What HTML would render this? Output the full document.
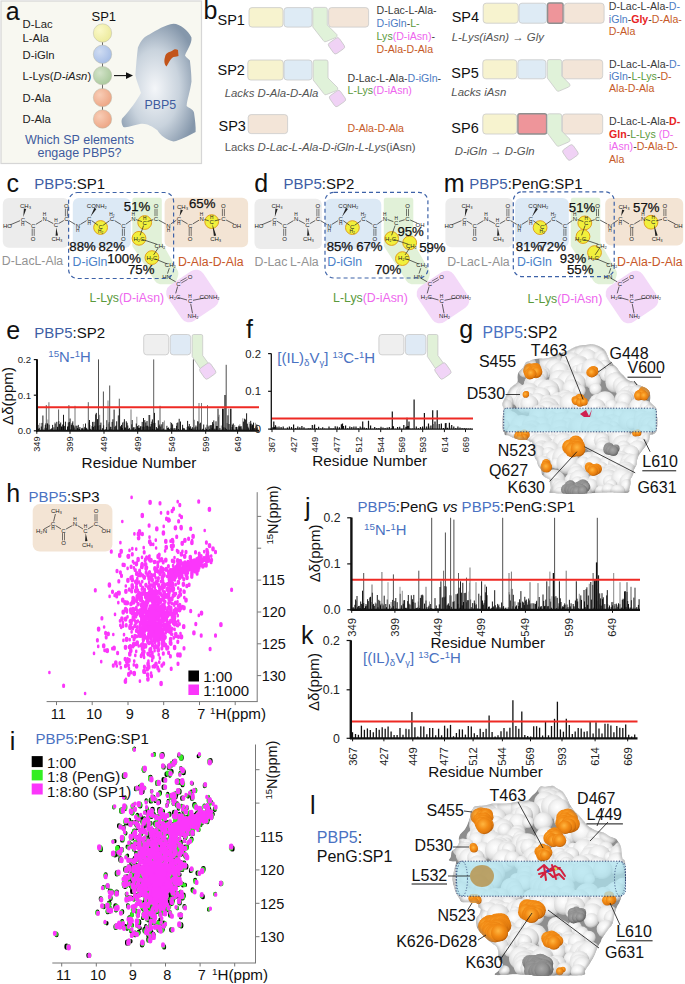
<!DOCTYPE html>
<html><head><meta charset="utf-8"><style>
html,body{margin:0;padding:0;background:#fff;}
body{width:685px;height:984px;overflow:hidden;}
svg{display:block;font-family:"Liberation Sans", sans-serif;}
</style></head><body>
<svg width="685" height="984" viewBox="0 0 685 984">
<defs><radialGradient id="gy" cx="35%" cy="35%" r="70%"><stop offset="0" stop-color="#fbf9c8"/><stop offset="1" stop-color="#ecea9c"/></radialGradient><radialGradient id="gb" cx="35%" cy="35%" r="70%"><stop offset="0" stop-color="#cfdcf2"/><stop offset="1" stop-color="#a6bde6"/></radialGradient><radialGradient id="gg" cx="35%" cy="35%" r="70%"><stop offset="0" stop-color="#d3e3c9"/><stop offset="1" stop-color="#aac99c"/></radialGradient><radialGradient id="go" cx="35%" cy="35%" r="70%"><stop offset="0" stop-color="#f8cdb6"/><stop offset="1" stop-color="#eda584"/></radialGradient><radialGradient id="gp" cx="45%" cy="55%" r="60%"><stop offset="0" stop-color="#f4f6f9"/><stop offset="0.55" stop-color="#c9d3dd"/><stop offset="1" stop-color="#8597ab"/></radialGradient></defs>
<rect x="1.0" y="1.0" width="200.5" height="162.5" fill="#f8f8f1" stroke="#d6d6d6" stroke-width="1.2"/>
<text x="5.8" y="19.6" font-size="25" fill="#111">a</text>
<text x="91.5" y="20.5" font-size="13" fill="#111">SP1</text>
<text x="22.5" y="28.2" font-size="11.3" fill="#222">D-Lac</text>
<text x="22.5" y="41.8" font-size="11.3" fill="#222">L-Ala</text>
<text x="22.5" y="58.6" font-size="11.3" fill="#222">D-iGln</text>
<text x="22.5" y="101.5" font-size="11.3" fill="#222">D-Ala</text>
<text x="22.5" y="122.5" font-size="11.3" fill="#222">D-Ala</text>
<text x="22.5" y="80" font-size="11.3" fill="#222">L-Lys(<tspan font-style="italic">D-iAsn</tspan>)</text>
<line x1="102.5" y1="33.0" x2="102.5" y2="119.0" stroke="#444" stroke-width="0.8" />
<circle cx="102.5" cy="33.0" r="9.2" fill="url(#gy)" stroke="#b8b8a8" stroke-width="0.5"/>
<circle cx="102.5" cy="54.3" r="9.2" fill="url(#gb)" stroke="#b8b8a8" stroke-width="0.5"/>
<circle cx="102.5" cy="75.6" r="9.2" fill="url(#gg)" stroke="#b8b8a8" stroke-width="0.5"/>
<circle cx="102.5" cy="97.6" r="9.2" fill="url(#go)" stroke="#b8b8a8" stroke-width="0.5"/>
<circle cx="102.5" cy="119.0" r="9.2" fill="url(#go)" stroke="#b8b8a8" stroke-width="0.5"/>
<line x1="114.0" y1="75.6" x2="127.0" y2="75.6" stroke="#111" stroke-width="1.1" />
<path d="M126,72.3 L133,75.6 L126,78.9 Z" fill="#111"/>
<path d="M173.6,23.8 C180,24 188,30 191.5,37.6 C192,44 187,50 185,55.5 C186,58 189,59 189.9,60.4 C191,70 191.5,76 191.5,81.5 C190,92 187,100 186.6,105.9 C189,108 193,109 194,112.4 C195,120 196,127 195.6,131.9 C188,136 180,140 173.6,141.6 C166,140 160,135 157.4,130.3 C152,126 146,123 141,123.8 C134,125 128,128 123.3,127 C121,123 121,119 123.3,117.3 C130,110 137,100 141,92.9 C139,86 136,80 135.4,75 C136,65 137,55 137.9,47.4 C141,40 145,36 149.3,34.4 C157,30 165,25 173.6,23.8 Z" fill="url(#gp)"/>
<path d="M165,57 C166,52 170,52 172,51 C174,49 176,49 178,50 L178.5,56 C176,57 174,56 172,58 C170,60 168,64 166.5,66.5 C164,64 164,60 165,57 Z" fill="#c2541a"/>
<text x="144.5" y="108.8" font-size="12.4" fill="#3e5b9e">PBP5</text>
<text x="79.5" y="143.8" font-size="12.5" fill="#3e5b9e" text-anchor="middle">Which SP elements</text>
<text x="79.5" y="157.0" font-size="12.5" fill="#3e5b9e" text-anchor="middle">engage PBP5?</text>
<text x="203.6" y="19.2" font-size="25" fill="#111">b</text>
<text x="217.5" y="24.7" font-size="14.5" fill="#111">SP1</text>
<rect x="249.0" y="7.6" width="34.0" height="19.5" fill="#f7f3cf" rx="3" stroke="#c9c9c9" stroke-width="0.8"/>
<rect x="284.0" y="7.6" width="28.0" height="19.5" fill="#deebf5" rx="3" stroke="#c9c9c9" stroke-width="0.8"/>
<rect x="328.6" y="7.6" width="40.0" height="19.5" fill="#f3e5d8" rx="3" stroke="#c9c9c9" stroke-width="0.8"/>
<path d="M314.8,7.4 L325.3,7.4 Q327.3,7.4 327.3,9.4 L327.3,25 L336.8,34.5 Q337.8,36.5 335.8,37.5 L326.3,41.5 Q324.3,42.5 323.3,40.5 L312.8,27 L312.8,9.4 Q312.8,7.4 314.8,7.4 Z" fill="#e0f2d9" stroke="#c9c9c9" stroke-width="0.8" stroke-linejoin="round"/>
<rect x="330.0" y="39.3" width="13" height="13" rx="2.5" fill="#f0d2f5" stroke="#c9c9c9" stroke-width="0.8" transform="rotate(-35 336.5 45.8)"/>
<text x="376.6" y="14.3" font-size="10.6" fill="#3a3a3a">D-Lac-L-Ala-</text>
<text x="376.6" y="27.3" font-size="10.6"><tspan fill="#4d7cc4">D-iGln</tspan><tspan fill="#3a3a3a">-</tspan><tspan fill="#5b9a3c">L-</tspan></text>
<text x="376.6" y="40.1" font-size="10.6"><tspan fill="#5b9a3c">Lys</tspan><tspan fill="#ee66ee">(D-iAsn)</tspan><tspan fill="#3a3a3a">-</tspan></text>
<text x="376.6" y="52.7" font-size="10.6" fill="#c65a28">D-Ala-D-Ala</text>
<text x="217.5" y="75.2" font-size="14.5" fill="#111">SP2</text>
<rect x="247.8" y="60.0" width="35.5" height="20.0" fill="#f7f3cf" rx="3" stroke="#c9c9c9" stroke-width="0.8"/>
<rect x="284.0" y="60.0" width="28.0" height="20.0" fill="#deebf5" rx="3" stroke="#c9c9c9" stroke-width="0.8"/>
<path d="M315.2,60 L326,60 Q328,60 328,62 L328,78 L337.5,87.5 Q338.5,89.5 336.5,90.5 L326.7,94.5 Q324.7,95.5 323.7,93.5 L313.2,80 L313.2,62 Q313.2,60 315.2,60 Z" fill="#e0f2d9" stroke="#c9c9c9" stroke-width="0.8" stroke-linejoin="round"/>
<rect x="331.0" y="92.0" width="13" height="13" rx="2.5" fill="#f0d2f5" stroke="#c9c9c9" stroke-width="0.8" transform="rotate(-35 337.5 98.5)"/>
<text x="224.7" y="96.6" font-size="11.4" fill="#555" font-style="italic">Lacks D-Ala-D-Ala</text>
<text x="347.5" y="82" font-size="10.6"><tspan fill="#3a3a3a">D-Lac-L-Ala-</tspan><tspan fill="#4d7cc4">D-iGln</tspan><tspan fill="#3a3a3a">-</tspan></text>
<text x="347.5" y="94.3" font-size="10.6"><tspan fill="#5b9a3c">L-Lys</tspan><tspan fill="#ee66ee">(D-iAsn)</tspan></text>
<text x="218.5" y="130.6" font-size="14.5" fill="#111">SP3</text>
<rect x="248.2" y="114.6" width="39.4" height="19.0" fill="#f3e5d8" rx="3" stroke="#c9c9c9" stroke-width="0.8"/>
<text x="347.5" y="132.0" font-size="10.6" fill="#c65a28">D-Ala-D-Ala</text>
<text x="224.7" y="150.7" font-size="11.4" fill="#555">Lacks <tspan font-style="italic">D-Lac-L-Ala-D-iGln-L-Lys</tspan>(iAsn)</text>
<text x="451.7" y="21.9" font-size="14.5" fill="#111">SP4</text>
<rect x="483.2" y="3.2" width="35.0" height="20.0" fill="#f7f3cf" rx="3" stroke="#c9c9c9" stroke-width="0.8"/>
<rect x="519.0" y="3.2" width="27.6" height="20.0" fill="#deebf5" rx="3" stroke="#c9c9c9" stroke-width="0.8"/>
<rect x="547.6" y="3.0" width="15.5" height="20.2" fill="#ee959a" rx="2" stroke="#8f8f8f" stroke-width="1.4"/>
<rect x="564.3" y="3.2" width="39.8" height="20.0" fill="#f3e5d8" rx="3" stroke="#c9c9c9" stroke-width="0.8"/>
<text x="451.7" y="40.6" font-size="11.4" fill="#555" font-style="italic">L-Lys(iAsn) → Gly</text>
<text x="608.8" y="10.2" font-size="10.6"><tspan fill="#3a3a3a">D-Lac-L-Ala-</tspan><tspan fill="#4d7cc4">D-</tspan></text>
<text x="608.8" y="22.6" font-size="10.6"><tspan fill="#4d7cc4">iGln</tspan><tspan fill="#3a3a3a">-</tspan><tspan fill="#e8231f" font-weight="bold">Gly</tspan><tspan fill="#3a3a3a">-</tspan><tspan fill="#c65a28">D-Ala-</tspan></text>
<text x="608.8" y="35.0" font-size="10.6" fill="#c65a28">D-Ala</text>
<text x="451.3" y="78.0" font-size="14.5" fill="#111">SP5</text>
<rect x="482.8" y="59.8" width="34.0" height="19.0" fill="#f7f3cf" rx="3" stroke="#c9c9c9" stroke-width="0.8"/>
<rect x="517.9" y="59.8" width="28.0" height="19.0" fill="#deebf5" rx="3" stroke="#c9c9c9" stroke-width="0.8"/>
<rect x="562.4" y="59.8" width="40.3" height="19.0" fill="#f3e5d8" rx="3" stroke="#c9c9c9" stroke-width="0.8"/>
<path d="M549.3,59.6 L559.7,59.6 Q561.7,59.6 561.7,61.6 L561.7,76 L569.7,84 Q570.7,86 568.7,87 L559.3,91 Q557.3,92 556.3,90 L547.3,78 L547.3,61.6 Q547.3,59.6 549.3,59.6 Z" fill="#e0f2d9" stroke="#c9c9c9" stroke-width="0.8" stroke-linejoin="round"/>
<text x="451.3" y="95.5" font-size="11.4" fill="#555" font-style="italic">Lacks iAsn</text>
<text x="609" y="67.5" font-size="10.6"><tspan fill="#3a3a3a">D-Lac-L-Ala-</tspan><tspan fill="#4d7cc4">D-</tspan></text>
<text x="609" y="79.5" font-size="10.6"><tspan fill="#4d7cc4">iGln</tspan><tspan fill="#3a3a3a">-</tspan><tspan fill="#5b9a3c">L-Lys</tspan><tspan fill="#3a3a3a">-</tspan><tspan fill="#c65a28">D-</tspan></text>
<text x="609.0" y="91.5" font-size="10.6" fill="#c65a28">Ala-D-Ala</text>
<text x="451.3" y="133.4" font-size="14.5" fill="#111">SP6</text>
<rect x="482.8" y="114.0" width="34.0" height="20.0" fill="#f7f3cf" rx="3" stroke="#c9c9c9" stroke-width="0.8"/>
<rect x="517.9" y="113.8" width="28.7" height="20.2" fill="#ee959a" rx="2" stroke="#8f8f8f" stroke-width="1.4"/>
<rect x="562.4" y="114.0" width="40.3" height="20.0" fill="#f3e5d8" rx="3" stroke="#c9c9c9" stroke-width="0.8"/>
<path d="M549.3,113.8 L559.7,113.8 Q561.7,113.8 561.7,115.8 L561.7,131 L569.7,139 Q570.7,141 568.7,142 L559.3,146 Q557.3,147 556.3,145 L547.3,133 L547.3,115.8 Q547.3,113.8 549.3,113.8 Z" fill="#e0f2d9" stroke="#c9c9c9" stroke-width="0.8" stroke-linejoin="round"/>
<rect x="564.2" y="146.2" width="12.5" height="12.5" rx="2.5" fill="#f0d2f5" stroke="#c9c9c9" stroke-width="0.8" transform="rotate(-35 570.5 152.5)"/>
<text x="454.8" y="155.1" font-size="11.4" fill="#555" font-style="italic">D-iGln → D-Gln</text>
<text x="609" y="125.3" font-size="10.6"><tspan fill="#3a3a3a">D-Lac-L-Ala-</tspan><tspan fill="#e8231f" font-weight="bold">D-</tspan></text>
<text x="609" y="137.6" font-size="10.6"><tspan fill="#e8231f" font-weight="bold">Gln</tspan><tspan fill="#3a3a3a">-</tspan><tspan fill="#5b9a3c">L-Lys </tspan><tspan fill="#ee66ee">(D-</tspan></text>
<text x="609" y="149.9" font-size="10.6"><tspan fill="#ee66ee">iAsn)</tspan><tspan fill="#3a3a3a">-</tspan><tspan fill="#c65a28">D-Ala-D-</tspan></text>
<text x="609.0" y="162.5" font-size="10.6" fill="#c65a28">Ala</text>
<text x="6.6" y="192.0" font-size="25" fill="#111">c</text>
<text x="34.2" y="189" font-size="15"><tspan fill="#3e5ea5">PBP5</tspan><tspan fill="#111">:SP1</tspan></text>
<rect x="2.8" y="198.0" width="66.5" height="49.8" fill="#ececec" rx="6"/>
<rect x="72.8" y="198.0" width="58.0" height="50.0" fill="#dce9f5" rx="6"/>
<path d="M134.5,197.8 L159.6,197.8 Q161.8,197.8 161.8,200 L161.8,242.4 L177.9,270.9 Q178.8,273 178,276 L176,282 Q175,284.2 172,284.2 L160,284.2 Q157,284.2 155,281 L132.3,246 L132.3,200 Q132.3,197.8 134.5,197.8 Z" fill="#e1f1d8"/>
<rect x="164.6" y="197.8" width="83.5" height="49.4" fill="#f3e4d4" rx="6"/>
<rect x="171.0" y="274.5" width="43" height="43" rx="9" fill="#f3d8f8" transform="rotate(-34 192.5 296.0)"/>
<circle cx="100.6" cy="227.5" r="6.9" fill="#f1f03c" stroke="#e0a020" stroke-width="1.0"/>
<circle cx="144.7" cy="222.5" r="6.9" fill="#f1f03c" stroke="#e0a020" stroke-width="1.0"/>
<circle cx="139.0" cy="238.3" r="6.9" fill="#f1f03c" stroke="#e0a020" stroke-width="1.0"/>
<circle cx="151.9" cy="257.6" r="6.9" fill="#f1f03c" stroke="#e0a020" stroke-width="1.0"/>
<circle cx="211.7" cy="221.6" r="6.9" fill="#f1f03c" stroke="#e0a020" stroke-width="1.0"/>
<line x1="10.3" y1="224.8" x2="20.0" y2="220.7" stroke="#222" stroke-width="0.7" />
<line x1="25.3" y1="221.1" x2="30.7" y2="224.4" stroke="#222" stroke-width="0.7" />
<line x1="35.8" y1="224.4" x2="42.0" y2="220.6" stroke="#222" stroke-width="0.7" />
<line x1="47.3" y1="220.4" x2="53.3" y2="223.6" stroke="#222" stroke-width="0.7" />
<line x1="58.6" y1="223.5" x2="63.8" y2="220.5" stroke="#222" stroke-width="0.7" />
<line x1="69.0" y1="220.6" x2="75.2" y2="224.4" stroke="#222" stroke-width="0.7" />
<line x1="80.4" y1="224.4" x2="86.6" y2="220.6" stroke="#222" stroke-width="0.7" />
<line x1="91.7" y1="220.7" x2="98.1" y2="225.3" stroke="#222" stroke-width="0.7" />
<line x1="103.1" y1="225.3" x2="109.5" y2="220.7" stroke="#222" stroke-width="0.7" />
<line x1="114.6" y1="220.6" x2="120.8" y2="224.4" stroke="#222" stroke-width="0.7" />
<line x1="125.8" y1="224.2" x2="130.9" y2="220.5" stroke="#222" stroke-width="0.7" />
<line x1="136.1" y1="219.6" x2="141.9" y2="221.6" stroke="#222" stroke-width="0.7" />
<line x1="147.5" y1="221.5" x2="153.2" y2="219.7" stroke="#222" stroke-width="0.7" />
<line x1="158.6" y1="220.1" x2="165.8" y2="224.0" stroke="#222" stroke-width="0.7" />
<line x1="170.9" y1="223.8" x2="176.3" y2="220.3" stroke="#222" stroke-width="0.7" />
<line x1="181.4" y1="220.2" x2="187.6" y2="223.9" stroke="#222" stroke-width="0.7" />
<line x1="192.8" y1="223.9" x2="199.0" y2="220.2" stroke="#222" stroke-width="0.7" />
<line x1="204.5" y1="219.5" x2="208.8" y2="220.8" stroke="#222" stroke-width="0.7" />
<line x1="214.6" y1="220.9" x2="220.5" y2="219.4" stroke="#222" stroke-width="0.7" />
<line x1="226.1" y1="220.0" x2="234.0" y2="224.1" stroke="#222" stroke-width="0.7" />
<text x="7.5" y="228.2" font-size="6.0" fill="#222" text-anchor="middle">HO</text>
<text x="22.8" y="221.7" font-size="6.0" fill="#222" text-anchor="middle">C</text>
<text x="33.2" y="228.2" font-size="6.0" fill="#222" text-anchor="middle">C</text>
<text x="44.6" y="221.2" font-size="6.0" fill="#222" text-anchor="middle">N</text>
<text x="56.0" y="227.2" font-size="6.0" fill="#222" text-anchor="middle">C</text>
<text x="66.4" y="221.2" font-size="6.0" fill="#222" text-anchor="middle">C</text>
<text x="77.8" y="228.2" font-size="6.0" fill="#222" text-anchor="middle">N</text>
<text x="89.2" y="221.2" font-size="6.0" fill="#222" text-anchor="middle">C</text>
<text x="100.6" y="229.2" font-size="6.0" fill="#222" text-anchor="middle">C</text>
<text x="112.0" y="221.2" font-size="6.0" fill="#222" text-anchor="middle">C</text>
<text x="123.4" y="228.2" font-size="6.0" fill="#222" text-anchor="middle">C</text>
<text x="133.3" y="220.9" font-size="6.0" fill="#222" text-anchor="middle">N</text>
<text x="144.7" y="224.7" font-size="6.0" fill="#222" text-anchor="middle">C</text>
<text x="156.0" y="220.9" font-size="6.0" fill="#222" text-anchor="middle">C</text>
<text x="168.4" y="227.6" font-size="6.0" fill="#222" text-anchor="middle">N</text>
<text x="178.8" y="220.9" font-size="6.0" fill="#222" text-anchor="middle">C</text>
<text x="190.2" y="227.6" font-size="6.0" fill="#222" text-anchor="middle">C</text>
<text x="201.6" y="220.9" font-size="6.0" fill="#222" text-anchor="middle">N</text>
<text x="211.7" y="223.8" font-size="6.0" fill="#222" text-anchor="middle">C</text>
<text x="223.4" y="220.9" font-size="6.0" fill="#222" text-anchor="middle">C</text>
<text x="236.7" y="227.6" font-size="6.0" fill="#222" text-anchor="middle">OH</text>
<path d="M23.3,217.1 L26.2,209.0 L23.9,208.5 Z" fill="#222"/>
<text x="25.6" y="208.2" font-size="6.0" fill="#222" text-anchor="middle">CH₃</text>
<text x="22.8" y="225.8" font-size="4.8" fill="#222" text-anchor="middle">H</text>
<line x1="34.2" y1="228.6" x2="34.2" y2="235.9" stroke="#222" stroke-width="0.6" /><line x1="32.2" y1="228.6" x2="32.2" y2="235.9" stroke="#222" stroke-width="0.6" />
<text x="33.2" y="240.7" font-size="6.0" fill="#222" text-anchor="middle">O</text>
<text x="44.6" y="216.1" font-size="4.8" fill="#222" text-anchor="middle">H</text>
<path d="M56.2,227.5 L55.6,235.8 L58.0,235.6 Z" fill="#222"/>
<text x="57.0" y="240.7" font-size="6.0" fill="#222" text-anchor="middle">CH₃</text>
<text x="56.0" y="222.1" font-size="4.8" fill="#222" text-anchor="middle">H</text>
<line x1="65.4" y1="216.4" x2="65.4" y2="208.6" stroke="#222" stroke-width="0.6" /><line x1="67.4" y1="216.4" x2="67.4" y2="208.6" stroke="#222" stroke-width="0.6" />
<text x="66.4" y="208.2" font-size="6.0" fill="#222" text-anchor="middle">O</text>
<text x="77.8" y="232.3" font-size="4.8" fill="#222" text-anchor="middle">H</text>
<path d="M90.5,216.8 L96.4,209.0 L94.4,207.8 Z" fill="#222"/>
<text x="96.8" y="208.2" font-size="6.0" fill="#222" text-anchor="middle">CONH₂</text>
<text x="89.2" y="225.3" font-size="4.8" fill="#222" text-anchor="middle">H</text>
<text x="100.6" y="233.3" font-size="4.8" fill="#222" text-anchor="middle">H₂</text>
<text x="112.0" y="216.1" font-size="4.8" fill="#222" text-anchor="middle">H₂</text>
<line x1="124.4" y1="228.6" x2="124.4" y2="235.9" stroke="#222" stroke-width="0.6" /><line x1="122.4" y1="228.6" x2="122.4" y2="235.9" stroke="#222" stroke-width="0.6" />
<text x="123.4" y="240.7" font-size="6.0" fill="#222" text-anchor="middle">O</text>
<text x="133.3" y="215.8" font-size="4.8" fill="#222" text-anchor="middle">H</text>
<text x="144.7" y="219.6" font-size="4.8" fill="#222" text-anchor="middle">H</text>
<line x1="155.0" y1="216.1" x2="155.0" y2="208.8" stroke="#222" stroke-width="0.6" /><line x1="157.0" y1="216.1" x2="157.0" y2="208.8" stroke="#222" stroke-width="0.6" />
<text x="156.0" y="208.4" font-size="6.0" fill="#222" text-anchor="middle">O</text>
<text x="168.4" y="231.7" font-size="4.8" fill="#222" text-anchor="middle">H</text>
<path d="M179.6,216.3 L182.9,210.2 L180.6,209.5 Z" fill="#222"/>
<text x="182.6" y="209.4" font-size="6.0" fill="#222" text-anchor="middle">CH₃</text>
<text x="178.8" y="225.0" font-size="4.8" fill="#222" text-anchor="middle">H</text>
<line x1="191.2" y1="228.0" x2="191.2" y2="236.1" stroke="#222" stroke-width="0.6" /><line x1="189.2" y1="228.0" x2="189.2" y2="236.1" stroke="#222" stroke-width="0.6" />
<text x="190.2" y="240.9" font-size="6.0" fill="#222" text-anchor="middle">O</text>
<text x="201.6" y="215.8" font-size="4.8" fill="#222" text-anchor="middle">H</text>
<line x1="222.4" y1="216.1" x2="222.4" y2="208.8" stroke="#222" stroke-width="0.6" /><line x1="224.4" y1="216.1" x2="224.4" y2="208.8" stroke="#222" stroke-width="0.6" />
<text x="223.4" y="208.4" font-size="6.0" fill="#222" text-anchor="middle">O</text>
<path d="M212.3,224.0 L213.9,236.1 L216.2,235.6 Z" fill="#222"/>
<text x="215.7" y="240.8" font-size="6.0" fill="#222" text-anchor="middle">CH₃</text>
<text x="211.7" y="218.7" font-size="4.8" fill="#222" text-anchor="middle">H</text>
<line x1="143.6" y1="225.5" x2="140.1" y2="235.3" stroke="#222" stroke-width="0.7" />
<line x1="142.0" y1="239.3" x2="156.9" y2="244.3" stroke="#222" stroke-width="0.7" />
<line x1="158.2" y1="248.0" x2="153.6" y2="254.9" stroke="#222" stroke-width="0.7" />
<line x1="154.9" y1="258.8" x2="167.3" y2="264.0" stroke="#222" stroke-width="0.7" />
<line x1="169.3" y1="268.2" x2="167.5" y2="273.6" stroke="#222" stroke-width="0.7" />
<line x1="169.3" y1="278.2" x2="175.7" y2="281.8" stroke="#222" stroke-width="0.7" />
<line x1="177.6" y1="286.5" x2="175.7" y2="293.4" stroke="#222" stroke-width="0.7" />
<line x1="177.9" y1="297.4" x2="187.0" y2="300.0" stroke="#222" stroke-width="0.7" />
<text x="139.0" y="240.5" font-size="6.0" fill="#222" text-anchor="middle">H₂C</text>
<text x="159.9" y="247.5" font-size="6.0" fill="#222" text-anchor="middle">CH₂</text>
<text x="151.9" y="259.8" font-size="6.0" fill="#222" text-anchor="middle">H₂C</text>
<text x="170.3" y="267.4" font-size="6.0" fill="#222" text-anchor="middle">CH₂</text>
<text x="166.5" y="278.8" font-size="6.0" fill="#222" text-anchor="middle">HN</text>
<text x="178.5" y="285.6" font-size="6.0" fill="#222" text-anchor="middle">C</text>
<text x="174.8" y="298.7" font-size="6.0" fill="#222" text-anchor="middle">H₂C</text>
<text x="190.1" y="303.1" font-size="6.0" fill="#222" text-anchor="middle">C</text>
<line x1="180.3" y1="281.2" x2="186.6" y2="277.6" stroke="#222" stroke-width="0.6" /><line x1="181.3" y1="283.0" x2="187.6" y2="279.4" stroke="#222" stroke-width="0.6" />
<text x="190.0" y="279.1" font-size="6.0" fill="#222" text-anchor="middle">O</text>
<text x="190.1" y="298.0" font-size="4.8" fill="#222" text-anchor="middle">H</text>
<line x1="193.0" y1="300.3" x2="205.5" y2="297.8" stroke="#222" stroke-width="0.7" />
<text x="209.6" y="299.4" font-size="6.0" fill="#222" text-anchor="middle">CONH₂</text>
<line x1="190.7" y1="303.8" x2="192.5" y2="313.3" stroke="#222" stroke-width="0.7" />
<text x="193.1" y="318.4" font-size="6.0" fill="#222" text-anchor="middle">NH₂</text>
<rect x="68.6" y="192.5" width="105.0" height="86.0" fill="none" rx="9" stroke="#3d62a8" stroke-width="1.2" stroke-dasharray="4,3"/>
<text x="123.8" y="210.5" font-size="13.2" fill="#111" stroke="#111" stroke-width="0.25">51%</text>
<text x="189.0" y="207.7" font-size="13.2" fill="#111" stroke="#111" stroke-width="0.25">65%</text>
<text x="69.3" y="250.7" font-size="13.2" fill="#111" stroke="#111" stroke-width="0.25">88%</text>
<text x="98.5" y="250.7" font-size="13.2" fill="#111" stroke="#111" stroke-width="0.25">82%</text>
<text x="107.2" y="263.2" font-size="13.2" fill="#111" stroke="#111" stroke-width="0.25">100%</text>
<text x="128.0" y="274.3" font-size="13.2" fill="#111" stroke="#111" stroke-width="0.25">75%</text>
<text x="1.8" y="265.4" font-size="12.3" fill="#939393">D-Lac</text>
<text x="34.5" y="265.4" font-size="12.3" fill="#939393">L-Ala</text>
<text x="72.5" y="266.0" font-size="12.3" fill="#4a7fc8">D-iGln</text>
<text x="177.9" y="266.0" font-size="12.3" fill="#c8582a">D-Ala-D-Ala</text>
<text x="89.4" y="302" font-size="12.3"><tspan fill="#5b9a3c">L-Lys</tspan><tspan fill="#ee66ee">(D-iAsn)</tspan></text>
<text x="254.2" y="191.6" font-size="25" fill="#111">d</text>
<text x="283.4" y="189.1" font-size="15"><tspan fill="#3e5ea5">PBP5</tspan><tspan fill="#111">:SP2</tspan></text>
<rect x="254.5" y="198.7" width="67.4" height="50.4" fill="#ececec" rx="6"/>
<rect x="325.1" y="198.7" width="56.2" height="50.4" fill="#dce9f5" rx="6"/>
<path d="M386.0,197.8 L411.1,197.8 Q413.3,197.8 413.3,200 L413.3,242.4 L429.4,270.9 Q430.3,273 429.5,276 L427.5,282 Q426.5,284.2 423.5,284.2 L411.5,284.2 Q408.5,284.2 406.5,281 L383.8,246 L383.8,200 Q383.8,197.8 386.0,197.8 Z" fill="#e1f1d8"/>
<rect x="421.5" y="275.5" width="43" height="43" rx="9" fill="#f3d8f8" transform="rotate(-34 443.0 297.0)"/>
<circle cx="352.4" cy="227.6" r="6.9" fill="#f1f03c" stroke="#e0a020" stroke-width="1.0"/>
<circle cx="391.6" cy="238.5" r="6.9" fill="#f1f03c" stroke="#e0a020" stroke-width="1.0"/>
<circle cx="409.7" cy="242.8" r="6.9" fill="#f1f03c" stroke="#e0a020" stroke-width="1.0"/>
<circle cx="402.4" cy="258.6" r="6.9" fill="#f1f03c" stroke="#e0a020" stroke-width="1.0"/>
<line x1="261.8" y1="224.8" x2="271.5" y2="220.7" stroke="#222" stroke-width="0.7" />
<line x1="276.8" y1="221.1" x2="282.2" y2="224.4" stroke="#222" stroke-width="0.7" />
<line x1="287.3" y1="224.4" x2="293.5" y2="220.6" stroke="#222" stroke-width="0.7" />
<line x1="298.8" y1="220.4" x2="304.8" y2="223.6" stroke="#222" stroke-width="0.7" />
<line x1="310.1" y1="223.5" x2="315.3" y2="220.5" stroke="#222" stroke-width="0.7" />
<line x1="320.5" y1="220.6" x2="326.7" y2="224.4" stroke="#222" stroke-width="0.7" />
<line x1="331.9" y1="224.4" x2="338.1" y2="220.6" stroke="#222" stroke-width="0.7" />
<line x1="343.2" y1="220.7" x2="349.6" y2="225.3" stroke="#222" stroke-width="0.7" />
<line x1="354.6" y1="225.3" x2="361.0" y2="220.7" stroke="#222" stroke-width="0.7" />
<line x1="366.1" y1="220.6" x2="372.3" y2="224.4" stroke="#222" stroke-width="0.7" />
<line x1="377.3" y1="224.2" x2="382.4" y2="220.5" stroke="#222" stroke-width="0.7" />
<line x1="387.6" y1="219.6" x2="393.4" y2="221.6" stroke="#222" stroke-width="0.7" />
<line x1="399.0" y1="221.5" x2="404.7" y2="219.7" stroke="#222" stroke-width="0.7" />
<line x1="410.2" y1="220.0" x2="417.3" y2="223.2" stroke="#222" stroke-width="0.7" />
<text x="259.0" y="228.2" font-size="6.0" fill="#222" text-anchor="middle">HO</text>
<text x="274.3" y="221.7" font-size="6.0" fill="#222" text-anchor="middle">C</text>
<text x="284.7" y="228.2" font-size="6.0" fill="#222" text-anchor="middle">C</text>
<text x="296.1" y="221.2" font-size="6.0" fill="#222" text-anchor="middle">N</text>
<text x="307.5" y="227.2" font-size="6.0" fill="#222" text-anchor="middle">C</text>
<text x="317.9" y="221.2" font-size="6.0" fill="#222" text-anchor="middle">C</text>
<text x="329.3" y="228.2" font-size="6.0" fill="#222" text-anchor="middle">N</text>
<text x="340.7" y="221.2" font-size="6.0" fill="#222" text-anchor="middle">C</text>
<text x="352.1" y="229.2" font-size="6.0" fill="#222" text-anchor="middle">C</text>
<text x="363.5" y="221.2" font-size="6.0" fill="#222" text-anchor="middle">C</text>
<text x="374.9" y="228.2" font-size="6.0" fill="#222" text-anchor="middle">C</text>
<text x="384.8" y="220.9" font-size="6.0" fill="#222" text-anchor="middle">N</text>
<text x="396.2" y="224.7" font-size="6.0" fill="#222" text-anchor="middle">C</text>
<text x="407.5" y="220.9" font-size="6.0" fill="#222" text-anchor="middle">C</text>
<text x="420.0" y="226.7" font-size="6.0" fill="#222" text-anchor="middle">OH</text>
<path d="M274.8,217.1 L277.7,209.0 L275.4,208.5 Z" fill="#222"/>
<text x="277.1" y="208.2" font-size="6.0" fill="#222" text-anchor="middle">CH₃</text>
<text x="274.3" y="225.8" font-size="4.8" fill="#222" text-anchor="middle">H</text>
<line x1="285.7" y1="228.6" x2="285.7" y2="235.9" stroke="#222" stroke-width="0.6" /><line x1="283.7" y1="228.6" x2="283.7" y2="235.9" stroke="#222" stroke-width="0.6" />
<text x="284.7" y="240.7" font-size="6.0" fill="#222" text-anchor="middle">O</text>
<text x="296.1" y="216.1" font-size="4.8" fill="#222" text-anchor="middle">H</text>
<path d="M307.7,227.5 L307.1,235.8 L309.5,235.6 Z" fill="#222"/>
<text x="308.5" y="240.7" font-size="6.0" fill="#222" text-anchor="middle">CH₃</text>
<text x="307.5" y="222.1" font-size="4.8" fill="#222" text-anchor="middle">H</text>
<line x1="316.9" y1="216.4" x2="316.9" y2="208.6" stroke="#222" stroke-width="0.6" /><line x1="318.9" y1="216.4" x2="318.9" y2="208.6" stroke="#222" stroke-width="0.6" />
<text x="317.9" y="208.2" font-size="6.0" fill="#222" text-anchor="middle">O</text>
<text x="329.3" y="232.3" font-size="4.8" fill="#222" text-anchor="middle">H</text>
<path d="M342.0,216.8 L347.9,209.0 L345.9,207.8 Z" fill="#222"/>
<text x="348.3" y="208.2" font-size="6.0" fill="#222" text-anchor="middle">CONH₂</text>
<text x="340.7" y="225.3" font-size="4.8" fill="#222" text-anchor="middle">H</text>
<text x="352.1" y="233.3" font-size="4.8" fill="#222" text-anchor="middle">H₂</text>
<text x="363.5" y="216.1" font-size="4.8" fill="#222" text-anchor="middle">H₂</text>
<line x1="375.9" y1="228.6" x2="375.9" y2="235.9" stroke="#222" stroke-width="0.6" /><line x1="373.9" y1="228.6" x2="373.9" y2="235.9" stroke="#222" stroke-width="0.6" />
<text x="374.9" y="240.7" font-size="6.0" fill="#222" text-anchor="middle">O</text>
<text x="384.8" y="215.8" font-size="4.8" fill="#222" text-anchor="middle">H</text>
<text x="396.2" y="219.6" font-size="4.8" fill="#222" text-anchor="middle">H</text>
<line x1="406.5" y1="216.1" x2="406.5" y2="208.8" stroke="#222" stroke-width="0.6" /><line x1="408.5" y1="216.1" x2="408.5" y2="208.8" stroke="#222" stroke-width="0.6" />
<text x="407.5" y="208.4" font-size="6.0" fill="#222" text-anchor="middle">O</text>
<line x1="395.1" y1="225.5" x2="391.6" y2="235.3" stroke="#222" stroke-width="0.7" />
<line x1="393.5" y1="239.3" x2="408.4" y2="244.3" stroke="#222" stroke-width="0.7" />
<line x1="409.7" y1="248.0" x2="405.1" y2="254.9" stroke="#222" stroke-width="0.7" />
<line x1="406.4" y1="258.8" x2="418.8" y2="264.0" stroke="#222" stroke-width="0.7" />
<line x1="420.8" y1="268.2" x2="419.0" y2="273.6" stroke="#222" stroke-width="0.7" />
<line x1="420.8" y1="278.2" x2="427.2" y2="281.8" stroke="#222" stroke-width="0.7" />
<line x1="429.1" y1="286.5" x2="427.2" y2="293.4" stroke="#222" stroke-width="0.7" />
<line x1="429.4" y1="297.4" x2="438.5" y2="300.0" stroke="#222" stroke-width="0.7" />
<text x="390.5" y="240.5" font-size="6.0" fill="#222" text-anchor="middle">H₂C</text>
<text x="411.4" y="247.5" font-size="6.0" fill="#222" text-anchor="middle">CH₂</text>
<text x="403.4" y="259.8" font-size="6.0" fill="#222" text-anchor="middle">H₂C</text>
<text x="421.8" y="267.4" font-size="6.0" fill="#222" text-anchor="middle">CH₂</text>
<text x="418.0" y="278.8" font-size="6.0" fill="#222" text-anchor="middle">HN</text>
<text x="430.0" y="285.6" font-size="6.0" fill="#222" text-anchor="middle">C</text>
<text x="426.3" y="298.7" font-size="6.0" fill="#222" text-anchor="middle">H₂C</text>
<text x="441.6" y="303.1" font-size="6.0" fill="#222" text-anchor="middle">C</text>
<line x1="431.8" y1="281.2" x2="438.1" y2="277.6" stroke="#222" stroke-width="0.6" /><line x1="432.8" y1="283.0" x2="439.1" y2="279.4" stroke="#222" stroke-width="0.6" />
<text x="441.5" y="279.1" font-size="6.0" fill="#222" text-anchor="middle">O</text>
<text x="441.6" y="298.0" font-size="4.8" fill="#222" text-anchor="middle">H</text>
<line x1="444.5" y1="300.3" x2="457.0" y2="297.8" stroke="#222" stroke-width="0.7" />
<text x="461.1" y="299.4" font-size="6.0" fill="#222" text-anchor="middle">CONH₂</text>
<line x1="442.2" y1="303.8" x2="444.0" y2="313.3" stroke="#222" stroke-width="0.7" />
<text x="444.6" y="318.4" font-size="6.0" fill="#222" text-anchor="middle">NH₂</text>
<rect x="325.0" y="192.3" width="102.9" height="85.7" fill="none" rx="9" stroke="#3d62a8" stroke-width="1.2" stroke-dasharray="4,3"/>
<text x="326.7" y="251.0" font-size="13.2" fill="#111" stroke="#111" stroke-width="0.25">85%</text>
<text x="356.2" y="251.0" font-size="13.2" fill="#111" stroke="#111" stroke-width="0.25">67%</text>
<text x="397.4" y="236.3" font-size="13.2" fill="#111" stroke="#111" stroke-width="0.25">95%</text>
<text x="419.2" y="252.3" font-size="13.2" fill="#111" stroke="#111" stroke-width="0.25">59%</text>
<text x="374.9" y="274.2" font-size="13.2" fill="#111" stroke="#111" stroke-width="0.25">70%</text>
<text x="254.5" y="266.2" font-size="12.3" fill="#939393">D-Lac</text>
<text x="290.0" y="266.2" font-size="12.3" fill="#939393">L-Ala</text>
<text x="327.3" y="266.0" font-size="12.3" fill="#4a7fc8">D-iGln</text>
<text x="333.1" y="301.5" font-size="12.3"><tspan fill="#5b9a3c">L-Lys</tspan><tspan fill="#ee66ee">(D-iAsn)</tspan></text>
<text x="443.8" y="191.8" font-size="25" fill="#111">m</text>
<text x="469.3" y="189.3" font-size="15"><tspan fill="#3e5ea5">PBP5</tspan><tspan fill="#111">:PenG:SP1</tspan></text>
<rect x="445.4" y="197.9" width="67.9" height="49.4" fill="#ececec" rx="6"/>
<rect x="515.1" y="197.9" width="53.7" height="49.4" fill="#dce9f5" rx="6"/>
<path d="M573.0,197.8 L598.1,197.8 Q600.3,197.8 600.3,200 L600.3,242.4 L616.4,270.9 Q617.3,273 616.5,276 L614.5,282 Q613.5,284.2 610.5,284.2 L598.5,284.2 Q595.5,284.2 593.5,281 L570.8,246 L570.8,200 Q570.8,197.8 573.0,197.8 Z" fill="#e1f1d8"/>
<rect x="605.2" y="197.9" width="78.0" height="47.6" fill="#f3e4d4" rx="6"/>
<rect x="610.5" y="275.5" width="43" height="43" rx="9" fill="#f3d8f8" transform="rotate(-34 632.0 297.0)"/>
<circle cx="540.1" cy="227.6" r="6.9" fill="#f1f03c" stroke="#e0a020" stroke-width="1.0"/>
<circle cx="584.8" cy="222.9" r="6.9" fill="#f1f03c" stroke="#e0a020" stroke-width="1.0"/>
<circle cx="583.0" cy="236.5" r="6.9" fill="#f1f03c" stroke="#e0a020" stroke-width="1.0"/>
<circle cx="594.5" cy="252.6" r="6.9" fill="#f1f03c" stroke="#e0a020" stroke-width="1.0"/>
<circle cx="651.0" cy="222.2" r="6.9" fill="#f1f03c" stroke="#e0a020" stroke-width="1.0"/>
<line x1="451.8" y1="224.8" x2="461.5" y2="220.7" stroke="#222" stroke-width="0.7" />
<line x1="466.8" y1="221.1" x2="472.2" y2="224.4" stroke="#222" stroke-width="0.7" />
<line x1="477.3" y1="224.4" x2="483.5" y2="220.6" stroke="#222" stroke-width="0.7" />
<line x1="488.8" y1="220.4" x2="494.8" y2="223.6" stroke="#222" stroke-width="0.7" />
<line x1="500.1" y1="223.5" x2="505.3" y2="220.5" stroke="#222" stroke-width="0.7" />
<line x1="510.5" y1="220.6" x2="516.7" y2="224.4" stroke="#222" stroke-width="0.7" />
<line x1="521.9" y1="224.4" x2="528.1" y2="220.6" stroke="#222" stroke-width="0.7" />
<line x1="533.2" y1="220.7" x2="539.6" y2="225.3" stroke="#222" stroke-width="0.7" />
<line x1="544.6" y1="225.3" x2="551.0" y2="220.7" stroke="#222" stroke-width="0.7" />
<line x1="556.1" y1="220.6" x2="562.3" y2="224.4" stroke="#222" stroke-width="0.7" />
<line x1="567.3" y1="224.2" x2="572.4" y2="220.5" stroke="#222" stroke-width="0.7" />
<line x1="577.6" y1="219.6" x2="583.4" y2="221.6" stroke="#222" stroke-width="0.7" />
<line x1="589.0" y1="221.5" x2="594.7" y2="219.7" stroke="#222" stroke-width="0.7" />
<line x1="600.1" y1="220.1" x2="607.3" y2="224.0" stroke="#222" stroke-width="0.7" />
<line x1="612.4" y1="223.8" x2="617.8" y2="220.3" stroke="#222" stroke-width="0.7" />
<line x1="622.9" y1="220.2" x2="629.1" y2="223.9" stroke="#222" stroke-width="0.7" />
<line x1="634.3" y1="223.9" x2="640.5" y2="220.2" stroke="#222" stroke-width="0.7" />
<line x1="646.0" y1="219.5" x2="650.3" y2="220.8" stroke="#222" stroke-width="0.7" />
<line x1="656.1" y1="220.9" x2="662.0" y2="219.4" stroke="#222" stroke-width="0.7" />
<line x1="667.6" y1="220.0" x2="675.5" y2="224.1" stroke="#222" stroke-width="0.7" />
<text x="449.0" y="228.2" font-size="6.0" fill="#222" text-anchor="middle">HO</text>
<text x="464.3" y="221.7" font-size="6.0" fill="#222" text-anchor="middle">C</text>
<text x="474.7" y="228.2" font-size="6.0" fill="#222" text-anchor="middle">C</text>
<text x="486.1" y="221.2" font-size="6.0" fill="#222" text-anchor="middle">N</text>
<text x="497.5" y="227.2" font-size="6.0" fill="#222" text-anchor="middle">C</text>
<text x="507.9" y="221.2" font-size="6.0" fill="#222" text-anchor="middle">C</text>
<text x="519.3" y="228.2" font-size="6.0" fill="#222" text-anchor="middle">N</text>
<text x="530.7" y="221.2" font-size="6.0" fill="#222" text-anchor="middle">C</text>
<text x="542.1" y="229.2" font-size="6.0" fill="#222" text-anchor="middle">C</text>
<text x="553.5" y="221.2" font-size="6.0" fill="#222" text-anchor="middle">C</text>
<text x="564.9" y="228.2" font-size="6.0" fill="#222" text-anchor="middle">C</text>
<text x="574.8" y="220.9" font-size="6.0" fill="#222" text-anchor="middle">N</text>
<text x="586.2" y="224.7" font-size="6.0" fill="#222" text-anchor="middle">C</text>
<text x="597.5" y="220.9" font-size="6.0" fill="#222" text-anchor="middle">C</text>
<text x="609.9" y="227.6" font-size="6.0" fill="#222" text-anchor="middle">N</text>
<text x="620.3" y="220.9" font-size="6.0" fill="#222" text-anchor="middle">C</text>
<text x="631.7" y="227.6" font-size="6.0" fill="#222" text-anchor="middle">C</text>
<text x="643.1" y="220.9" font-size="6.0" fill="#222" text-anchor="middle">N</text>
<text x="653.2" y="223.8" font-size="6.0" fill="#222" text-anchor="middle">C</text>
<text x="664.9" y="220.9" font-size="6.0" fill="#222" text-anchor="middle">C</text>
<text x="678.2" y="227.6" font-size="6.0" fill="#222" text-anchor="middle">OH</text>
<path d="M464.8,217.1 L467.7,209.0 L465.4,208.5 Z" fill="#222"/>
<text x="467.1" y="208.2" font-size="6.0" fill="#222" text-anchor="middle">CH₃</text>
<text x="464.3" y="225.8" font-size="4.8" fill="#222" text-anchor="middle">H</text>
<line x1="475.7" y1="228.6" x2="475.7" y2="235.9" stroke="#222" stroke-width="0.6" /><line x1="473.7" y1="228.6" x2="473.7" y2="235.9" stroke="#222" stroke-width="0.6" />
<text x="474.7" y="240.7" font-size="6.0" fill="#222" text-anchor="middle">O</text>
<text x="486.1" y="216.1" font-size="4.8" fill="#222" text-anchor="middle">H</text>
<path d="M497.7,227.5 L497.1,235.8 L499.5,235.6 Z" fill="#222"/>
<text x="498.5" y="240.7" font-size="6.0" fill="#222" text-anchor="middle">CH₃</text>
<text x="497.5" y="222.1" font-size="4.8" fill="#222" text-anchor="middle">H</text>
<line x1="506.9" y1="216.4" x2="506.9" y2="208.6" stroke="#222" stroke-width="0.6" /><line x1="508.9" y1="216.4" x2="508.9" y2="208.6" stroke="#222" stroke-width="0.6" />
<text x="507.9" y="208.2" font-size="6.0" fill="#222" text-anchor="middle">O</text>
<text x="519.3" y="232.3" font-size="4.8" fill="#222" text-anchor="middle">H</text>
<path d="M532.0,216.8 L537.9,209.0 L535.9,207.8 Z" fill="#222"/>
<text x="538.3" y="208.2" font-size="6.0" fill="#222" text-anchor="middle">CONH₂</text>
<text x="530.7" y="225.3" font-size="4.8" fill="#222" text-anchor="middle">H</text>
<text x="542.1" y="233.3" font-size="4.8" fill="#222" text-anchor="middle">H₂</text>
<text x="553.5" y="216.1" font-size="4.8" fill="#222" text-anchor="middle">H₂</text>
<line x1="565.9" y1="228.6" x2="565.9" y2="235.9" stroke="#222" stroke-width="0.6" /><line x1="563.9" y1="228.6" x2="563.9" y2="235.9" stroke="#222" stroke-width="0.6" />
<text x="564.9" y="240.7" font-size="6.0" fill="#222" text-anchor="middle">O</text>
<text x="574.8" y="215.8" font-size="4.8" fill="#222" text-anchor="middle">H</text>
<text x="586.2" y="219.6" font-size="4.8" fill="#222" text-anchor="middle">H</text>
<line x1="596.5" y1="216.1" x2="596.5" y2="208.8" stroke="#222" stroke-width="0.6" /><line x1="598.5" y1="216.1" x2="598.5" y2="208.8" stroke="#222" stroke-width="0.6" />
<text x="597.5" y="208.4" font-size="6.0" fill="#222" text-anchor="middle">O</text>
<text x="609.9" y="231.7" font-size="4.8" fill="#222" text-anchor="middle">H</text>
<path d="M621.1,216.3 L624.4,210.2 L622.1,209.5 Z" fill="#222"/>
<text x="624.1" y="209.4" font-size="6.0" fill="#222" text-anchor="middle">CH₃</text>
<text x="620.3" y="225.0" font-size="4.8" fill="#222" text-anchor="middle">H</text>
<line x1="632.7" y1="228.0" x2="632.7" y2="236.1" stroke="#222" stroke-width="0.6" /><line x1="630.7" y1="228.0" x2="630.7" y2="236.1" stroke="#222" stroke-width="0.6" />
<text x="631.7" y="240.9" font-size="6.0" fill="#222" text-anchor="middle">O</text>
<text x="643.1" y="215.8" font-size="4.8" fill="#222" text-anchor="middle">H</text>
<line x1="663.9" y1="216.1" x2="663.9" y2="208.8" stroke="#222" stroke-width="0.6" /><line x1="665.9" y1="216.1" x2="665.9" y2="208.8" stroke="#222" stroke-width="0.6" />
<text x="664.9" y="208.4" font-size="6.0" fill="#222" text-anchor="middle">O</text>
<path d="M653.8,224.0 L655.4,236.1 L657.7,235.6 Z" fill="#222"/>
<text x="657.2" y="240.8" font-size="6.0" fill="#222" text-anchor="middle">CH₃</text>
<text x="653.2" y="218.7" font-size="4.8" fill="#222" text-anchor="middle">H</text>
<line x1="585.1" y1="225.5" x2="581.6" y2="235.3" stroke="#222" stroke-width="0.7" />
<line x1="583.5" y1="239.3" x2="598.4" y2="244.3" stroke="#222" stroke-width="0.7" />
<line x1="599.7" y1="248.0" x2="595.1" y2="254.9" stroke="#222" stroke-width="0.7" />
<line x1="596.4" y1="258.8" x2="608.8" y2="264.0" stroke="#222" stroke-width="0.7" />
<line x1="610.8" y1="268.2" x2="609.0" y2="273.6" stroke="#222" stroke-width="0.7" />
<line x1="610.8" y1="278.2" x2="617.2" y2="281.8" stroke="#222" stroke-width="0.7" />
<line x1="619.1" y1="286.5" x2="617.2" y2="293.4" stroke="#222" stroke-width="0.7" />
<line x1="619.4" y1="297.4" x2="628.5" y2="300.0" stroke="#222" stroke-width="0.7" />
<text x="580.5" y="240.5" font-size="6.0" fill="#222" text-anchor="middle">H₂C</text>
<text x="601.4" y="247.5" font-size="6.0" fill="#222" text-anchor="middle">CH₂</text>
<text x="593.4" y="259.8" font-size="6.0" fill="#222" text-anchor="middle">H₂C</text>
<text x="611.8" y="267.4" font-size="6.0" fill="#222" text-anchor="middle">CH₂</text>
<text x="608.0" y="278.8" font-size="6.0" fill="#222" text-anchor="middle">HN</text>
<text x="620.0" y="285.6" font-size="6.0" fill="#222" text-anchor="middle">C</text>
<text x="616.3" y="298.7" font-size="6.0" fill="#222" text-anchor="middle">H₂C</text>
<text x="631.6" y="303.1" font-size="6.0" fill="#222" text-anchor="middle">C</text>
<line x1="621.8" y1="281.2" x2="628.1" y2="277.6" stroke="#222" stroke-width="0.6" /><line x1="622.8" y1="283.0" x2="629.1" y2="279.4" stroke="#222" stroke-width="0.6" />
<text x="631.5" y="279.1" font-size="6.0" fill="#222" text-anchor="middle">O</text>
<text x="631.6" y="298.0" font-size="4.8" fill="#222" text-anchor="middle">H</text>
<line x1="634.5" y1="300.3" x2="647.0" y2="297.8" stroke="#222" stroke-width="0.7" />
<text x="651.1" y="299.4" font-size="6.0" fill="#222" text-anchor="middle">CONH₂</text>
<line x1="632.2" y1="303.8" x2="634.0" y2="313.3" stroke="#222" stroke-width="0.7" />
<text x="634.6" y="318.4" font-size="6.0" fill="#222" text-anchor="middle">NH₂</text>
<rect x="513.3" y="191.8" width="100.9" height="84.8" fill="none" rx="9" stroke="#3d62a8" stroke-width="1.2" stroke-dasharray="4,3"/>
<text x="568.8" y="211.5" font-size="13.2" fill="#111" stroke="#111" stroke-width="0.25">51%</text>
<text x="633.1" y="211.5" font-size="13.2" fill="#111" stroke="#111" stroke-width="0.25">57%</text>
<text x="515.8" y="250.8" font-size="13.2" fill="#111" stroke="#111" stroke-width="0.25">81%</text>
<text x="539.5" y="250.8" font-size="13.2" fill="#111" stroke="#111" stroke-width="0.25">72%</text>
<text x="559.8" y="262.6" font-size="13.2" fill="#111" stroke="#111" stroke-width="0.25">93%</text>
<text x="567.0" y="274.0" font-size="13.2" fill="#111" stroke="#111" stroke-width="0.25">55%</text>
<text x="447.2" y="266.2" font-size="12.3" fill="#939393">D-Lac</text>
<text x="481.0" y="266.2" font-size="12.3" fill="#939393">L-Ala</text>
<text x="516.9" y="266.0" font-size="12.3" fill="#4a7fc8">D-iGln</text>
<text x="617.0" y="266.0" font-size="12.3" fill="#c8582a">D-Ala-D-Ala</text>
<text x="527.6" y="302.7" font-size="12.3"><tspan fill="#5b9a3c">L-Lys</tspan><tspan fill="#ee66ee">(D-iAsn)</tspan></text>
<text x="6.2" y="338.7" font-size="25" fill="#111">e</text>
<text x="34.2" y="337.5" font-size="15"><tspan fill="#3e5ea5">PBP5</tspan><tspan fill="#111">:SP2</tspan></text>
<text x="48.2" y="362" font-size="14.8" fill="#4a72c2"><tspan font-size="9.8" dy="-5">15</tspan><tspan dy="5">N-</tspan><tspan font-size="9.5" dy="-5">1</tspan><tspan dy="5">H</tspan></text>
<rect x="143.7" y="334.5" width="25.0" height="20.3" fill="#efefef" rx="3" stroke="#c8c8c8" stroke-width="0.8"/>
<rect x="170.2" y="334.5" width="20.5" height="20.3" fill="#dfeaf5" rx="3" stroke="#c8c8c8" stroke-width="0.8"/>
<path d="M193.7,334.5 L201.2,334.5 Q202.7,334.5 202.7,336.0 L202.7,355.5 L209.2,364.5 L200.2,368.5 L192.2,356.5 L192.2,336.0 Q192.2,334.5 193.7,334.5 Z" fill="#e1f1d8" stroke="#c8c8c8" stroke-width="0.8" stroke-linejoin="round"/>
<rect x="201.2" y="364.5" width="13" height="13" rx="2.5" fill="#f1d4f7" stroke="#c8c8c8" stroke-width="0.8" transform="rotate(-35 207.7 371.0)"/>
<path d="M39.8 430.8v-7.7M40.7 430.8v-0.8M44.5 430.8v-3.1M47.9 430.8v-11.4M52.1 430.8v-2.8M54.9 430.8v-8.6M58.1 430.8v-3.6M60.1 430.8v-6.8M74.9 430.8v-4.8M75.6 430.8v-1.7M83.4 430.8v-6.9M88.7 430.8v-8.4M90.0 430.8v-5.7M98.8 430.8v-14.2M99.6 430.8v-16.1M116.2 430.8v-5.6M117.7 430.8v-1.5M118.2 430.8v-15.4M123.7 430.8v-9.1M136.8 430.8v-14.0M144.4 430.8v-4.1M148.5 430.8v-15.9M161.0 430.8v-4.2M164.4 430.8v-10.4M165.2 430.8v-1.3M170.5 430.8v-8.7M174.5 430.8v-2.7M187.0 430.8v-3.7M194.4 430.8v-11.1M199.0 430.8v-2.8M214.5 430.8v-1.8M218.6 430.8v-14.0M219.2 430.8v-16.1M221.3 430.8v-5.4M227.1 430.8v-7.9M228.7 430.8v-22.1M231.4 430.8v-22.1M234.7 430.8v-5.7M237.3 430.8v-1.8M239.8 430.8v-6.6M242.8 430.8v-12.6M249.2 430.8v-8.7M255.4 430.8v-8.1" stroke="#9a9a9a" stroke-width="1.1" fill="none"/>
<path d="M38.0 430.8v-5.9M38.7 430.8v-1.8M39.2 430.8v-2.9M41.3 430.8v-4.3M42.0 430.8v-7.9M42.9 430.8v-15.3M43.3 430.8v-0.9M44.0 430.8v-0.9M45.3 430.8v-5.9M45.9 430.8v-7.4M46.6 430.8v-2.9M47.5 430.8v-7.4M48.5 430.8v-6.3M49.3 430.8v-6.1M50.2 430.8v-1.9M51.6 430.8v-2.3M52.6 430.8v-5.9M53.9 430.8v-3.5M55.2 430.8v-7.3M56.3 430.8v-0.9M56.8 430.8v-9.0M57.5 430.8v-4.0M58.8 430.8v-9.7M59.4 430.8v-6.6M60.7 430.8v-8.3M61.5 430.8v-4.3M62.0 430.8v-4.1M62.7 430.8v-6.3M63.5 430.8v-16.0M63.9 430.8v-4.4M64.8 430.8v-4.9M65.4 430.8v-9.1M67.5 430.8v-4.3M68.3 430.8v-8.4M68.6 430.8v-4.6M69.4 430.8v-8.8M70.1 430.8v-12.3M70.9 430.8v-1.4M71.4 430.8v-6.0M72.1 430.8v-7.6M72.8 430.8v-9.4M73.6 430.8v-5.5M74.3 430.8v-3.3M76.0 430.8v-5.2M77.0 430.8v-4.9M77.5 430.8v-2.7M78.3 430.8v-5.9M79.0 430.8v-2.0M79.5 430.8v-2.0M79.9 430.8v-3.8M80.9 430.8v-0.8M81.6 430.8v-2.5M82.3 430.8v-3.0M82.7 430.8v-1.9M84.1 430.8v-2.4M84.8 430.8v-3.9M85.5 430.8v-7.3M86.3 430.8v-2.2M86.7 430.8v-3.0M87.6 430.8v-1.4M89.5 430.8v-10.8M90.7 430.8v-2.0M91.3 430.8v-0.8M92.1 430.8v-4.6M92.6 430.8v-8.9M93.6 430.8v-3.9M94.0 430.8v-9.0M94.9 430.8v-5.1M95.7 430.8v-16.4M96.3 430.8v-17.9M97.5 430.8v-11.7M98.2 430.8v-5.1M100.1 430.8v-5.7M100.9 430.8v-8.2M102.4 430.8v-2.6M102.9 430.8v-1.2M103.6 430.8v-5.5M104.8 430.8v-1.0M105.7 430.8v-1.4M106.4 430.8v-3.7M106.9 430.8v-10.6M107.4 430.8v-1.1M108.3 430.8v-7.1M109.0 430.8v-8.7M109.4 430.8v-2.0M110.2 430.8v-4.1M110.9 430.8v-3.8M111.4 430.8v-1.3M112.1 430.8v-8.9M112.9 430.8v-11.5M114.1 430.8v-21.2M114.9 430.8v-3.9M115.8 430.8v-4.9M116.7 430.8v-9.5M118.9 430.8v-15.4M119.6 430.8v-22.1M120.4 430.8v-4.6M121.1 430.8v-3.8M121.5 430.8v-5.9M122.3 430.8v-2.8M122.7 430.8v-8.3M124.4 430.8v-11.6M124.8 430.8v-3.4M125.6 430.8v-3.2M126.3 430.8v-9.5M127.1 430.8v-8.0M127.8 430.8v-5.3M128.2 430.8v-1.5M128.8 430.8v-2.0M129.4 430.8v-2.9M130.2 430.8v-0.8M130.8 430.8v-1.2M131.7 430.8v-6.5M132.2 430.8v-10.8M132.9 430.8v-2.5M133.6 430.8v-3.6M134.9 430.8v-3.5M135.5 430.8v-1.6M136.3 430.8v-7.3M137.5 430.8v-4.7M138.4 430.8v-2.9M138.8 430.8v-5.6M139.6 430.8v-2.9M140.4 430.8v-4.4M141.0 430.8v-4.6M142.2 430.8v-8.9M142.9 430.8v-4.1M143.5 430.8v-12.8M144.8 430.8v-10.7M145.8 430.8v-8.4M146.2 430.8v-5.0M147.0 430.8v-9.8M147.6 430.8v-5.1M148.9 430.8v-4.2M149.7 430.8v-15.8M150.4 430.8v-4.3M151.2 430.8v-6.8M151.9 430.8v-9.2M152.4 430.8v-11.4M153.0 430.8v-1.7M153.7 430.8v-7.7M154.5 430.8v-17.9M154.9 430.8v-7.9M155.5 430.8v-0.7M156.4 430.8v-3.8M157.1 430.8v-2.5M157.7 430.8v-2.3M158.3 430.8v-10.5M159.0 430.8v-5.1M159.8 430.8v-6.3M160.3 430.8v-4.2M161.8 430.8v-6.5M162.2 430.8v-1.3M162.9 430.8v-8.7M163.7 430.8v-2.3M166.9 430.8v-5.0M167.6 430.8v-2.8M168.5 430.8v-3.3M169.3 430.8v-2.0M169.6 430.8v-1.2M171.0 430.8v-2.9M171.6 430.8v-7.9M172.6 430.8v-6.4M173.1 430.8v-2.6M175.0 430.8v-2.6M175.9 430.8v-0.5M176.6 430.8v-5.0M177.0 430.8v-7.8M177.9 430.8v-8.4M178.5 430.8v-1.7M179.2 430.8v-12.0M180.5 430.8v-9.3M182.6 430.8v-6.0M183.0 430.8v-2.9M183.8 430.8v-2.5M184.3 430.8v-2.4M185.2 430.8v-0.8M186.0 430.8v-0.6M187.6 430.8v-9.9M188.4 430.8v-4.5M189.3 430.8v-6.8M189.6 430.8v-3.2M190.6 430.8v-4.5M191.2 430.8v-2.1M191.7 430.8v-2.0M192.4 430.8v-3.6M193.8 430.8v-2.5M195.1 430.8v-3.6M195.9 430.8v-5.3M197.1 430.8v-4.1M197.7 430.8v-9.6M198.4 430.8v-9.2M199.6 430.8v-7.2M200.4 430.8v-8.1M201.2 430.8v-2.3M201.8 430.8v-0.8M202.4 430.8v-1.6M203.2 430.8v-2.3M203.7 430.8v-6.3M205.1 430.8v-0.7M205.8 430.8v-3.3M206.6 430.8v-1.8M207.1 430.8v-6.1M207.9 430.8v-3.9M209.0 430.8v-5.1M209.7 430.8v-1.9M210.3 430.8v-5.6M211.3 430.8v-5.7M212.0 430.8v-3.1M212.6 430.8v-8.7M213.1 430.8v-7.0M213.8 430.8v-10.4M215.0 430.8v-2.3M216.0 430.8v-9.5M216.4 430.8v-4.8M217.3 430.8v-4.8M218.0 430.8v-22.1M219.9 430.8v-2.8M221.8 430.8v-0.9M222.5 430.8v-22.1M223.3 430.8v-22.1M223.9 430.8v-3.5M225.3 430.8v-3.0M226.4 430.8v-1.9M227.9 430.8v-15.5M229.1 430.8v-6.8M230.6 430.8v-22.1M232.1 430.8v-3.8M232.4 430.8v-6.2M233.3 430.8v-7.3M233.9 430.8v-1.1M235.9 430.8v-3.8M236.5 430.8v-3.9M238.0 430.8v-3.6M238.8 430.8v-5.1M239.4 430.8v-4.4M240.7 430.8v-4.3M241.1 430.8v-4.6M242.0 430.8v-2.2M243.4 430.8v-9.2M244.6 430.8v-12.1M245.4 430.8v-11.3M246.6 430.8v-17.5M247.3 430.8v-7.1M248.0 430.8v-4.1M248.7 430.8v-2.6M250.2 430.8v-6.8M250.7 430.8v-10.0M251.2 430.8v-7.2M252.0 430.8v-5.1M252.5 430.8v-6.2M253.5 430.8v-8.2M254.6 430.8v-2.7M256.2 430.8v-2.4M256.8 430.8v-6.4M257.2 430.8v-3.4" stroke="#000" stroke-width="0.9" fill="none"/>
<line x1="98.5" y1="430.8" x2="98.5" y2="359.4" stroke="#222" stroke-width="0.8" />
<line x1="103.4" y1="430.8" x2="103.4" y2="391.5" stroke="#222" stroke-width="0.8" />
<line x1="109.7" y1="430.8" x2="109.7" y2="385.5" stroke="#222" stroke-width="0.8" />
<line x1="119.3" y1="430.8" x2="119.3" y2="398.7" stroke="#333" stroke-width="0.8" />
<line x1="153.7" y1="430.8" x2="153.7" y2="359.4" stroke="#333" stroke-width="0.8" />
<line x1="193.4" y1="430.8" x2="193.4" y2="359.4" stroke="#333" stroke-width="0.8" />
<line x1="226.2" y1="430.8" x2="226.2" y2="364.8" stroke="#222" stroke-width="0.8" />
<line x1="225.0" y1="430.8" x2="225.0" y2="395.1" stroke="#111" stroke-width="1.2" />
<line x1="48.9" y1="430.8" x2="48.9" y2="402.2" stroke="#888" stroke-width="1.2" />
<line x1="46.3" y1="430.8" x2="46.3" y2="405.1" stroke="#333" stroke-width="0.8" />
<line x1="68.9" y1="430.8" x2="68.9" y2="405.1" stroke="#333" stroke-width="0.8" />
<line x1="88.3" y1="430.8" x2="88.3" y2="402.2" stroke="#333" stroke-width="0.8" />
<line x1="108.0" y1="430.8" x2="108.0" y2="400.5" stroke="#999" stroke-width="1.2" />
<line x1="199.0" y1="430.8" x2="199.0" y2="403.0" stroke="#777" stroke-width="1.0" />
<line x1="201.5" y1="430.8" x2="201.5" y2="403.0" stroke="#777" stroke-width="1.0" />
<line x1="207.5" y1="430.8" x2="207.5" y2="405.1" stroke="#555" stroke-width="0.8" />
<line x1="58.6" y1="430.8" x2="58.6" y2="409.4" stroke="#333" stroke-width="0.8" />
<line x1="75.0" y1="430.8" x2="75.0" y2="405.8" stroke="#555" stroke-width="0.8" />
<line x1="131.0" y1="430.8" x2="131.0" y2="409.4" stroke="#555" stroke-width="0.8" />
<line x1="160.0" y1="430.8" x2="160.0" y2="405.8" stroke="#333" stroke-width="0.8" />
<line x1="37.0" y1="407.2" x2="259.0" y2="407.2" stroke="#ee2a24" stroke-width="2.0" />
<line x1="37.0" y1="431.6" x2="37.0" y2="359.2" stroke="#111" stroke-width="2.0" />
<line x1="33.8" y1="359.6" x2="37.0" y2="359.6" stroke="#111" stroke-width="1.2" />
<text transform="translate(31.0 363.1) scale(1.0 1)" font-size="9.6" fill="#222" text-anchor="end">0.2</text>
<line x1="33.8" y1="395.2" x2="37.0" y2="395.2" stroke="#111" stroke-width="1.2" />
<text transform="translate(31.0 398.7) scale(1.0 1)" font-size="9.6" fill="#222" text-anchor="end">0.1</text>
<line x1="33.8" y1="430.8" x2="37.0" y2="430.8" stroke="#111" stroke-width="1.2" />
<text transform="translate(31.0 434.3) scale(1.0 1)" font-size="9.6" fill="#222" text-anchor="end">0.0</text>
<line x1="36.2" y1="430.8" x2="259.0" y2="430.8" stroke="#111" stroke-width="2.0" />
<line x1="36.8" y1="430.8" x2="36.8" y2="433.8" stroke="#111" stroke-width="1.0" />
<text transform="translate(36.8 436.4) scale(1.0 1) rotate(-90)" x="0" y="3.27" font-size="9.2" fill="#222" text-anchor="end">349</text>
<line x1="70.0" y1="430.8" x2="70.0" y2="433.8" stroke="#111" stroke-width="1.0" />
<text transform="translate(70.0 436.4) scale(1.0 1) rotate(-90)" x="0" y="3.27" font-size="9.2" fill="#222" text-anchor="end">399</text>
<line x1="104.0" y1="430.8" x2="104.0" y2="433.8" stroke="#111" stroke-width="1.0" />
<text transform="translate(104.0 436.4) scale(1.0 1) rotate(-90)" x="0" y="3.27" font-size="9.2" fill="#222" text-anchor="end">449</text>
<line x1="137.7" y1="430.8" x2="137.7" y2="433.8" stroke="#111" stroke-width="1.0" />
<text transform="translate(137.7 436.4) scale(1.0 1) rotate(-90)" x="0" y="3.27" font-size="9.2" fill="#222" text-anchor="end">499</text>
<line x1="171.7" y1="430.8" x2="171.7" y2="433.8" stroke="#111" stroke-width="1.0" />
<text transform="translate(171.7 436.4) scale(1.0 1) rotate(-90)" x="0" y="3.27" font-size="9.2" fill="#222" text-anchor="end">549</text>
<line x1="205.7" y1="430.8" x2="205.7" y2="433.8" stroke="#111" stroke-width="1.0" />
<text transform="translate(205.7 436.4) scale(1.0 1) rotate(-90)" x="0" y="3.27" font-size="9.2" fill="#222" text-anchor="end">599</text>
<line x1="237.6" y1="430.8" x2="237.6" y2="433.8" stroke="#111" stroke-width="1.0" />
<text transform="translate(237.6 436.4) scale(1.0 1) rotate(-90)" x="0" y="3.27" font-size="9.2" fill="#222" text-anchor="end">649</text>
<text x="12.9" y="396.0" font-size="15.1" fill="#111" text-anchor="middle" transform="rotate(-90 12.9 396.0)">Δδ(ppm)</text>
<text x="81.6" y="468.3" font-size="15.3" fill="#111">Residue Number</text>
<text x="246.0" y="338.0" font-size="25" fill="#111">f</text>
<text x="277.3" y="362.6" font-size="15" fill="#4a72c2">[(IL)<tspan font-size="9.8" dy="3">δ</tspan><tspan dy="-3">V</tspan><tspan font-size="9.5" dy="3">γ</tspan><tspan dy="-3">] </tspan><tspan font-size="9.5" dy="-5">13</tspan><tspan dy="5">C-</tspan><tspan font-size="9.5" dy="-5">1</tspan><tspan dy="5">H</tspan></text>
<rect x="378.9" y="334.5" width="25.0" height="20.3" fill="#efefef" rx="3" stroke="#c8c8c8" stroke-width="0.8"/>
<rect x="405.4" y="334.5" width="20.5" height="20.3" fill="#dfeaf5" rx="3" stroke="#c8c8c8" stroke-width="0.8"/>
<path d="M428.9,334.5 L436.4,334.5 Q437.9,334.5 437.9,336.0 L437.9,355.5 L444.4,364.5 L435.4,368.5 L427.4,356.5 L427.4,336.0 Q427.4,334.5 428.9,334.5 Z" fill="#e1f1d8" stroke="#c8c8c8" stroke-width="0.8" stroke-linejoin="round"/>
<rect x="436.4" y="364.5" width="13" height="13" rx="2.5" fill="#f1d4f7" stroke="#c8c8c8" stroke-width="0.8" transform="rotate(-35 442.9 371.0)"/>
<path d="M272.8 429.1v-1.9M274.9 429.1v-2.2M277.0 429.1v-2.3M279.0 429.1v-2.7M281.1 429.1v-2.2M283.2 429.1v-2.6M285.3 429.1v-0.4M287.4 429.1v-1.5M289.4 429.1v-2.7M291.5 429.1v-2.0M293.6 429.1v-4.6M295.7 429.1v-1.2M297.8 429.1v-2.7M299.8 429.1v-1.8M301.9 429.1v-3.1M304.0 429.1v-1.8M306.1 429.1v-0.4M308.2 429.1v-0.9M310.2 429.1v-1.1M312.3 429.1v-4.2M314.4 429.1v-3.6M316.5 429.1v-1.2M318.6 429.1v-2.3M320.6 429.1v-0.7M322.7 429.1v-1.9M324.8 429.1v-0.7M326.9 429.1v-0.4M329.0 429.1v-2.5M331.0 429.1v-0.9M333.1 429.1v-0.9M335.2 429.1v-2.8M337.3 429.1v-2.5M339.4 429.1v-1.9M341.4 429.1v-4.9M343.5 429.1v-3.0M345.6 429.1v-3.7M347.7 429.1v-0.9M349.8 429.1v-2.7M351.8 429.1v-2.1M353.9 429.1v-2.7M356.0 429.1v-2.6M358.1 429.1v-1.1M360.2 429.1v-2.5M362.2 429.1v-1.6M364.3 429.1v-1.5M366.4 429.1v-1.1M368.5 429.1v-2.2M370.6 429.1v-3.7M372.6 429.1v-0.4M374.7 429.1v-2.0M376.8 429.1v-1.2M378.9 429.1v-1.1M381.0 429.1v-2.4M383.0 429.1v-1.6M385.1 429.1v-1.1M387.2 429.1v-1.6M389.3 429.1v-2.1M391.4 429.1v-0.5M393.4 429.1v-2.8M395.5 429.1v-0.4M397.6 429.1v-2.2M399.7 429.1v-2.4M401.8 429.1v-0.4M403.8 429.1v-4.1M405.9 429.1v-2.3M408.0 429.1v-3.2M410.1 429.1v-0.7M412.2 429.1v-0.5M414.2 429.1v-0.8M416.3 429.1v-2.7M418.4 429.1v-0.9M420.5 429.1v-2.2M422.6 429.1v-2.6M424.6 429.1v-2.7M426.7 429.1v-2.7M428.8 429.1v-2.7M430.9 429.1v-3.6M433.0 429.1v-5.0M435.0 429.1v-1.4M437.1 429.1v-4.9M439.2 429.1v-5.1M441.3 429.1v-5.4M443.4 429.1v-1.0M445.4 429.1v-5.9M447.5 429.1v-1.3M449.6 429.1v-2.7M451.7 429.1v-4.1M453.8 429.1v-2.6M455.8 429.1v-1.2M457.9 429.1v-2.6M460.0 429.1v-1.7M462.1 429.1v-1.1M464.2 429.1v-1.2M466.2 429.1v-0.8M468.3 429.1v-0.6M470.4 429.1v-0.7M273.8 429.1v-7.5M275.5 429.1v-3.8M314.6 429.1v-4.5M342.5 429.1v-5.6M362.7 429.1v-7.5M368.5 429.1v-8.3M392.3 429.1v-17.7M407.0 429.1v-11.3M409.0 429.1v-7.5M414.1 429.1v-29.7M424.4 429.1v-16.2M432.7 429.1v-18.8M437.2 429.1v-18.8M435.0 429.1v-7.5M441.4 429.1v-5.6M449.4 429.1v-6.4M446.0 429.1v-6.0M428.5 429.1v-5.6" stroke="#111" stroke-width="1.2" fill="none"/>
<line x1="271.0" y1="418.6" x2="473.0" y2="418.6" stroke="#ee2a24" stroke-width="2.0" />
<line x1="271.3" y1="429.9" x2="271.3" y2="353.4" stroke="#111" stroke-width="1.3" />
<line x1="268.1" y1="353.6" x2="271.3" y2="353.6" stroke="#111" stroke-width="1.2" />
<text transform="translate(261.0 357.7) scale(1.0 1)" font-size="11.3" fill="#222" text-anchor="end">0.2</text>
<line x1="268.1" y1="391.3" x2="271.3" y2="391.3" stroke="#111" stroke-width="1.2" />
<text transform="translate(261.0 395.4) scale(1.0 1)" font-size="11.3" fill="#222" text-anchor="end">0.1</text>
<line x1="268.1" y1="429.1" x2="271.3" y2="429.1" stroke="#111" stroke-width="1.2" />
<text transform="translate(261.0 433.2) scale(1.0 1)" font-size="11.3" fill="#222" text-anchor="end">0</text>
<line x1="270.5" y1="429.1" x2="473.0" y2="429.1" stroke="#111" stroke-width="1.3" />
<line x1="272.0" y1="429.1" x2="272.0" y2="432.1" stroke="#111" stroke-width="1.0" />
<text transform="translate(272.0 436.7) scale(1.0 1) rotate(-90)" x="0" y="3.37" font-size="9.5" fill="#222" text-anchor="end">367</text>
<line x1="293.8" y1="429.1" x2="293.8" y2="432.1" stroke="#111" stroke-width="1.0" />
<text transform="translate(293.8 436.7) scale(1.0 1) rotate(-90)" x="0" y="3.37" font-size="9.5" fill="#222" text-anchor="end">427</text>
<line x1="315.1" y1="429.1" x2="315.1" y2="432.1" stroke="#111" stroke-width="1.0" />
<text transform="translate(315.1 436.7) scale(1.0 1) rotate(-90)" x="0" y="3.37" font-size="9.5" fill="#222" text-anchor="end">449</text>
<line x1="336.9" y1="429.1" x2="336.9" y2="432.1" stroke="#111" stroke-width="1.0" />
<text transform="translate(336.9 436.7) scale(1.0 1) rotate(-90)" x="0" y="3.37" font-size="9.5" fill="#222" text-anchor="end">477</text>
<line x1="358.9" y1="429.1" x2="358.9" y2="432.1" stroke="#111" stroke-width="1.0" />
<text transform="translate(358.9 436.7) scale(1.0 1) rotate(-90)" x="0" y="3.37" font-size="9.5" fill="#222" text-anchor="end">512</text>
<line x1="380.7" y1="429.1" x2="380.7" y2="432.1" stroke="#111" stroke-width="1.0" />
<text transform="translate(380.7 436.7) scale(1.0 1) rotate(-90)" x="0" y="3.37" font-size="9.5" fill="#222" text-anchor="end">544</text>
<line x1="401.7" y1="429.1" x2="401.7" y2="432.1" stroke="#111" stroke-width="1.0" />
<text transform="translate(401.7 436.7) scale(1.0 1) rotate(-90)" x="0" y="3.37" font-size="9.5" fill="#222" text-anchor="end">569</text>
<line x1="422.7" y1="429.1" x2="422.7" y2="432.1" stroke="#111" stroke-width="1.0" />
<text transform="translate(422.7 436.7) scale(1.0 1) rotate(-90)" x="0" y="3.37" font-size="9.5" fill="#222" text-anchor="end">593</text>
<line x1="444.4" y1="429.1" x2="444.4" y2="432.1" stroke="#111" stroke-width="1.0" />
<text transform="translate(444.4 436.7) scale(1.0 1) rotate(-90)" x="0" y="3.37" font-size="9.5" fill="#222" text-anchor="end">614</text>
<line x1="465.5" y1="429.1" x2="465.5" y2="432.1" stroke="#111" stroke-width="1.0" />
<text transform="translate(465.5 436.7) scale(1.0 1) rotate(-90)" x="0" y="3.37" font-size="9.5" fill="#222" text-anchor="end">669</text>
<text x="312.3" y="466.3" font-size="15.3" fill="#111">Residue Number</text>
<text x="459.2" y="338.4" font-size="25" fill="#111">g</text>
<text x="482.6" y="338.2" font-size="15.8"><tspan fill="#4a72c2">PBP5</tspan><tspan fill="#111">:SP2</tspan></text>
<defs><clipPath id="cpg"><path d="M503.7,408.0 C503.6,406.7 502.7,406.5 502.5,405.7 C502.3,405.0 502.1,404.3 502.4,403.3 C502.7,402.3 503.4,401.0 504.0,399.8 C504.7,398.5 505.5,397.2 506.2,395.8 C506.9,394.4 507.7,392.5 508.3,391.2 C508.9,390.0 509.2,389.3 509.9,388.4 C510.6,387.5 511.4,387.0 512.6,386.0 C513.9,384.9 516.5,383.8 517.3,382.2 C518.1,380.6 517.3,378.3 517.5,376.7 C517.7,375.0 517.6,373.8 518.6,372.2 C519.6,370.6 522.1,368.8 523.3,367.2 C524.5,365.5 524.9,363.3 526.0,362.3 C527.1,361.3 528.7,361.4 529.8,361.0 C530.8,360.6 530.7,360.2 532.2,359.8 C533.7,359.4 536.6,358.7 538.7,358.5 C540.7,358.3 542.3,358.9 544.6,358.6 C546.9,358.3 549.8,357.7 552.3,356.8 C554.8,356.0 557.5,354.4 559.5,353.6 C561.5,352.8 562.9,352.8 564.5,352.2 C566.2,351.6 567.7,350.8 569.5,349.9 C571.3,349.0 573.5,347.5 575.4,346.8 C577.2,346.0 578.9,345.7 580.6,345.4 C582.3,345.1 584.0,345.2 585.5,345.1 C586.9,344.9 587.9,344.5 589.3,344.4 C590.7,344.3 592.2,344.1 593.9,344.4 C595.5,344.7 597.7,345.5 599.2,346.2 C600.7,346.9 602.0,347.8 603.0,348.6 C604.1,349.4 604.6,349.8 605.4,351.1 C606.2,352.4 607.1,354.8 607.7,356.2 C608.4,357.7 608.3,358.4 609.2,359.8 C610.1,361.2 612.1,363.1 613.3,364.4 C614.6,365.6 615.5,366.0 616.6,367.3 C617.7,368.6 618.9,370.8 620.1,372.3 C621.3,373.7 622.8,374.8 624.0,376.0 C625.2,377.2 626.0,378.5 627.0,379.3 C628.1,380.1 629.0,380.5 630.3,380.9 C631.6,381.3 633.5,381.3 634.8,381.9 C636.0,382.6 636.6,383.9 637.7,384.6 C638.8,385.3 639.9,385.3 641.3,385.9 C642.8,386.6 645.1,387.5 646.4,388.4 C647.7,389.3 648.6,390.3 649.2,391.4 C649.8,392.4 649.9,393.5 650.1,394.6 C650.3,395.7 650.4,396.7 650.4,397.9 C650.4,399.1 649.6,400.8 650.1,402.0 C650.6,403.2 652.2,403.8 653.2,404.9 C654.2,405.9 655.7,406.6 656.3,408.2 C656.9,409.8 656.4,412.3 656.6,414.3 C656.8,416.2 657.4,418.0 657.5,420.0 C657.6,422.0 657.3,424.5 657.1,426.4 C656.9,428.3 656.9,430.0 656.3,431.2 C655.7,432.4 654.6,433.3 653.6,433.9 C652.5,434.5 650.9,433.7 650.1,434.9 C649.3,436.1 649.6,439.2 649.0,440.8 C648.3,442.5 647.5,443.2 646.4,444.8 C645.3,446.4 643.8,448.3 642.4,450.3 C640.9,452.4 638.7,454.9 637.7,457.2 C636.7,459.5 637.2,462.3 636.6,464.3 C636.0,466.4 634.6,467.9 634.0,469.6 C633.4,471.3 633.6,473.1 633.0,474.7 C632.3,476.4 630.7,478.5 630.3,479.6 C629.9,480.7 630.7,480.7 630.7,481.5 C630.7,482.3 630.5,483.3 630.3,484.5 C630.1,485.7 629.9,487.4 629.3,488.8 C628.8,490.2 630.5,492.2 627.0,492.8 C623.5,493.4 614.2,492.1 608.1,492.2 C601.9,492.3 596.1,493.0 590.0,493.3 C583.9,493.6 577.7,494.1 571.2,494.0 C564.7,493.9 554.5,493.3 551.0,492.8 C547.5,492.3 550.1,491.8 550.1,491.0 C550.0,490.2 550.8,489.3 550.8,488.0 C550.8,486.7 550.2,484.5 550.0,483.1 C549.8,481.7 550.4,480.5 549.6,479.6 C548.8,478.7 546.7,478.5 545.5,477.6 C544.3,476.8 542.9,476.0 542.2,474.6 C541.5,473.2 541.7,470.8 541.0,469.4 C540.4,468.0 539.1,467.4 538.4,466.0 C537.7,464.6 537.4,462.2 536.8,460.7 C536.2,459.2 535.2,459.1 534.7,457.2 C534.2,455.3 534.3,451.9 533.9,449.4 C533.5,446.9 532.8,443.5 532.2,442.3 C531.6,441.1 531.3,442.5 530.5,442.1 C529.7,441.7 529.1,440.3 527.3,439.9 C525.5,439.5 522.3,440.1 519.9,439.6 C517.4,439.2 514.3,438.1 512.4,437.4 C510.5,436.7 509.5,435.7 508.3,435.3 C507.0,434.9 505.6,435.4 504.9,434.9 C504.2,434.4 504.5,432.7 504.2,432.1 C504.0,431.5 503.6,432.3 503.2,431.2 C502.8,430.1 502.3,427.3 502.1,425.4 C502.0,423.5 502.1,422.0 502.3,420.0 C502.5,418.0 503.0,415.3 503.2,413.3 C503.5,411.3 503.8,409.3 503.7,408.0 Z"/></clipPath><radialGradient id="bwg" cx="42%" cy="38%" r="62%"><stop offset="0" stop-color="#ffffff"/><stop offset="0.42" stop-color="#f2f2f2"/><stop offset="0.76" stop-color="#d9d9d9"/><stop offset="0.93" stop-color="#b4b4b4"/><stop offset="1" stop-color="#909090"/></radialGradient><radialGradient id="bog" cx="42%" cy="38%" r="62%"><stop offset="0" stop-color="#ffb640"/><stop offset="0.55" stop-color="#f28a14"/><stop offset="0.85" stop-color="#e07a0e"/><stop offset="1" stop-color="#b85e08"/></radialGradient><radialGradient id="bdg" cx="42%" cy="38%" r="62%"><stop offset="0" stop-color="#a8a8a8"/><stop offset="0.6" stop-color="#8e8e8e"/><stop offset="1" stop-color="#626262"/></radialGradient><filter id="edg" x="494" y="336" width="171" height="166" filterUnits="userSpaceOnUse"><feGaussianBlur stdDeviation="1.6"/></filter></defs>
<g clip-path="url(#cpg)">
<path d="M503.7,408.0 C503.6,406.7 502.7,406.5 502.5,405.7 C502.3,405.0 502.1,404.3 502.4,403.3 C502.7,402.3 503.4,401.0 504.0,399.8 C504.7,398.5 505.5,397.2 506.2,395.8 C506.9,394.4 507.7,392.5 508.3,391.2 C508.9,390.0 509.2,389.3 509.9,388.4 C510.6,387.5 511.4,387.0 512.6,386.0 C513.9,384.9 516.5,383.8 517.3,382.2 C518.1,380.6 517.3,378.3 517.5,376.7 C517.7,375.0 517.6,373.8 518.6,372.2 C519.6,370.6 522.1,368.8 523.3,367.2 C524.5,365.5 524.9,363.3 526.0,362.3 C527.1,361.3 528.7,361.4 529.8,361.0 C530.8,360.6 530.7,360.2 532.2,359.8 C533.7,359.4 536.6,358.7 538.7,358.5 C540.7,358.3 542.3,358.9 544.6,358.6 C546.9,358.3 549.8,357.7 552.3,356.8 C554.8,356.0 557.5,354.4 559.5,353.6 C561.5,352.8 562.9,352.8 564.5,352.2 C566.2,351.6 567.7,350.8 569.5,349.9 C571.3,349.0 573.5,347.5 575.4,346.8 C577.2,346.0 578.9,345.7 580.6,345.4 C582.3,345.1 584.0,345.2 585.5,345.1 C586.9,344.9 587.9,344.5 589.3,344.4 C590.7,344.3 592.2,344.1 593.9,344.4 C595.5,344.7 597.7,345.5 599.2,346.2 C600.7,346.9 602.0,347.8 603.0,348.6 C604.1,349.4 604.6,349.8 605.4,351.1 C606.2,352.4 607.1,354.8 607.7,356.2 C608.4,357.7 608.3,358.4 609.2,359.8 C610.1,361.2 612.1,363.1 613.3,364.4 C614.6,365.6 615.5,366.0 616.6,367.3 C617.7,368.6 618.9,370.8 620.1,372.3 C621.3,373.7 622.8,374.8 624.0,376.0 C625.2,377.2 626.0,378.5 627.0,379.3 C628.1,380.1 629.0,380.5 630.3,380.9 C631.6,381.3 633.5,381.3 634.8,381.9 C636.0,382.6 636.6,383.9 637.7,384.6 C638.8,385.3 639.9,385.3 641.3,385.9 C642.8,386.6 645.1,387.5 646.4,388.4 C647.7,389.3 648.6,390.3 649.2,391.4 C649.8,392.4 649.9,393.5 650.1,394.6 C650.3,395.7 650.4,396.7 650.4,397.9 C650.4,399.1 649.6,400.8 650.1,402.0 C650.6,403.2 652.2,403.8 653.2,404.9 C654.2,405.9 655.7,406.6 656.3,408.2 C656.9,409.8 656.4,412.3 656.6,414.3 C656.8,416.2 657.4,418.0 657.5,420.0 C657.6,422.0 657.3,424.5 657.1,426.4 C656.9,428.3 656.9,430.0 656.3,431.2 C655.7,432.4 654.6,433.3 653.6,433.9 C652.5,434.5 650.9,433.7 650.1,434.9 C649.3,436.1 649.6,439.2 649.0,440.8 C648.3,442.5 647.5,443.2 646.4,444.8 C645.3,446.4 643.8,448.3 642.4,450.3 C640.9,452.4 638.7,454.9 637.7,457.2 C636.7,459.5 637.2,462.3 636.6,464.3 C636.0,466.4 634.6,467.9 634.0,469.6 C633.4,471.3 633.6,473.1 633.0,474.7 C632.3,476.4 630.7,478.5 630.3,479.6 C629.9,480.7 630.7,480.7 630.7,481.5 C630.7,482.3 630.5,483.3 630.3,484.5 C630.1,485.7 629.9,487.4 629.3,488.8 C628.8,490.2 630.5,492.2 627.0,492.8 C623.5,493.4 614.2,492.1 608.1,492.2 C601.9,492.3 596.1,493.0 590.0,493.3 C583.9,493.6 577.7,494.1 571.2,494.0 C564.7,493.9 554.5,493.3 551.0,492.8 C547.5,492.3 550.1,491.8 550.1,491.0 C550.0,490.2 550.8,489.3 550.8,488.0 C550.8,486.7 550.2,484.5 550.0,483.1 C549.8,481.7 550.4,480.5 549.6,479.6 C548.8,478.7 546.7,478.5 545.5,477.6 C544.3,476.8 542.9,476.0 542.2,474.6 C541.5,473.2 541.7,470.8 541.0,469.4 C540.4,468.0 539.1,467.4 538.4,466.0 C537.7,464.6 537.4,462.2 536.8,460.7 C536.2,459.2 535.2,459.1 534.7,457.2 C534.2,455.3 534.3,451.9 533.9,449.4 C533.5,446.9 532.8,443.5 532.2,442.3 C531.6,441.1 531.3,442.5 530.5,442.1 C529.7,441.7 529.1,440.3 527.3,439.9 C525.5,439.5 522.3,440.1 519.9,439.6 C517.4,439.2 514.3,438.1 512.4,437.4 C510.5,436.7 509.5,435.7 508.3,435.3 C507.0,434.9 505.6,435.4 504.9,434.9 C504.2,434.4 504.5,432.7 504.2,432.1 C504.0,431.5 503.6,432.3 503.2,431.2 C502.8,430.1 502.3,427.3 502.1,425.4 C502.0,423.5 502.1,422.0 502.3,420.0 C502.5,418.0 503.0,415.3 503.2,413.3 C503.5,411.3 503.8,409.3 503.7,408.0 Z" fill="#8e8e8e"/>
<circle cx="574.0" cy="347.9" r="6.6" fill="url(#bwg)"/><circle cx="530.3" cy="363.3" r="5.9" fill="url(#bwg)"/><circle cx="582.6" cy="348.0" r="8.6" fill="url(#bwg)"/><circle cx="577.1" cy="349.9" r="7.9" fill="url(#bwg)"/><circle cx="574.0" cy="351.2" r="10.5" fill="url(#bwg)"/><circle cx="548.9" cy="358.8" r="9.8" fill="url(#bwg)"/><circle cx="553.5" cy="359.3" r="8.0" fill="url(#bwg)"/><circle cx="576.2" cy="354.5" r="10.2" fill="url(#bwg)"/><circle cx="525.9" cy="370.0" r="8.0" fill="url(#bwg)"/><circle cx="549.1" cy="363.4" r="9.6" fill="url(#bwg)"/><circle cx="600.6" cy="349.2" r="10.3" fill="url(#bwg)"/><circle cx="588.4" cy="353.7" r="7.5" fill="url(#bwg)"/><circle cx="573.7" cy="358.2" r="11.7" fill="url(#bwg)"/><circle cx="584.9" cy="355.4" r="11.1" fill="url(#bwg)"/><circle cx="600.8" cy="351.1" r="11.7" fill="url(#bwg)"/><circle cx="593.1" cy="353.9" r="11.3" fill="url(#bwg)"/><circle cx="587.0" cy="356.1" r="7.5" fill="url(#bwg)"/><circle cx="554.1" cy="367.3" r="7.7" fill="url(#bwg)"/><circle cx="534.4" cy="373.6" r="8.7" fill="url(#bwg)"/><circle cx="571.2" cy="363.3" r="11.1" fill="url(#bwg)"/><circle cx="585.4" cy="359.4" r="8.1" fill="url(#bwg)"/><circle cx="582.1" cy="360.5" r="7.1" fill="url(#bwg)"/><circle cx="554.7" cy="368.7" r="10.1" fill="url(#bwg)"/><circle cx="587.7" cy="360.1" r="10.7" fill="url(#bwg)"/><circle cx="543.7" cy="373.4" r="6.6" fill="url(#bwg)"/><circle cx="539.9" cy="375.1" r="8.1" fill="url(#bwg)"/><circle cx="564.6" cy="369.1" r="9.0" fill="url(#bwg)"/><circle cx="601.9" cy="358.7" r="8.8" fill="url(#bwg)"/><circle cx="557.9" cy="372.2" r="8.7" fill="url(#bwg)"/><circle cx="560.0" cy="372.0" r="9.9" fill="url(#bwg)"/><circle cx="578.8" cy="366.6" r="11.0" fill="url(#bwg)"/><circle cx="578.2" cy="367.1" r="10.7" fill="url(#bwg)"/><circle cx="529.8" cy="383.4" r="5.9" fill="url(#bwg)"/><circle cx="535.8" cy="381.8" r="10.6" fill="url(#bwg)"/><circle cx="604.9" cy="361.1" r="9.0" fill="url(#bwg)"/><circle cx="511.6" cy="389.3" r="9.6" fill="url(#bwg)"/><circle cx="577.4" cy="370.5" r="5.7" fill="url(#bwg)"/><circle cx="582.1" cy="369.3" r="6.2" fill="url(#bwg)"/><circle cx="563.9" cy="376.5" r="5.8" fill="url(#bwg)"/><circle cx="513.7" cy="391.9" r="10.7" fill="url(#bwg)"/><circle cx="595.6" cy="367.7" r="5.7" fill="url(#bwg)"/><circle cx="509.9" cy="393.4" r="10.2" fill="url(#bwg)"/><circle cx="604.5" cy="366.0" r="6.2" fill="url(#bwg)"/><circle cx="592.7" cy="369.7" r="11.5" fill="url(#bwg)"/><circle cx="559.6" cy="380.3" r="10.6" fill="url(#bwg)"/><circle cx="570.6" cy="377.4" r="7.9" fill="url(#bwg)"/><circle cx="540.8" cy="386.5" r="8.2" fill="url(#bwg)"/><circle cx="599.6" cy="369.5" r="6.6" fill="url(#bwg)"/><circle cx="569.2" cy="379.8" r="10.1" fill="url(#bwg)"/><circle cx="517.8" cy="395.7" r="10.1" fill="url(#bwg)"/><circle cx="525.6" cy="394.4" r="9.8" fill="url(#bwg)"/><circle cx="529.1" cy="393.5" r="10.7" fill="url(#bwg)"/><circle cx="580.6" cy="378.1" r="5.5" fill="url(#bwg)"/><circle cx="567.9" cy="382.7" r="11.6" fill="url(#bwg)"/><circle cx="505.9" cy="401.9" r="7.5" fill="url(#bwg)"/><circle cx="556.1" cy="387.7" r="9.6" fill="url(#bwg)"/><circle cx="548.0" cy="390.9" r="11.4" fill="url(#bwg)"/><circle cx="527.7" cy="397.0" r="8.1" fill="url(#bwg)"/><circle cx="583.7" cy="380.3" r="7.8" fill="url(#bwg)"/><circle cx="537.9" cy="394.5" r="7.4" fill="url(#bwg)"/><circle cx="575.3" cy="383.7" r="10.7" fill="url(#bwg)"/><circle cx="529.8" cy="397.7" r="10.6" fill="url(#bwg)"/><circle cx="606.5" cy="375.2" r="6.5" fill="url(#bwg)"/><circle cx="612.7" cy="373.4" r="7.7" fill="url(#bwg)"/><circle cx="548.3" cy="392.7" r="6.7" fill="url(#bwg)"/><circle cx="520.0" cy="401.5" r="6.4" fill="url(#bwg)"/><circle cx="551.9" cy="392.5" r="6.9" fill="url(#bwg)"/><circle cx="503.5" cy="407.2" r="9.3" fill="url(#bwg)"/><circle cx="541.4" cy="396.2" r="9.0" fill="url(#bwg)"/><circle cx="527.3" cy="401.2" r="7.3" fill="url(#bwg)"/><circle cx="593.4" cy="381.4" r="8.1" fill="url(#bwg)"/><circle cx="614.2" cy="375.3" r="10.0" fill="url(#bwg)"/><circle cx="572.1" cy="388.9" r="9.7" fill="url(#bwg)"/><circle cx="526.3" cy="403.1" r="10.8" fill="url(#bwg)"/><circle cx="612.2" cy="378.8" r="5.5" fill="url(#bwg)"/><circle cx="537.3" cy="401.4" r="8.7" fill="url(#bwg)"/><circle cx="524.9" cy="405.3" r="7.5" fill="url(#bwg)"/><circle cx="529.4" cy="404.1" r="9.1" fill="url(#bwg)"/><circle cx="616.8" cy="379.4" r="7.6" fill="url(#bwg)"/><circle cx="579.6" cy="391.0" r="6.2" fill="url(#bwg)"/><circle cx="547.3" cy="401.4" r="6.8" fill="url(#bwg)"/><circle cx="625.2" cy="378.3" r="8.3" fill="url(#bwg)"/><circle cx="614.8" cy="381.8" r="9.1" fill="url(#bwg)"/><circle cx="557.6" cy="399.6" r="7.7" fill="url(#bwg)"/><circle cx="549.4" cy="402.3" r="6.4" fill="url(#bwg)"/><circle cx="615.9" cy="382.7" r="10.4" fill="url(#bwg)"/><circle cx="595.5" cy="389.1" r="6.2" fill="url(#bwg)"/><circle cx="565.2" cy="398.2" r="8.4" fill="url(#bwg)"/><circle cx="505.1" cy="418.4" r="9.9" fill="url(#bwg)"/><circle cx="560.0" cy="402.6" r="5.5" fill="url(#bwg)"/><circle cx="568.5" cy="400.2" r="8.7" fill="url(#bwg)"/><circle cx="621.2" cy="385.4" r="8.4" fill="url(#bwg)"/><circle cx="565.9" cy="402.3" r="10.2" fill="url(#bwg)"/><circle cx="555.3" cy="406.6" r="11.7" fill="url(#bwg)"/><circle cx="548.2" cy="408.8" r="11.2" fill="url(#bwg)"/><circle cx="510.1" cy="421.0" r="9.9" fill="url(#bwg)"/><circle cx="577.4" cy="401.0" r="7.7" fill="url(#bwg)"/><circle cx="546.9" cy="410.8" r="10.1" fill="url(#bwg)"/><circle cx="571.4" cy="404.2" r="11.8" fill="url(#bwg)"/><circle cx="503.2" cy="425.3" r="6.3" fill="url(#bwg)"/><circle cx="539.0" cy="414.6" r="9.9" fill="url(#bwg)"/><circle cx="625.1" cy="389.7" r="9.6" fill="url(#bwg)"/><circle cx="539.6" cy="417.0" r="9.6" fill="url(#bwg)"/><circle cx="597.5" cy="400.0" r="6.0" fill="url(#bwg)"/><circle cx="517.9" cy="424.4" r="5.8" fill="url(#bwg)"/><circle cx="578.7" cy="406.1" r="7.0" fill="url(#bwg)"/><circle cx="636.2" cy="389.3" r="9.0" fill="url(#bwg)"/><circle cx="555.1" cy="415.2" r="10.6" fill="url(#bwg)"/><circle cx="628.2" cy="394.0" r="7.3" fill="url(#bwg)"/><circle cx="598.3" cy="403.2" r="9.5" fill="url(#bwg)"/><circle cx="521.7" cy="426.5" r="11.5" fill="url(#bwg)"/><circle cx="605.0" cy="402.0" r="10.7" fill="url(#bwg)"/><circle cx="559.5" cy="415.7" r="9.8" fill="url(#bwg)"/><circle cx="551.5" cy="418.2" r="6.9" fill="url(#bwg)"/><circle cx="582.9" cy="409.2" r="9.7" fill="url(#bwg)"/><circle cx="628.8" cy="395.8" r="10.1" fill="url(#bwg)"/><circle cx="552.2" cy="418.8" r="6.3" fill="url(#bwg)"/><circle cx="531.9" cy="425.1" r="10.0" fill="url(#bwg)"/><circle cx="635.9" cy="394.4" r="9.1" fill="url(#bwg)"/><circle cx="639.3" cy="393.8" r="9.8" fill="url(#bwg)"/><circle cx="514.2" cy="432.0" r="7.3" fill="url(#bwg)"/><circle cx="596.2" cy="407.7" r="9.3" fill="url(#bwg)"/><circle cx="630.6" cy="397.7" r="6.4" fill="url(#bwg)"/><circle cx="624.5" cy="399.7" r="9.9" fill="url(#bwg)"/><circle cx="542.0" cy="425.1" r="8.5" fill="url(#bwg)"/><circle cx="624.6" cy="400.5" r="7.7" fill="url(#bwg)"/><circle cx="611.5" cy="405.8" r="6.3" fill="url(#bwg)"/><circle cx="515.0" cy="434.9" r="8.8" fill="url(#bwg)"/><circle cx="641.6" cy="397.8" r="6.0" fill="url(#bwg)"/><circle cx="532.0" cy="431.1" r="10.8" fill="url(#bwg)"/><circle cx="576.5" cy="417.9" r="10.2" fill="url(#bwg)"/><circle cx="556.0" cy="424.3" r="9.6" fill="url(#bwg)"/><circle cx="561.9" cy="422.7" r="10.6" fill="url(#bwg)"/><circle cx="529.2" cy="432.6" r="9.7" fill="url(#bwg)"/><circle cx="584.7" cy="416.1" r="7.2" fill="url(#bwg)"/><circle cx="527.0" cy="434.0" r="10.2" fill="url(#bwg)"/><circle cx="602.9" cy="412.2" r="6.9" fill="url(#bwg)"/><circle cx="570.6" cy="421.9" r="8.0" fill="url(#bwg)"/><circle cx="572.9" cy="421.3" r="7.0" fill="url(#bwg)"/><circle cx="531.4" cy="434.4" r="7.3" fill="url(#bwg)"/><circle cx="572.3" cy="423.1" r="10.9" fill="url(#bwg)"/><circle cx="567.5" cy="424.6" r="7.1" fill="url(#bwg)"/><circle cx="600.4" cy="415.1" r="9.1" fill="url(#bwg)"/><circle cx="523.6" cy="438.5" r="11.0" fill="url(#bwg)"/><circle cx="529.3" cy="437.2" r="11.9" fill="url(#bwg)"/><circle cx="538.3" cy="434.7" r="6.1" fill="url(#bwg)"/><circle cx="601.6" cy="415.9" r="6.9" fill="url(#bwg)"/><circle cx="535.0" cy="436.1" r="9.1" fill="url(#bwg)"/><circle cx="544.3" cy="433.9" r="10.9" fill="url(#bwg)"/><circle cx="621.8" cy="411.1" r="9.5" fill="url(#bwg)"/><circle cx="560.2" cy="430.3" r="10.8" fill="url(#bwg)"/><circle cx="531.6" cy="439.2" r="8.9" fill="url(#bwg)"/><circle cx="572.3" cy="427.3" r="7.7" fill="url(#bwg)"/><circle cx="638.8" cy="407.5" r="10.0" fill="url(#bwg)"/><circle cx="610.7" cy="416.1" r="7.6" fill="url(#bwg)"/><circle cx="559.0" cy="432.5" r="6.0" fill="url(#bwg)"/><circle cx="578.5" cy="427.0" r="10.4" fill="url(#bwg)"/><circle cx="540.6" cy="438.7" r="7.5" fill="url(#bwg)"/><circle cx="580.3" cy="426.9" r="11.7" fill="url(#bwg)"/><circle cx="646.5" cy="407.6" r="6.8" fill="url(#bwg)"/><circle cx="619.5" cy="415.9" r="7.1" fill="url(#bwg)"/><circle cx="581.5" cy="427.6" r="11.8" fill="url(#bwg)"/><circle cx="557.8" cy="435.7" r="8.1" fill="url(#bwg)"/><circle cx="536.3" cy="442.6" r="8.4" fill="url(#bwg)"/><circle cx="555.9" cy="436.9" r="9.4" fill="url(#bwg)"/><circle cx="591.6" cy="427.6" r="11.0" fill="url(#bwg)"/><circle cx="561.4" cy="437.1" r="10.9" fill="url(#bwg)"/><circle cx="654.9" cy="410.0" r="9.2" fill="url(#bwg)"/><circle cx="612.0" cy="423.2" r="9.1" fill="url(#bwg)"/><circle cx="563.0" cy="438.8" r="7.3" fill="url(#bwg)"/><circle cx="543.4" cy="444.8" r="11.4" fill="url(#bwg)"/><circle cx="562.0" cy="439.2" r="9.4" fill="url(#bwg)"/><circle cx="604.5" cy="426.8" r="10.7" fill="url(#bwg)"/><circle cx="569.6" cy="437.4" r="7.3" fill="url(#bwg)"/><circle cx="553.2" cy="442.4" r="7.9" fill="url(#bwg)"/><circle cx="541.8" cy="445.9" r="11.8" fill="url(#bwg)"/><circle cx="612.0" cy="425.2" r="6.1" fill="url(#bwg)"/><circle cx="632.5" cy="419.2" r="8.5" fill="url(#bwg)"/><circle cx="618.0" cy="423.6" r="7.9" fill="url(#bwg)"/><circle cx="596.9" cy="430.7" r="10.7" fill="url(#bwg)"/><circle cx="651.9" cy="414.4" r="10.6" fill="url(#bwg)"/><circle cx="541.9" cy="447.6" r="7.4" fill="url(#bwg)"/><circle cx="630.2" cy="421.1" r="11.8" fill="url(#bwg)"/><circle cx="578.3" cy="436.7" r="6.4" fill="url(#bwg)"/><circle cx="593.8" cy="432.1" r="6.1" fill="url(#bwg)"/><circle cx="641.6" cy="417.8" r="7.9" fill="url(#bwg)"/><circle cx="613.7" cy="427.0" r="5.8" fill="url(#bwg)"/><circle cx="565.5" cy="441.7" r="5.9" fill="url(#bwg)"/><circle cx="564.9" cy="441.9" r="7.5" fill="url(#bwg)"/><circle cx="567.6" cy="441.1" r="10.5" fill="url(#bwg)"/><circle cx="541.3" cy="449.1" r="8.3" fill="url(#bwg)"/><circle cx="540.0" cy="449.8" r="7.5" fill="url(#bwg)"/><circle cx="554.5" cy="446.0" r="6.8" fill="url(#bwg)"/><circle cx="563.4" cy="443.5" r="10.8" fill="url(#bwg)"/><circle cx="595.8" cy="434.4" r="10.3" fill="url(#bwg)"/><circle cx="631.8" cy="423.8" r="5.8" fill="url(#bwg)"/><circle cx="606.3" cy="431.9" r="9.2" fill="url(#bwg)"/><circle cx="576.1" cy="442.2" r="9.7" fill="url(#bwg)"/><circle cx="568.6" cy="444.7" r="7.4" fill="url(#bwg)"/><circle cx="584.4" cy="440.4" r="9.3" fill="url(#bwg)"/><circle cx="657.0" cy="419.1" r="10.1" fill="url(#bwg)"/><circle cx="550.0" cy="451.2" r="10.1" fill="url(#bwg)"/><circle cx="535.8" cy="455.6" r="10.8" fill="url(#bwg)"/><circle cx="597.0" cy="437.9" r="8.6" fill="url(#bwg)"/><circle cx="648.8" cy="422.8" r="11.3" fill="url(#bwg)"/><circle cx="655.1" cy="421.3" r="8.7" fill="url(#bwg)"/><circle cx="644.8" cy="424.4" r="11.4" fill="url(#bwg)"/><circle cx="566.9" cy="447.8" r="9.9" fill="url(#bwg)"/><circle cx="548.6" cy="453.3" r="6.4" fill="url(#bwg)"/><circle cx="616.1" cy="433.9" r="8.4" fill="url(#bwg)"/><circle cx="590.4" cy="441.8" r="7.7" fill="url(#bwg)"/><circle cx="653.9" cy="423.2" r="10.2" fill="url(#bwg)"/><circle cx="583.1" cy="444.6" r="5.6" fill="url(#bwg)"/><circle cx="649.3" cy="424.8" r="11.2" fill="url(#bwg)"/><circle cx="649.3" cy="425.2" r="8.2" fill="url(#bwg)"/><circle cx="594.9" cy="441.6" r="11.0" fill="url(#bwg)"/><circle cx="602.9" cy="439.2" r="6.3" fill="url(#bwg)"/><circle cx="569.6" cy="449.6" r="8.6" fill="url(#bwg)"/><circle cx="601.8" cy="440.3" r="7.9" fill="url(#bwg)"/><circle cx="573.5" cy="449.2" r="10.6" fill="url(#bwg)"/><circle cx="655.5" cy="427.3" r="9.3" fill="url(#bwg)"/><circle cx="543.7" cy="461.0" r="5.6" fill="url(#bwg)"/><circle cx="547.3" cy="460.2" r="7.0" fill="url(#bwg)"/><circle cx="603.0" cy="443.7" r="7.0" fill="url(#bwg)"/><circle cx="555.0" cy="458.9" r="9.6" fill="url(#bwg)"/><circle cx="646.0" cy="431.8" r="7.3" fill="url(#bwg)"/><circle cx="620.6" cy="439.9" r="11.5" fill="url(#bwg)"/><circle cx="564.0" cy="458.3" r="11.8" fill="url(#bwg)"/><circle cx="542.2" cy="465.0" r="9.5" fill="url(#bwg)"/><circle cx="602.7" cy="447.5" r="7.2" fill="url(#bwg)"/><circle cx="621.1" cy="442.1" r="6.5" fill="url(#bwg)"/><circle cx="620.4" cy="442.7" r="7.1" fill="url(#bwg)"/><circle cx="635.8" cy="438.1" r="6.6" fill="url(#bwg)"/><circle cx="570.3" cy="458.1" r="6.7" fill="url(#bwg)"/><circle cx="640.3" cy="437.2" r="5.7" fill="url(#bwg)"/><circle cx="556.8" cy="463.5" r="5.7" fill="url(#bwg)"/><circle cx="572.5" cy="460.2" r="5.8" fill="url(#bwg)"/><circle cx="568.0" cy="462.9" r="11.5" fill="url(#bwg)"/><circle cx="623.7" cy="446.6" r="11.8" fill="url(#bwg)"/><circle cx="644.2" cy="440.5" r="8.5" fill="url(#bwg)"/><circle cx="634.2" cy="443.8" r="8.6" fill="url(#bwg)"/><circle cx="647.9" cy="440.2" r="6.8" fill="url(#bwg)"/><circle cx="623.6" cy="448.1" r="7.5" fill="url(#bwg)"/><circle cx="641.2" cy="443.3" r="5.6" fill="url(#bwg)"/><circle cx="598.5" cy="457.4" r="9.0" fill="url(#bwg)"/><circle cx="610.6" cy="454.7" r="8.9" fill="url(#bwg)"/><circle cx="588.7" cy="462.1" r="10.3" fill="url(#bwg)"/><circle cx="583.2" cy="464.4" r="7.9" fill="url(#bwg)"/><circle cx="600.3" cy="459.4" r="9.8" fill="url(#bwg)"/><circle cx="627.3" cy="451.6" r="7.2" fill="url(#bwg)"/><circle cx="624.4" cy="453.4" r="8.9" fill="url(#bwg)"/><circle cx="549.8" cy="476.0" r="6.3" fill="url(#bwg)"/><circle cx="637.7" cy="450.2" r="9.9" fill="url(#bwg)"/><circle cx="630.3" cy="453.7" r="8.7" fill="url(#bwg)"/><circle cx="576.0" cy="470.1" r="6.8" fill="url(#bwg)"/><circle cx="631.0" cy="454.0" r="8.5" fill="url(#bwg)"/><circle cx="593.8" cy="466.3" r="10.3" fill="url(#bwg)"/><circle cx="619.7" cy="459.6" r="6.7" fill="url(#bwg)"/><circle cx="620.9" cy="460.1" r="9.3" fill="url(#bwg)"/><circle cx="611.1" cy="463.1" r="10.7" fill="url(#bwg)"/><circle cx="553.7" cy="481.3" r="11.9" fill="url(#bwg)"/><circle cx="608.4" cy="465.4" r="9.4" fill="url(#bwg)"/><circle cx="576.8" cy="475.1" r="9.4" fill="url(#bwg)"/><circle cx="601.1" cy="468.8" r="7.3" fill="url(#bwg)"/><circle cx="619.2" cy="464.3" r="11.2" fill="url(#bwg)"/><circle cx="629.1" cy="461.8" r="8.6" fill="url(#bwg)"/><circle cx="555.3" cy="485.7" r="7.8" fill="url(#bwg)"/><circle cx="572.4" cy="480.6" r="7.9" fill="url(#bwg)"/><circle cx="554.8" cy="487.1" r="7.8" fill="url(#bwg)"/><circle cx="579.6" cy="480.1" r="10.5" fill="url(#bwg)"/><circle cx="610.1" cy="471.1" r="7.1" fill="url(#bwg)"/><circle cx="600.7" cy="474.8" r="8.7" fill="url(#bwg)"/><circle cx="627.0" cy="467.1" r="8.8" fill="url(#bwg)"/><circle cx="634.4" cy="465.2" r="11.2" fill="url(#bwg)"/><circle cx="560.3" cy="487.8" r="8.5" fill="url(#bwg)"/><circle cx="577.6" cy="482.9" r="6.6" fill="url(#bwg)"/><circle cx="612.4" cy="473.1" r="6.4" fill="url(#bwg)"/><circle cx="584.4" cy="482.3" r="6.1" fill="url(#bwg)"/><circle cx="593.8" cy="480.5" r="5.9" fill="url(#bwg)"/><circle cx="611.0" cy="476.1" r="10.4" fill="url(#bwg)"/><circle cx="625.1" cy="473.4" r="11.9" fill="url(#bwg)"/><circle cx="563.6" cy="492.2" r="11.8" fill="url(#bwg)"/><circle cx="560.4" cy="493.4" r="6.6" fill="url(#bwg)"/><circle cx="613.8" cy="477.4" r="10.5" fill="url(#bwg)"/><circle cx="622.9" cy="475.1" r="9.1" fill="url(#bwg)"/><circle cx="626.9" cy="474.4" r="10.3" fill="url(#bwg)"/><circle cx="590.7" cy="485.7" r="7.3" fill="url(#bwg)"/><circle cx="608.2" cy="481.3" r="11.7" fill="url(#bwg)"/><circle cx="609.8" cy="481.6" r="6.8" fill="url(#bwg)"/><circle cx="569.2" cy="493.9" r="6.3" fill="url(#bwg)"/><circle cx="579.9" cy="491.1" r="7.9" fill="url(#bwg)"/><circle cx="622.0" cy="479.0" r="10.7" fill="url(#bwg)"/><circle cx="582.1" cy="492.2" r="9.8" fill="url(#bwg)"/><circle cx="611.3" cy="485.3" r="6.0" fill="url(#bwg)"/><circle cx="629.3" cy="482.5" r="9.9" fill="url(#bwg)"/><circle cx="601.1" cy="491.3" r="6.1" fill="url(#bwg)"/><circle cx="609.7" cy="489.9" r="5.7" fill="url(#bwg)"/><circle cx="608.7" cy="490.3" r="7.0" fill="url(#bwg)"/><circle cx="627.1" cy="485.8" r="6.8" fill="url(#bwg)"/><circle cx="617.7" cy="491.9" r="7.5" fill="url(#bwg)"/><circle cx="608.9" cy="447.8" r="5.3" fill="url(#bdg)"/><circle cx="609.7" cy="448.6" r="4.2" fill="url(#bdg)"/><circle cx="608.6" cy="449.5" r="5.3" fill="url(#bdg)"/><circle cx="611.7" cy="449.2" r="3.6" fill="url(#bdg)"/><circle cx="615.8" cy="448.4" r="3.8" fill="url(#bdg)"/><circle cx="610.7" cy="450.2" r="5.1" fill="url(#bdg)"/><circle cx="614.6" cy="449.9" r="3.7" fill="url(#bdg)"/><circle cx="613.4" cy="451.1" r="5.0" fill="url(#bdg)"/><circle cx="570.6" cy="485.1" r="4.9" fill="url(#bdg)"/><circle cx="570.0" cy="486.1" r="5.6" fill="url(#bdg)"/><circle cx="566.7" cy="489.5" r="5.7" fill="url(#bdg)"/><circle cx="569.6" cy="489.1" r="5.6" fill="url(#bdg)"/><circle cx="570.6" cy="488.8" r="5.0" fill="url(#bdg)"/><circle cx="572.7" cy="488.4" r="4.9" fill="url(#bdg)"/><circle cx="578.5" cy="486.8" r="5.4" fill="url(#bdg)"/><circle cx="582.9" cy="485.6" r="6.3" fill="url(#bdg)"/><circle cx="583.2" cy="485.5" r="5.0" fill="url(#bdg)"/><circle cx="571.0" cy="489.9" r="6.1" fill="url(#bdg)"/><circle cx="570.4" cy="490.2" r="5.2" fill="url(#bdg)"/><circle cx="583.3" cy="486.5" r="5.1" fill="url(#bdg)"/><circle cx="572.6" cy="490.4" r="4.3" fill="url(#bdg)"/><circle cx="573.1" cy="490.5" r="5.8" fill="url(#bdg)"/><circle cx="573.4" cy="490.4" r="5.8" fill="url(#bdg)"/><circle cx="585.5" cy="487.0" r="4.8" fill="url(#bdg)"/><circle cx="579.6" cy="489.2" r="5.6" fill="url(#bdg)"/><circle cx="574.6" cy="490.8" r="4.6" fill="url(#bdg)"/><circle cx="574.3" cy="491.5" r="4.4" fill="url(#bdg)"/><circle cx="581.4" cy="489.8" r="5.4" fill="url(#bdg)"/><circle cx="578.9" cy="491.1" r="4.5" fill="url(#bdg)"/><circle cx="577.1" cy="491.7" r="5.1" fill="url(#bdg)"/><circle cx="582.7" cy="491.0" r="5.0" fill="url(#bdg)"/><circle cx="529.5" cy="368.8" r="5.6" fill="url(#bog)"/><circle cx="533.2" cy="368.5" r="5.3" fill="url(#bog)"/><circle cx="530.8" cy="369.2" r="4.5" fill="url(#bog)"/><circle cx="536.1" cy="367.9" r="4.8" fill="url(#bog)"/><circle cx="530.2" cy="370.4" r="6.7" fill="url(#bog)"/><circle cx="534.0" cy="369.4" r="6.0" fill="url(#bog)"/><circle cx="529.0" cy="371.0" r="5.8" fill="url(#bog)"/><circle cx="535.4" cy="370.2" r="6.1" fill="url(#bog)"/><circle cx="531.6" cy="371.8" r="5.0" fill="url(#bog)"/><circle cx="536.0" cy="371.8" r="6.4" fill="url(#bog)"/><circle cx="529.8" cy="373.9" r="5.5" fill="url(#bog)"/><circle cx="536.7" cy="372.0" r="5.1" fill="url(#bog)"/><circle cx="531.4" cy="373.8" r="5.0" fill="url(#bog)"/><circle cx="593.1" cy="370.5" r="4.6" fill="url(#bog)"/><circle cx="594.4" cy="370.3" r="3.7" fill="url(#bog)"/><circle cx="593.6" cy="371.7" r="4.8" fill="url(#bog)"/><circle cx="591.2" cy="372.4" r="4.9" fill="url(#bog)"/><circle cx="592.0" cy="372.9" r="4.5" fill="url(#bog)"/><circle cx="526.4" cy="393.7" r="2.6" fill="url(#bog)"/><circle cx="526.2" cy="394.0" r="2.9" fill="url(#bog)"/><circle cx="525.7" cy="394.7" r="3.1" fill="url(#bog)"/><circle cx="575.0" cy="399.7" r="3.5" fill="url(#bog)"/><circle cx="579.8" cy="398.6" r="4.9" fill="url(#bog)"/><circle cx="576.1" cy="400.0" r="3.4" fill="url(#bog)"/><circle cx="580.5" cy="399.4" r="4.2" fill="url(#bog)"/><circle cx="576.0" cy="401.2" r="3.7" fill="url(#bog)"/><circle cx="580.0" cy="402.3" r="3.7" fill="url(#bog)"/><circle cx="580.1" cy="402.7" r="4.0" fill="url(#bog)"/><circle cx="583.8" cy="401.8" r="4.0" fill="url(#bog)"/><circle cx="644.1" cy="391.2" r="5.4" fill="url(#bog)"/><circle cx="644.8" cy="392.0" r="5.2" fill="url(#bog)"/><circle cx="640.0" cy="394.5" r="4.7" fill="url(#bog)"/><circle cx="642.7" cy="393.9" r="5.7" fill="url(#bog)"/><circle cx="639.2" cy="395.0" r="4.8" fill="url(#bog)"/><circle cx="645.4" cy="393.5" r="5.0" fill="url(#bog)"/><circle cx="642.6" cy="394.3" r="4.5" fill="url(#bog)"/><circle cx="641.7" cy="394.8" r="5.3" fill="url(#bog)"/><circle cx="638.6" cy="396.0" r="4.5" fill="url(#bog)"/><circle cx="644.3" cy="396.1" r="4.4" fill="url(#bog)"/><circle cx="518.9" cy="434.2" r="3.7" fill="url(#bog)"/><circle cx="524.2" cy="433.7" r="4.3" fill="url(#bog)"/><circle cx="518.7" cy="436.4" r="4.7" fill="url(#bog)"/><circle cx="521.4" cy="435.9" r="4.6" fill="url(#bog)"/><circle cx="525.4" cy="434.7" r="4.4" fill="url(#bog)"/><circle cx="524.1" cy="437.3" r="3.8" fill="url(#bog)"/><circle cx="524.0" cy="437.6" r="3.5" fill="url(#bog)"/><circle cx="520.0" cy="438.8" r="4.3" fill="url(#bog)"/><circle cx="576.4" cy="442.2" r="6.2" fill="url(#bog)"/><circle cx="575.7" cy="442.8" r="7.3" fill="url(#bog)"/><circle cx="574.4" cy="443.7" r="5.8" fill="url(#bog)"/><circle cx="577.9" cy="443.4" r="5.6" fill="url(#bog)"/><circle cx="569.0" cy="447.0" r="5.8" fill="url(#bog)"/><circle cx="569.6" cy="447.0" r="7.5" fill="url(#bog)"/><circle cx="575.7" cy="446.2" r="7.2" fill="url(#bog)"/><circle cx="577.9" cy="445.5" r="6.6" fill="url(#bog)"/><circle cx="573.1" cy="447.2" r="6.0" fill="url(#bog)"/><circle cx="579.4" cy="446.6" r="5.6" fill="url(#bog)"/><circle cx="571.6" cy="449.1" r="6.0" fill="url(#bog)"/><circle cx="575.7" cy="448.1" r="7.1" fill="url(#bog)"/><circle cx="572.2" cy="450.1" r="7.3" fill="url(#bog)"/><circle cx="578.0" cy="449.1" r="7.5" fill="url(#bog)"/><circle cx="637.7" cy="432.3" r="3.0" fill="url(#bog)"/><circle cx="635.5" cy="433.3" r="3.3" fill="url(#bog)"/><circle cx="638.1" cy="433.0" r="3.3" fill="url(#bog)"/><circle cx="546.2" cy="463.3" r="4.2" fill="url(#bog)"/><circle cx="546.0" cy="464.7" r="3.8" fill="url(#bog)"/><circle cx="546.2" cy="465.0" r="4.1" fill="url(#bog)"/><circle cx="545.3" cy="465.5" r="4.4" fill="url(#bog)"/><circle cx="545.6" cy="465.7" r="4.3" fill="url(#bog)"/><circle cx="544.6" cy="467.7" r="4.2" fill="url(#bog)"/><circle cx="548.2" cy="466.8" r="3.7" fill="url(#bog)"/><circle cx="546.7" cy="467.4" r="5.2" fill="url(#bog)"/><circle cx="589.2" cy="466.7" r="4.4" fill="url(#bog)"/><circle cx="589.9" cy="468.4" r="4.6" fill="url(#bog)"/><circle cx="593.2" cy="469.1" r="4.5" fill="url(#bog)"/><circle cx="593.1" cy="469.4" r="5.3" fill="url(#bog)"/><circle cx="596.7" cy="468.9" r="5.3" fill="url(#bog)"/><circle cx="597.1" cy="469.3" r="4.1" fill="url(#bog)"/><circle cx="595.7" cy="469.7" r="3.8" fill="url(#bog)"/><circle cx="594.9" cy="470.4" r="5.1" fill="url(#bog)"/><circle cx="593.0" cy="471.0" r="5.0" fill="url(#bog)"/>
<path d="M503.7,408.0 C503.6,406.7 502.7,406.5 502.5,405.7 C502.3,405.0 502.1,404.3 502.4,403.3 C502.7,402.3 503.4,401.0 504.0,399.8 C504.7,398.5 505.5,397.2 506.2,395.8 C506.9,394.4 507.7,392.5 508.3,391.2 C508.9,390.0 509.2,389.3 509.9,388.4 C510.6,387.5 511.4,387.0 512.6,386.0 C513.9,384.9 516.5,383.8 517.3,382.2 C518.1,380.6 517.3,378.3 517.5,376.7 C517.7,375.0 517.6,373.8 518.6,372.2 C519.6,370.6 522.1,368.8 523.3,367.2 C524.5,365.5 524.9,363.3 526.0,362.3 C527.1,361.3 528.7,361.4 529.8,361.0 C530.8,360.6 530.7,360.2 532.2,359.8 C533.7,359.4 536.6,358.7 538.7,358.5 C540.7,358.3 542.3,358.9 544.6,358.6 C546.9,358.3 549.8,357.7 552.3,356.8 C554.8,356.0 557.5,354.4 559.5,353.6 C561.5,352.8 562.9,352.8 564.5,352.2 C566.2,351.6 567.7,350.8 569.5,349.9 C571.3,349.0 573.5,347.5 575.4,346.8 C577.2,346.0 578.9,345.7 580.6,345.4 C582.3,345.1 584.0,345.2 585.5,345.1 C586.9,344.9 587.9,344.5 589.3,344.4 C590.7,344.3 592.2,344.1 593.9,344.4 C595.5,344.7 597.7,345.5 599.2,346.2 C600.7,346.9 602.0,347.8 603.0,348.6 C604.1,349.4 604.6,349.8 605.4,351.1 C606.2,352.4 607.1,354.8 607.7,356.2 C608.4,357.7 608.3,358.4 609.2,359.8 C610.1,361.2 612.1,363.1 613.3,364.4 C614.6,365.6 615.5,366.0 616.6,367.3 C617.7,368.6 618.9,370.8 620.1,372.3 C621.3,373.7 622.8,374.8 624.0,376.0 C625.2,377.2 626.0,378.5 627.0,379.3 C628.1,380.1 629.0,380.5 630.3,380.9 C631.6,381.3 633.5,381.3 634.8,381.9 C636.0,382.6 636.6,383.9 637.7,384.6 C638.8,385.3 639.9,385.3 641.3,385.9 C642.8,386.6 645.1,387.5 646.4,388.4 C647.7,389.3 648.6,390.3 649.2,391.4 C649.8,392.4 649.9,393.5 650.1,394.6 C650.3,395.7 650.4,396.7 650.4,397.9 C650.4,399.1 649.6,400.8 650.1,402.0 C650.6,403.2 652.2,403.8 653.2,404.9 C654.2,405.9 655.7,406.6 656.3,408.2 C656.9,409.8 656.4,412.3 656.6,414.3 C656.8,416.2 657.4,418.0 657.5,420.0 C657.6,422.0 657.3,424.5 657.1,426.4 C656.9,428.3 656.9,430.0 656.3,431.2 C655.7,432.4 654.6,433.3 653.6,433.9 C652.5,434.5 650.9,433.7 650.1,434.9 C649.3,436.1 649.6,439.2 649.0,440.8 C648.3,442.5 647.5,443.2 646.4,444.8 C645.3,446.4 643.8,448.3 642.4,450.3 C640.9,452.4 638.7,454.9 637.7,457.2 C636.7,459.5 637.2,462.3 636.6,464.3 C636.0,466.4 634.6,467.9 634.0,469.6 C633.4,471.3 633.6,473.1 633.0,474.7 C632.3,476.4 630.7,478.5 630.3,479.6 C629.9,480.7 630.7,480.7 630.7,481.5 C630.7,482.3 630.5,483.3 630.3,484.5 C630.1,485.7 629.9,487.4 629.3,488.8 C628.8,490.2 630.5,492.2 627.0,492.8 C623.5,493.4 614.2,492.1 608.1,492.2 C601.9,492.3 596.1,493.0 590.0,493.3 C583.9,493.6 577.7,494.1 571.2,494.0 C564.7,493.9 554.5,493.3 551.0,492.8 C547.5,492.3 550.1,491.8 550.1,491.0 C550.0,490.2 550.8,489.3 550.8,488.0 C550.8,486.7 550.2,484.5 550.0,483.1 C549.8,481.7 550.4,480.5 549.6,479.6 C548.8,478.7 546.7,478.5 545.5,477.6 C544.3,476.8 542.9,476.0 542.2,474.6 C541.5,473.2 541.7,470.8 541.0,469.4 C540.4,468.0 539.1,467.4 538.4,466.0 C537.7,464.6 537.4,462.2 536.8,460.7 C536.2,459.2 535.2,459.1 534.7,457.2 C534.2,455.3 534.3,451.9 533.9,449.4 C533.5,446.9 532.8,443.5 532.2,442.3 C531.6,441.1 531.3,442.5 530.5,442.1 C529.7,441.7 529.1,440.3 527.3,439.9 C525.5,439.5 522.3,440.1 519.9,439.6 C517.4,439.2 514.3,438.1 512.4,437.4 C510.5,436.7 509.5,435.7 508.3,435.3 C507.0,434.9 505.6,435.4 504.9,434.9 C504.2,434.4 504.5,432.7 504.2,432.1 C504.0,431.5 503.6,432.3 503.2,431.2 C502.8,430.1 502.3,427.3 502.1,425.4 C502.0,423.5 502.1,422.0 502.3,420.0 C502.5,418.0 503.0,415.3 503.2,413.3 C503.5,411.3 503.8,409.3 503.7,408.0 Z" fill="none" stroke="#8a8a8a" stroke-width="2.5" filter="url(#edg)" stroke-opacity="0.7"/>
</g>
<rect x="503.7" y="408.2" width="152.6" height="23.6" fill="#ade3ef" rx="3" fill-opacity="0.75"/>
<rect x="503.7" y="408.2" width="152.6" height="23.6" fill="none" rx="3" stroke="#1d2f66" stroke-width="0.9" stroke-dasharray="1.2,1.6"/>
<path d="M580,414 L586,410 L589,416 L592,409 L590,417 L584,417 Z" fill="#d02050"/>
<text x="478.9" y="367.3" font-size="16" fill="#111">S455</text>
<text x="530.8" y="356.3" font-size="16" fill="#111">T463</text>
<text x="609.5" y="359.3" font-size="16" fill="#111">G448</text>
<text x="627.5" y="373.4" font-size="16" fill="#111">V600</text>
<line x1="627.5" y1="377.2" x2="661.0" y2="377.2" stroke="#111" stroke-width="1.0" />
<text x="466.8" y="398.5" font-size="16" fill="#111">D530</text>
<text x="497.8" y="456.2" font-size="16" fill="#111">N523</text>
<text x="488.9" y="475.9" font-size="16" fill="#111">Q627</text>
<text x="642.3" y="467.0" font-size="16" fill="#111">L610</text>
<line x1="642.3" y1="470.8" x2="676.2" y2="470.8" stroke="#111" stroke-width="1.0" />
<text x="507.6" y="492.6" font-size="16" fill="#111">K630</text>
<text x="637.4" y="492.6" font-size="16" fill="#111">G631</text>
<line x1="565.7" y1="356.1" x2="583.1" y2="399.5" stroke="#111" stroke-width="0.8" />
<line x1="611.7" y1="362.3" x2="598.0" y2="372.2" stroke="#111" stroke-width="0.8" />
<line x1="584.4" y1="446.7" x2="635.2" y2="472.8" stroke="#111" stroke-width="0.8" />
<line x1="576.9" y1="451.7" x2="549.6" y2="481.4" stroke="#111" stroke-width="0.8" />
<line x1="643.9" y1="439.2" x2="650.1" y2="451.7" stroke="#111" stroke-width="0.8" />
<line x1="634.0" y1="381.0" x2="637.0" y2="385.0" stroke="#111" stroke-width="0.8" />
<line x1="505.5" y1="394.5" x2="520.0" y2="394.5" stroke="#111" stroke-width="0.8" />
<text x="6.2" y="502.0" font-size="25" fill="#111">h</text>
<text x="28.6" y="501.5" font-size="15"><tspan fill="#4a72c2">PBP5</tspan><tspan fill="#111">:SP3</tspan></text>
<path d="M154.3 631.5v1.2M141.1 616.5v1.2M159.8 608.4v1.2M155.4 621.8v1.2M180.5 632.9v1.2M142.4 612.5v1.2M169.2 575.8v1.2M134.9 569.5v1.2M158.9 606.7v1.2M137.3 577.9v1.2M142.7 602.6v1.2M157.6 603.8v1.2M135.6 569.6v1.2M152.5 612.8v1.2M158.1 599.7v1.2M198.8 614.7v1.2M149.5 636.2v1.2M130.5 627.5v1.2M166.3 596.2v1.2M171.2 607.1v1.2M171.5 630.3v1.2M140.4 613.8v1.2M137.9 620.5v1.2M158.0 612.0v1.2M165.3 601.2v1.2M150.5 618.1v1.2M153.4 638.9v1.2M164.3 607.5v1.2M164.6 636.6v1.2M157.2 635.3v1.2M173.7 603.5v1.2M157.1 630.1v1.2M152.7 603.3v1.2M157.2 608.4v1.2M149.5 598.7v1.2M153.2 627.0v1.2M149.1 581.8v1.2M150.4 590.6v1.2M147.1 629.0v1.2M165.0 626.9v1.2M148.9 611.6v1.2M180.7 636.5v1.2M147.5 610.9v1.2M163.8 608.5v1.2M134.6 619.8v1.2M149.0 631.8v1.2M164.0 605.4v1.2M152.5 656.4v1.2M177.2 609.2v1.2M154.7 615.9v1.2M151.2 622.3v1.2M163.7 640.0v1.2M149.8 633.5v1.2M147.7 623.0v1.2M164.9 625.0v1.2M170.2 631.6v1.2M163.4 620.7v1.2M173.5 610.3v1.2M139.0 596.2v1.2M151.9 588.8v1.2M140.8 633.0v1.2M148.0 617.4v1.2M140.0 609.4v1.2M156.7 607.9v1.2M176.7 602.6v1.2M153.6 629.5v1.2M142.7 613.6v1.2M163.0 595.9v1.2M136.9 635.7v1.2M142.9 605.2v1.2M172.2 628.1v1.2M148.0 642.0v1.2M157.4 630.3v1.2M158.2 646.7v1.2M173.8 637.2v1.2M163.6 609.2v1.2M154.0 621.3v1.2M148.3 633.6v1.2M176.9 624.6v1.2M148.2 601.4v1.2M171.6 572.6v1.2M150.1 605.4v1.2M158.4 636.2v1.2M156.0 608.8v1.2M171.7 602.8v1.2M160.9 614.3v1.2M154.6 650.0v1.2M137.6 610.0v1.2M160.4 587.9v1.2M162.2 612.0v1.2M141.3 654.5v1.2M158.8 608.7v1.2M149.0 612.6v1.2M162.4 644.6v1.2M168.4 602.6v1.2M164.0 599.6v1.2M164.0 616.6v1.2M154.7 598.7v1.2M153.3 585.8v1.2M171.0 633.4v1.2M179.8 576.7v1.2M163.5 597.5v1.2M148.1 639.8v1.2M163.9 600.1v1.2M184.3 597.0v1.2M150.1 610.4v1.2M182.7 606.1v1.2M138.4 603.2v1.2M147.5 600.9v1.2M151.8 620.8v1.2M145.9 636.7v1.2M158.2 598.5v1.2M163.9 634.7v1.2M154.1 606.3v1.2M152.1 628.8v1.2M166.1 623.6v1.2M156.3 611.0v1.2M164.1 628.4v1.2M123.1 625.6v1.2M161.9 619.0v1.2M163.7 604.4v1.2M151.7 621.6v1.2M157.2 601.4v1.2M155.7 616.2v1.2M152.9 621.8v1.2M148.7 609.3v1.2M148.6 575.5v1.2M158.7 654.1v1.2M148.4 611.8v1.2M158.2 585.0v1.2M161.8 624.4v1.2M154.9 629.0v1.2M159.6 590.6v1.2M159.0 598.1v1.2M161.7 618.0v1.2M155.7 613.0v1.2M174.4 624.0v1.2M157.7 609.1v1.2M150.3 655.0v1.2M146.6 601.6v1.2M159.5 633.5v1.2M149.5 614.5v1.2M143.2 640.3v1.2M150.2 642.0v1.2M172.2 633.7v1.2M173.2 595.9v1.2M123.0 624.8v1.2M144.1 656.8v1.2M155.7 577.2v1.2M162.7 639.2v1.2M152.3 604.8v1.2M157.3 596.5v1.2M151.1 635.0v1.2M152.5 628.7v1.2M132.4 576.0v1.2M178.2 587.5v1.2M142.0 610.0v1.2M127.5 616.3v1.2M159.2 661.6v1.2M172.2 613.6v1.2M130.5 611.9v1.2M159.2 625.5v1.2M146.7 621.2v1.2M151.6 616.4v1.2M164.3 624.5v1.2M139.8 624.9v1.2M162.5 624.6v1.2M142.0 622.8v1.2M168.9 595.8v1.2M177.8 615.0v1.2M153.5 620.3v1.2M167.1 611.2v1.2M159.2 639.1v1.2M173.6 637.3v1.2M164.4 575.0v1.2M148.4 611.1v1.2M128.0 602.4v1.2M151.1 672.4v1.2M146.6 623.9v1.2M152.7 624.7v1.2M174.9 611.7v1.2M154.4 615.2v1.2M157.7 666.4v1.2M145.6 623.7v1.2M158.5 615.3v1.2M136.2 650.8v1.2M158.6 623.4v1.2M118.1 592.1v1.2M155.5 620.9v1.2M153.3 592.0v1.2M168.3 625.7v1.2M151.5 605.6v1.2M132.7 608.5v1.2M148.5 558.4v1.2M167.8 611.7v1.2M126.9 611.4v1.2M141.8 588.5v1.2M154.9 627.1v1.2M140.1 615.0v1.2M131.6 631.2v1.2M159.7 627.3v1.2M158.8 598.9v1.2M163.5 628.4v1.2M161.1 611.5v1.2M144.9 625.6v1.2M182.1 606.3v1.2M146.1 583.9v1.2M179.6 623.5v1.2M149.1 593.2v1.2M167.8 615.5v1.2M167.2 619.7v1.2M159.8 635.0v1.2M178.0 596.7v1.2M139.0 632.0v1.2M146.7 624.4v1.2M137.2 613.8v1.2M159.9 657.5v1.2M153.1 623.7v1.2M163.9 624.1v1.2M143.8 654.6v1.2M147.6 653.0v1.2M140.5 622.5v1.2M154.3 647.4v1.2M158.3 604.0v1.2M164.3 593.3v1.2M165.7 632.2v1.2M194.8 562.6v1.2M199.8 558.1v1.2M211.2 555.6v1.2M208.6 558.5v1.2M198.9 557.3v1.2M202.4 559.1v1.2M198.4 563.4v1.2M208.4 557.2v1.2M206.1 560.5v1.2M197.2 561.2v1.2M175.3 576.5v1.2M204.2 551.1v1.2M196.5 558.6v1.2M178.3 573.8v1.2M205.0 557.6v1.2M178.2 567.4v1.2M186.2 565.4v1.2M199.4 563.4v1.2M190.1 561.4v1.2M185.2 569.4v1.2M207.4 558.5v1.2M185.8 565.7v1.2M178.2 565.0v1.2M189.2 567.8v1.2M182.9 571.2v1.2M178.1 570.7v1.2M207.4 557.4v1.2M206.7 558.4v1.2M187.9 572.4v1.2M196.8 558.5v1.2M208.3 555.9v1.2M184.8 566.6v1.2M204.7 564.2v1.2M186.7 565.7v1.2M200.3 558.0v1.2M208.6 557.3v1.2M205.3 559.9v1.2M180.1 567.5v1.2M192.1 566.1v1.2M181.8 574.9v1.2M190.8 568.8v1.2M178.5 568.8v1.2M202.5 560.4v1.2M203.9 557.2v1.2M176.0 574.9v1.2M180.4 560.3v1.2M176.3 576.3v1.2M179.8 560.3v1.2M180.0 574.0v1.2M181.2 567.5v1.2M185.0 572.1v1.2M178.6 571.9v1.2M181.3 569.5v1.2M179.8 566.7v1.2M174.9 579.2v1.2M175.7 584.0v1.2M172.5 578.8v1.2M145.2 595.9v1.2M134.2 660.5v1.2M158.8 584.3v1.2M113.3 633.9v1.2M136.2 548.6v1.2M127.6 567.7v1.2M167.2 575.8v1.2M174.5 557.0v1.2M134.4 533.3v1.2M132.9 560.9v1.2M169.5 591.9v1.2M173.0 589.6v1.2M177.0 550.0v1.2M155.8 539.6v1.2M163.7 525.7v1.2M108.3 633.7v1.2M154.4 575.1v1.2M183.9 567.6v1.2M129.0 668.0v1.2M129.5 549.8v1.2M115.0 613.8v1.2M135.3 654.7v1.2M139.9 680.6v1.2M104.1 626.4v1.2M153.4 607.9v1.2M140.3 598.7v1.2M161.0 512.2v1.2M139.9 533.4v1.2M154.5 599.6v1.2M125.8 585.4v1.2M136.8 586.9v1.2M112.3 648.1v1.2M132.3 548.1v1.2M134.9 615.3v1.2M174.6 628.8v1.2M98.2 645.7v1.2M104.5 649.7v1.2M159.4 587.3v1.2M149.5 536.5v1.2M152.3 644.7v1.2M204.7 529.9v1.2M180.7 589.3v1.2M151.4 574.1v1.2M164.1 641.9v1.2M174.4 572.7v1.2M170.5 540.6v1.2M159.7 599.6v1.2M179.7 514.8v1.2M120.0 620.2v1.2M146.3 606.7v1.2M172.9 569.3v1.2M137.0 611.3v1.2M160.8 570.9v1.2M163.7 640.0v1.2M159.1 643.7v1.2M127.5 658.2v1.2M147.0 566.9v1.2M172.9 612.8v1.2M155.5 635.1v1.2M116.8 665.4v1.2M152.4 612.0v1.2M153.7 617.0v1.2M125.9 678.7v1.2M124.0 634.0v1.2M172.9 594.8v1.2M120.9 667.1v1.2M192.1 539.9v1.2M139.5 592.2v1.2M153.0 599.0v1.2M177.5 601.2v1.2M138.4 574.7v1.2M153.2 615.3v1.2M132.1 635.9v1.2M139.0 612.4v1.2M146.4 585.3v1.2M169.2 581.5v1.2M118.3 602.1v1.2M122.9 622.1v1.2M123.4 639.8v1.2M140.9 635.6v1.2M136.1 616.0v1.2M141.2 566.5v1.2M168.0 594.4v1.2M133.8 664.2v1.2M175.9 568.2v1.2M178.0 605.5v1.2M154.9 587.3v1.2M159.0 557.0v1.2M121.2 626.7v1.2M149.5 555.4v1.2M120.4 542.1v1.2M173.2 622.9v1.2M176.7 612.0v1.2M133.6 672.6v1.2M154.5 617.4v1.2M145.8 644.5v1.2M162.1 618.3v1.2M152.0 621.4v1.2M120.3 624.8v1.2M105.5 649.8v1.2M172.8 574.8v1.2M133.9 562.4v1.2M147.6 621.9v1.2M176.7 568.3v1.2M178.2 620.5v1.2M175.7 567.6v1.2M150.4 576.8v1.2M188.0 561.0v1.2M152.1 659.9v1.2M109.6 595.7v1.2M148.4 660.4v1.2M152.8 666.1v1.2M139.1 581.6v1.2M155.4 561.3v1.2M156.1 547.4v1.2M161.3 599.1v1.2M147.0 613.9v1.2M158.7 634.2v1.2M182.4 550.8v1.2M173.1 565.0v1.2M159.6 560.3v1.2M165.1 550.3v1.2M173.8 578.9v1.2M130.8 576.9v1.2M162.7 590.3v1.2M143.7 547.0v1.2M155.0 620.0v1.2M177.7 501.1v1.2M169.5 519.8v1.2M153.9 583.2v1.2M145.0 560.3v1.2M159.2 610.4v1.2M114.6 594.7v1.2M146.9 623.8v1.2M122.3 520.9v1.2M153.2 543.8v1.2M191.6 576.0v1.2M137.0 597.0v1.2M136.4 606.7v1.2M151.5 584.4v1.2M142.0 556.7v1.2M132.8 616.7v1.2M181.3 528.1v1.2M174.2 604.6v1.2M160.0 592.8v1.2M161.0 581.1v1.2M162.2 599.0v1.2M149.0 556.1v1.2M156.1 582.5v1.2M134.1 619.1v1.2M138.7 645.4v1.2M168.3 571.8v1.2M129.7 639.1v1.2M142.2 581.0v1.2M175.9 593.0v1.2M133.9 567.3v1.2M49.4 671.9v1.2M85.1 692.9v1.2M94.0 652.8v1.2M101.2 661.0v1.2M131.6 496.7v1.2" stroke="#fb36fb" stroke-width="2.5" stroke-linecap="round" fill="none"/>
<path d="M152.0 641.6v1.5M158.3 611.8v1.5M131.5 620.0v1.5M173.0 587.1v1.5M157.3 610.6v1.5M146.8 600.2v1.5M148.5 627.3v1.5M166.8 616.0v1.5M179.0 595.3v1.5M160.3 623.0v1.5M157.8 613.0v1.5M157.5 614.0v1.5M160.7 609.6v1.5M163.7 662.8v1.5M146.1 605.3v1.5M168.7 622.8v1.5M152.9 633.6v1.5M156.6 616.0v1.5M167.7 630.1v1.5M160.8 600.3v1.5M154.7 612.4v1.5M162.3 641.4v1.5M162.7 614.6v1.5M149.8 631.5v1.5M158.0 579.4v1.5M140.6 599.6v1.5M177.8 641.0v1.5M136.5 600.1v1.5M148.6 620.4v1.5M141.7 628.9v1.5M158.0 632.6v1.5M165.3 607.3v1.5M165.1 636.2v1.5M151.2 590.8v1.5M173.7 617.7v1.5M142.7 626.0v1.5M175.9 635.2v1.5M144.4 609.5v1.5M154.3 638.9v1.5M170.4 581.8v1.5M154.6 611.1v1.5M149.8 608.5v1.5M131.3 622.5v1.5M136.1 643.2v1.5M158.1 570.8v1.5M152.9 644.3v1.5M162.0 631.6v1.5M141.6 628.6v1.5M164.3 586.0v1.5M149.7 610.2v1.5M150.1 631.3v1.5M166.5 619.4v1.5M161.9 647.6v1.5M128.4 664.6v1.5M149.6 594.2v1.5M173.8 620.6v1.5M161.3 567.0v1.5M150.8 648.2v1.5M140.6 584.1v1.5M134.2 637.5v1.5M156.5 634.8v1.5M149.1 642.3v1.5M150.5 612.1v1.5M158.0 645.4v1.5M169.2 587.5v1.5M160.7 614.8v1.5M156.9 628.3v1.5M136.4 630.0v1.5M152.6 612.8v1.5M175.6 608.2v1.5M146.7 627.1v1.5M160.7 624.7v1.5M151.1 631.2v1.5M133.9 617.4v1.5M143.5 622.8v1.5M153.7 624.8v1.5M163.3 652.7v1.5M155.7 594.2v1.5M147.2 623.1v1.5M161.1 593.6v1.5M141.2 655.3v1.5M148.9 618.6v1.5M146.5 636.9v1.5M153.0 595.5v1.5M153.7 632.5v1.5M171.2 569.4v1.5M137.4 626.5v1.5M141.4 613.3v1.5M151.9 615.0v1.5M158.7 642.3v1.5M144.8 629.9v1.5M162.3 642.7v1.5M148.3 595.4v1.5M153.7 594.7v1.5M140.3 597.6v1.5M160.4 612.9v1.5M156.5 615.4v1.5M162.6 614.1v1.5M142.4 628.3v1.5M148.4 653.5v1.5M148.0 594.1v1.5M168.3 611.6v1.5M156.0 609.1v1.5M161.5 635.6v1.5M159.2 620.4v1.5M137.9 603.6v1.5M167.4 612.4v1.5M130.8 603.3v1.5M154.3 597.0v1.5M152.1 625.1v1.5M157.6 600.7v1.5M134.8 625.2v1.5M164.2 643.8v1.5M156.1 600.7v1.5M158.6 621.1v1.5M141.2 644.4v1.5M168.4 565.5v1.5M158.6 637.3v1.5M170.0 612.9v1.5M167.9 646.8v1.5M156.3 638.4v1.5M154.4 614.3v1.5M143.4 634.8v1.5M162.1 614.3v1.5M154.6 595.0v1.5M133.9 612.4v1.5M153.8 619.9v1.5M145.4 626.4v1.5M154.0 627.6v1.5M173.1 584.0v1.5M144.3 604.6v1.5M173.9 560.7v1.5M148.2 614.0v1.5M169.2 605.7v1.5M164.5 618.2v1.5M163.7 634.1v1.5M170.1 641.7v1.5M158.6 634.9v1.5M147.3 593.2v1.5M164.2 618.6v1.5M164.5 591.6v1.5M155.2 604.7v1.5M144.1 651.0v1.5M150.4 625.1v1.5M168.6 652.0v1.5M147.4 622.9v1.5M145.9 615.1v1.5M170.4 655.4v1.5M179.9 591.3v1.5M149.2 630.4v1.5M153.2 623.2v1.5M130.1 620.4v1.5M162.1 594.8v1.5M154.8 608.3v1.5M159.8 638.0v1.5M161.4 629.3v1.5M158.9 669.6v1.5M157.8 667.4v1.5M142.6 625.7v1.5M144.6 588.9v1.5M157.8 639.2v1.5M171.3 584.1v1.5M155.1 621.7v1.5M147.0 603.8v1.5M155.5 618.9v1.5M151.7 606.0v1.5M155.3 636.3v1.5M168.5 596.0v1.5M159.6 620.4v1.5M136.6 613.0v1.5M142.7 627.6v1.5M126.2 624.6v1.5M170.7 613.1v1.5M177.8 624.5v1.5M154.6 573.9v1.5M153.1 611.1v1.5M163.8 628.3v1.5M157.4 625.0v1.5M150.9 637.9v1.5M163.6 611.1v1.5M143.7 646.3v1.5M169.8 600.9v1.5M158.5 619.3v1.5M206.8 554.4v1.5M187.3 562.5v1.5M194.4 562.9v1.5M182.8 569.3v1.5M186.6 571.7v1.5M175.9 572.0v1.5M185.0 568.8v1.5M207.2 549.4v1.5M200.3 563.6v1.5M211.1 561.3v1.5M183.1 566.9v1.5M206.2 559.4v1.5M175.6 568.9v1.5M192.3 561.8v1.5M186.3 564.3v1.5M180.5 571.4v1.5M203.0 559.7v1.5M187.7 561.8v1.5M178.4 574.0v1.5M195.5 569.0v1.5M199.1 556.7v1.5M177.1 566.9v1.5M175.3 568.4v1.5M194.0 562.4v1.5M171.6 574.6v1.5M211.6 559.3v1.5M197.8 565.4v1.5M188.3 565.6v1.5M184.8 569.2v1.5M189.4 568.5v1.5M199.2 552.9v1.5M201.2 555.4v1.5M208.9 559.5v1.5M188.0 569.1v1.5M197.4 561.6v1.5M194.9 570.6v1.5M206.8 549.2v1.5M178.6 573.7v1.5M173.7 568.0v1.5M183.0 567.9v1.5M192.3 570.1v1.5M191.1 568.1v1.5M191.5 559.9v1.5M203.3 559.3v1.5M179.5 565.8v1.5M195.7 565.0v1.5M180.5 570.9v1.5M186.0 551.3v1.5M173.3 571.8v1.5M169.0 583.3v1.5M175.1 576.3v1.5M176.3 568.7v1.5M181.0 562.5v1.5M182.1 575.7v1.5M176.8 569.4v1.5M180.5 560.4v1.5M175.2 573.9v1.5M178.8 568.2v1.5M179.7 569.9v1.5M179.1 572.6v1.5M144.2 551.4v1.5M157.8 565.4v1.5M139.4 594.9v1.5M148.0 625.8v1.5M175.0 623.2v1.5M172.9 540.8v1.5M119.9 662.4v1.5M174.1 621.8v1.5M158.4 633.9v1.5M158.6 623.6v1.5M151.1 594.9v1.5M159.2 554.0v1.5M127.2 662.8v1.5M156.3 622.9v1.5M157.8 561.9v1.5M125.1 658.3v1.5M141.4 593.1v1.5M149.8 586.9v1.5M171.2 577.2v1.5M123.0 564.1v1.5M163.3 628.7v1.5M113.3 664.7v1.5M158.4 596.4v1.5M151.3 559.6v1.5M139.6 570.0v1.5M133.4 608.9v1.5M197.1 572.8v1.5M166.5 518.0v1.5M95.3 589.6v1.5M137.0 595.6v1.5M155.5 570.2v1.5M129.3 588.8v1.5M125.5 665.3v1.5M160.9 610.2v1.5M171.1 582.1v1.5M149.5 571.5v1.5M158.5 601.3v1.5M161.9 664.8v1.5M171.3 545.3v1.5M133.7 612.0v1.5M160.6 600.4v1.5M173.5 507.9v1.5M168.8 625.9v1.5M130.8 671.6v1.5M181.2 607.2v1.5M144.8 670.9v1.5M158.7 616.2v1.5M183.8 578.5v1.5M198.7 500.8v1.5M178.0 663.1v1.5M189.1 583.9v1.5M178.8 609.0v1.5M128.0 555.4v1.5M154.3 561.2v1.5M172.1 510.2v1.5M168.6 574.8v1.5M162.0 628.6v1.5M163.2 561.5v1.5M144.4 666.0v1.5M175.4 602.1v1.5M124.3 564.2v1.5M120.4 571.8v1.5M150.1 650.4v1.5M178.1 550.9v1.5M108.3 633.1v1.5M129.8 627.1v1.5M117.6 652.3v1.5M142.7 631.8v1.5M184.0 647.4v1.5M146.1 571.7v1.5M151.5 675.2v1.5M142.1 563.3v1.5M105.6 632.3v1.5M160.0 502.6v1.5M210.1 648.2v1.5M173.4 545.0v1.5M150.3 621.1v1.5M184.3 591.1v1.5M172.7 589.7v1.5M150.6 629.2v1.5M178.5 636.1v1.5M147.3 628.5v1.5M145.4 558.7v1.5M139.6 573.6v1.5M146.0 611.7v1.5M118.8 580.6v1.5M146.6 556.8v1.5M167.2 610.1v1.5M162.8 575.7v1.5M163.0 637.6v1.5M149.5 558.4v1.5M180.6 593.7v1.5M142.6 586.9v1.5M190.7 528.1v1.5M132.9 645.5v1.5M172.1 548.0v1.5M151.8 575.1v1.5M158.4 577.5v1.5M147.5 640.0v1.5M106.2 636.6v1.5M163.1 634.7v1.5M111.3 550.7v1.5M132.3 553.4v1.5M117.0 570.3v1.5M112.5 591.1v1.5M131.4 602.7v1.5M169.7 577.5v1.5M206.4 541.7v1.5M133.3 608.9v1.5M97.4 639.6v1.5M151.2 592.6v1.5M147.1 626.2v1.5M132.7 627.4v1.5M195.5 551.5v1.5M188.6 537.9v1.5M141.6 597.8v1.5M167.9 512.1v1.5M142.1 566.2v1.5M165.7 644.3v1.5M116.7 595.4v1.5M127.6 660.2v1.5M129.3 646.3v1.5M172.8 583.2v1.5M183.9 590.7v1.5M121.5 575.1v1.5M169.7 572.0v1.5M145.8 584.2v1.5M131.7 590.5v1.5M149.1 524.8v1.5M172.3 559.9v1.5M131.1 566.0v1.5M186.8 585.2v1.5M178.6 520.4v1.5M181.5 516.2v1.5M150.7 543.3v1.5M137.0 579.9v1.5M190.7 610.3v1.5M135.7 608.1v1.5M127.0 638.4v1.5M153.5 601.6v1.5M135.5 580.9v1.5M144.2 644.5v1.5M195.8 623.2v1.5M142.7 574.8v1.5M176.7 536.1v1.5M136.3 586.3v1.5M177.7 567.9v1.5M134.0 638.5v1.5M168.4 607.1v1.5M137.7 589.7v1.5M171.2 668.1v1.5M141.2 604.2v1.5M101.9 617.6v1.5M142.4 533.2v1.5M191.9 575.8v1.5M63.6 685.1v1.5M231.6 588.9v1.5M215.5 634.8v1.5M215.5 551.3v1.5M179.8 504.2v1.5M201.2 634.8v1.5" stroke="#fb36fb" stroke-width="3.0" stroke-linecap="round" fill="none"/>
<path d="M164.8 636.4v1.8M148.9 597.6v1.8M174.9 612.1v1.8M155.7 590.4v1.8M162.3 577.0v1.8M163.8 573.4v1.8M170.6 638.5v1.8M151.2 610.6v1.8M162.8 604.8v1.8M162.9 637.9v1.8M148.5 594.3v1.8M155.3 623.8v1.8M135.0 635.5v1.8M158.3 649.3v1.8M132.3 579.0v1.8M156.1 624.1v1.8M141.9 608.2v1.8M162.2 585.6v1.8M171.8 571.4v1.8M160.8 629.7v1.8M148.5 636.3v1.8M158.5 632.8v1.8M150.9 607.3v1.8M145.8 602.5v1.8M152.1 599.7v1.8M153.2 601.7v1.8M160.8 633.6v1.8M125.6 618.2v1.8M131.4 577.0v1.8M163.8 596.4v1.8M156.3 634.3v1.8M153.6 624.1v1.8M153.8 611.2v1.8M133.1 597.4v1.8M142.9 601.5v1.8M163.9 596.2v1.8M175.5 621.7v1.8M158.9 627.3v1.8M142.5 647.6v1.8M154.3 614.6v1.8M173.4 588.3v1.8M145.3 621.6v1.8M154.9 640.8v1.8M166.3 627.2v1.8M131.6 610.6v1.8M142.6 634.4v1.8M158.6 597.9v1.8M153.6 597.9v1.8M137.2 642.1v1.8M158.1 591.5v1.8M149.8 621.7v1.8M167.7 583.5v1.8M154.1 611.7v1.8M154.8 593.3v1.8M144.4 623.3v1.8M155.8 597.0v1.8M161.1 633.4v1.8M155.7 605.1v1.8M171.9 619.7v1.8M168.7 571.2v1.8M170.8 620.2v1.8M163.2 619.7v1.8M150.3 631.0v1.8M145.6 645.3v1.8M152.9 656.3v1.8M143.8 617.6v1.8M167.1 625.7v1.8M143.5 611.3v1.8M155.6 645.7v1.8M133.7 643.6v1.8M144.3 609.9v1.8M154.1 583.9v1.8M166.1 617.5v1.8M166.7 594.7v1.8M156.0 592.1v1.8M156.8 598.2v1.8M154.7 636.1v1.8M159.8 634.2v1.8M166.9 647.3v1.8M149.6 622.4v1.8M150.9 628.5v1.8M148.7 586.7v1.8M160.9 610.7v1.8M170.6 612.4v1.8M154.5 612.0v1.8M149.0 577.5v1.8M143.8 610.7v1.8M170.6 608.3v1.8M159.8 601.4v1.8M147.1 599.3v1.8M171.8 597.9v1.8M168.4 613.5v1.8M140.5 622.2v1.8M152.1 590.2v1.8M157.7 606.8v1.8M145.8 596.0v1.8M156.7 598.7v1.8M147.9 573.9v1.8M169.4 630.2v1.8M158.0 637.6v1.8M155.6 596.8v1.8M162.4 608.8v1.8M146.4 617.0v1.8M162.3 620.0v1.8M160.4 623.6v1.8M152.3 618.3v1.8M153.2 625.4v1.8M145.9 610.0v1.8M149.7 591.2v1.8M157.3 624.0v1.8M149.5 618.4v1.8M150.1 614.0v1.8M145.1 608.1v1.8M172.5 585.2v1.8M143.2 625.5v1.8M138.5 630.7v1.8M154.1 623.0v1.8M147.3 668.0v1.8M152.1 624.0v1.8M152.7 608.2v1.8M169.1 598.0v1.8M160.1 620.0v1.8M140.2 627.7v1.8M166.1 595.1v1.8M143.8 616.3v1.8M155.5 637.5v1.8M145.9 626.9v1.8M139.7 593.4v1.8M156.5 630.9v1.8M152.0 652.3v1.8M137.2 598.0v1.8M156.0 582.0v1.8M164.5 611.7v1.8M171.6 577.7v1.8M150.0 592.1v1.8M166.6 629.0v1.8M150.4 627.8v1.8M161.6 634.2v1.8M151.8 596.3v1.8M144.3 576.4v1.8M157.3 613.6v1.8M139.2 634.4v1.8M132.4 586.2v1.8M160.4 606.6v1.8M157.7 631.1v1.8M155.4 627.1v1.8M148.8 666.2v1.8M134.3 672.6v1.8M151.9 621.9v1.8M152.4 612.4v1.8M140.6 610.8v1.8M180.0 654.1v1.8M155.3 627.1v1.8M173.5 619.7v1.8M164.3 643.9v1.8M169.1 622.3v1.8M151.0 606.7v1.8M142.6 614.0v1.8M151.1 609.8v1.8M143.4 638.1v1.8M163.8 637.6v1.8M174.5 616.6v1.8M162.6 640.7v1.8M167.6 623.3v1.8M179.6 608.9v1.8M169.9 626.6v1.8M177.9 653.9v1.8M179.7 604.4v1.8M175.8 633.4v1.8M151.3 635.5v1.8M160.3 609.6v1.8M174.7 609.9v1.8M144.3 605.7v1.8M157.9 607.7v1.8M155.8 629.3v1.8M152.1 619.2v1.8M158.1 555.6v1.8M153.2 617.9v1.8M138.4 594.0v1.8M149.9 635.6v1.8M164.7 612.9v1.8M163.0 614.4v1.8M143.5 634.8v1.8M163.9 604.1v1.8M144.0 591.6v1.8M149.4 613.0v1.8M145.0 606.5v1.8M152.1 629.1v1.8M170.8 642.4v1.8M149.8 630.3v1.8M151.8 578.7v1.8M202.9 565.1v1.8M192.0 565.1v1.8M208.5 558.8v1.8M194.3 559.9v1.8M179.0 565.7v1.8M180.4 562.0v1.8M201.0 559.9v1.8M187.4 568.4v1.8M178.9 574.3v1.8M200.7 562.2v1.8M194.5 565.2v1.8M192.2 566.0v1.8M201.4 560.1v1.8M198.0 569.0v1.8M189.4 562.1v1.8M183.0 564.0v1.8M184.1 567.1v1.8M198.6 558.1v1.8M185.0 567.4v1.8M190.6 564.6v1.8M196.1 562.7v1.8M196.1 564.7v1.8M198.5 562.2v1.8M206.1 558.1v1.8M191.9 572.6v1.8M200.9 558.3v1.8M207.5 559.8v1.8M193.0 562.4v1.8M200.7 563.8v1.8M183.5 569.8v1.8M183.5 569.6v1.8M184.7 570.2v1.8M195.3 563.6v1.8M195.0 567.1v1.8M177.7 564.5v1.8M197.7 559.7v1.8M193.0 560.9v1.8M179.6 576.7v1.8M191.7 568.7v1.8M206.8 557.0v1.8M206.1 564.2v1.8M208.0 555.8v1.8M187.0 576.6v1.8M195.8 564.0v1.8M188.0 563.5v1.8M186.0 569.3v1.8M196.4 565.0v1.8M195.8 569.8v1.8M190.3 556.6v1.8M173.0 576.1v1.8M177.7 565.2v1.8M185.0 562.1v1.8M172.0 582.3v1.8M169.3 578.3v1.8M177.0 572.8v1.8M184.7 555.4v1.8M182.9 562.9v1.8M182.1 571.8v1.8M172.3 585.5v1.8M178.1 561.2v1.8M178.5 571.9v1.8M175.8 566.8v1.8M173.0 575.2v1.8M142.5 610.5v1.8M138.6 536.9v1.8M164.4 583.9v1.8M98.6 628.3v1.8M142.3 514.6v1.8M135.7 590.0v1.8M150.5 615.1v1.8M174.6 646.6v1.8M163.4 532.1v1.8M149.9 585.0v1.8M144.3 634.6v1.8M168.6 519.1v1.8M130.4 645.8v1.8M201.5 612.3v1.8M138.1 558.6v1.8M115.8 662.0v1.8M129.8 653.1v1.8M194.8 560.3v1.8M162.8 631.9v1.8M174.2 618.5v1.8M109.4 584.1v1.8M149.7 541.0v1.8M129.0 659.5v1.8M176.4 571.2v1.8M184.9 539.5v1.8M207.5 552.0v1.8M162.6 580.5v1.8M168.7 590.0v1.8M184.0 606.9v1.8M122.7 599.2v1.8M181.5 636.0v1.8M170.1 569.8v1.8M172.6 574.6v1.8M152.3 633.2v1.8M141.8 619.1v1.8M163.6 595.1v1.8M191.9 541.8v1.8M125.5 646.4v1.8M198.8 566.5v1.8M125.4 680.5v1.8M150.1 501.5v1.8M136.7 582.1v1.8M133.1 608.4v1.8M132.7 600.9v1.8M193.1 535.4v1.8M126.5 638.4v1.8M126.6 660.3v1.8M136.0 621.5v1.8M162.8 568.6v1.8M162.6 570.2v1.8M172.4 539.4v1.8M150.0 594.0v1.8M172.3 615.1v1.8M125.9 590.4v1.8M128.8 673.5v1.8M142.1 612.0v1.8M165.8 540.4v1.8M149.3 598.5v1.8M132.2 584.7v1.8M181.4 553.3v1.8M186.0 599.2v1.8M145.8 593.6v1.8M160.0 587.5v1.8M153.9 591.4v1.8M119.7 554.5v1.8M142.2 604.3v1.8M107.3 649.7v1.8M150.2 559.2v1.8M177.6 559.7v1.8M136.4 562.9v1.8M141.9 619.3v1.8M162.5 586.4v1.8M156.8 528.0v1.8M125.6 608.5v1.8M140.4 573.5v1.8M148.1 663.1v1.8M139.5 530.7v1.8M160.9 568.9v1.8M156.0 663.2v1.8M147.9 678.3v1.8M167.3 588.4v1.8M141.0 594.8v1.8M147.3 600.9v1.8M183.7 625.7v1.8M152.2 579.2v1.8M142.7 652.4v1.8M156.5 581.6v1.8M168.6 593.9v1.8M166.2 568.5v1.8M193.9 631.9v1.8M141.8 631.9v1.8M154.4 618.6v1.8M161.1 682.6v1.8M127.0 601.9v1.8M136.6 665.2v1.8M170.2 589.0v1.8M132.4 612.1v1.8M126.5 609.4v1.8M144.0 623.0v1.8M125.1 601.8v1.8M169.3 575.3v1.8M123.2 611.2v1.8M164.9 594.8v1.8M165.8 559.2v1.8M128.5 555.5v1.8M209.4 508.5v1.8M186.2 573.8v1.8M146.1 567.4v1.8M138.4 533.3v1.8M161.7 569.4v1.8M142.1 564.2v1.8M133.6 601.3v1.8M161.6 631.4v1.8M150.1 649.1v1.8M154.9 567.8v1.8M144.1 622.0v1.8M114.1 647.2v1.8M182.2 542.5v1.8M150.1 607.3v1.8M133.3 612.4v1.8M116.2 593.7v1.8M130.2 625.6v1.8M175.4 526.9v1.8M136.7 572.8v1.8M133.5 597.9v1.8M140.1 573.9v1.8M147.7 674.0v1.8M166.2 546.5v1.8M130.8 649.8v1.8M157.9 613.3v1.8M130.7 608.9v1.8M178.4 581.5v1.8M121.9 618.1v1.8M143.9 670.5v1.8M127.9 579.5v1.8M160.1 572.6v1.8M121.2 550.5v1.8M142.5 643.8v1.8M142.5 592.7v1.8M161.6 558.7v1.8M181.1 526.5v1.8M154.6 665.3v1.8M145.7 563.7v1.8M156.5 569.0v1.8M183.4 583.5v1.8M174.4 593.6v1.8M103.7 645.0v1.8M119.1 592.3v1.8M150.8 619.3v1.8M150.3 617.4v1.8M153.6 604.6v1.8M157.1 631.5v1.8M220.9 623.8v1.8M209.5 544.8v1.8M213.0 548.0v1.8" stroke="#fb36fb" stroke-width="3.5" stroke-linecap="round" fill="none"/>
<rect x="32.7" y="504.1" width="79.7" height="47.4" fill="#f3e4d4" rx="7"/>
<line x1="44.1" y1="529.0" x2="50.4" y2="525.5" stroke="#222" stroke-width="0.7" />
<line x1="55.6" y1="525.6" x2="60.9" y2="528.9" stroke="#222" stroke-width="0.7" />
<line x1="66.1" y1="529.0" x2="72.4" y2="525.5" stroke="#222" stroke-width="0.7" />
<line x1="77.6" y1="525.6" x2="82.9" y2="528.9" stroke="#222" stroke-width="0.7" />
<line x1="88.1" y1="528.9" x2="93.4" y2="525.6" stroke="#222" stroke-width="0.7" />
<line x1="98.5" y1="525.6" x2="103.5" y2="528.9" stroke="#222" stroke-width="0.7" />
<text x="41.5" y="532.7" font-size="6.0" fill="#222" text-anchor="middle">H₂N</text>
<text x="53.0" y="526.2" font-size="6.0" fill="#222" text-anchor="middle">C</text>
<text x="63.5" y="532.7" font-size="6.0" fill="#222" text-anchor="middle">C</text>
<text x="75.0" y="526.2" font-size="6.0" fill="#222" text-anchor="middle">N</text>
<text x="85.5" y="532.7" font-size="6.0" fill="#222" text-anchor="middle">C</text>
<text x="96.0" y="526.2" font-size="6.0" fill="#222" text-anchor="middle">C</text>
<text x="106.0" y="532.7" font-size="6.0" fill="#222" text-anchor="middle">OH</text>
<text x="53.0" y="530.2" font-size="4.8" fill="#222" text-anchor="middle">H</text>
<line x1="53.6" y1="521.5" x2="55.4" y2="514.0" stroke="#222" stroke-width="0.7" />
<text x="56.5" y="513.2" font-size="6.0" fill="#222" text-anchor="middle">CH₃</text>
<line x1="64.5" y1="533.1" x2="64.5" y2="540.4" stroke="#222" stroke-width="0.6" /><line x1="62.5" y1="533.1" x2="62.5" y2="540.4" stroke="#222" stroke-width="0.6" />
<text x="63.5" y="545.2" font-size="6.0" fill="#222" text-anchor="middle">O</text>
<text x="75.0" y="521.2" font-size="4.8" fill="#222" text-anchor="middle">H</text>
<text x="85.5" y="527.7" font-size="4.8" fill="#222" text-anchor="middle">H</text>
<path d="M85.7,533.0 L85.1,541.3 L87.5,541.1 Z" fill="#222"/>
<text x="87.5" y="547.2" font-size="6.0" fill="#222" text-anchor="middle">CH₃</text>
<line x1="95.0" y1="521.4" x2="95.0" y2="514.1" stroke="#222" stroke-width="0.6" /><line x1="97.0" y1="521.4" x2="97.0" y2="514.1" stroke="#222" stroke-width="0.6" />
<text x="96.0" y="513.2" font-size="6.0" fill="#222" text-anchor="middle">O</text>
<line x1="257.2" y1="492.2" x2="257.2" y2="701.6" stroke="#777" stroke-width="1.0" />
<line x1="46.6" y1="701.6" x2="257.7" y2="701.6" stroke="#777" stroke-width="1.0" />
<line x1="257.2" y1="516.4" x2="261.2" y2="516.4" stroke="#777" stroke-width="1.0" />
<line x1="257.2" y1="548.2" x2="261.2" y2="548.2" stroke="#777" stroke-width="1.0" />
<line x1="257.2" y1="580.1" x2="261.2" y2="580.1" stroke="#777" stroke-width="1.0" />
<text x="261.7" y="585.3" font-size="14.5" fill="#111">115</text>
<line x1="257.2" y1="612.0" x2="261.2" y2="612.0" stroke="#777" stroke-width="1.0" />
<text x="261.7" y="617.2" font-size="14.5" fill="#111">120</text>
<line x1="257.2" y1="643.8" x2="261.2" y2="643.8" stroke="#777" stroke-width="1.0" />
<text x="261.7" y="649.0" font-size="14.5" fill="#111">125</text>
<line x1="257.2" y1="675.6" x2="261.2" y2="675.6" stroke="#777" stroke-width="1.0" />
<text x="261.7" y="680.9" font-size="14.5" fill="#111">130</text>
<line x1="56.5" y1="701.6" x2="56.5" y2="705.1" stroke="#777" stroke-width="1.0" />
<text x="58.3" y="718.5" font-size="14.5" fill="#111" text-anchor="middle">11</text>
<line x1="92.2" y1="701.6" x2="92.2" y2="705.1" stroke="#777" stroke-width="1.0" />
<text x="94.0" y="718.5" font-size="14.5" fill="#111" text-anchor="middle">10</text>
<line x1="128.0" y1="701.6" x2="128.0" y2="705.1" stroke="#777" stroke-width="1.0" />
<text x="129.8" y="718.5" font-size="14.5" fill="#111" text-anchor="middle">9</text>
<line x1="163.7" y1="701.6" x2="163.7" y2="705.1" stroke="#777" stroke-width="1.0" />
<text x="165.5" y="718.5" font-size="14.5" fill="#111" text-anchor="middle">8</text>
<line x1="199.5" y1="701.6" x2="199.5" y2="705.1" stroke="#777" stroke-width="1.0" />
<text x="201.3" y="718.5" font-size="14.5" fill="#111" text-anchor="middle">7</text>
<line x1="235.2" y1="701.6" x2="235.2" y2="705.1" stroke="#777" stroke-width="1.0" />
<text x="210" y="718.5" font-size="15.2" fill="#111"><tspan font-size="9.8" dy="-5">1</tspan><tspan dy="5">H(ppm)</tspan></text>
<text x="277.5" y="515" font-size="14.5" fill="#111" text-anchor="middle" transform="rotate(-90 277.5 515)"><tspan font-size="9.5" dy="-5">15</tspan><tspan dy="5">N(ppm)</tspan></text>
<rect x="188.4" y="670.5" width="10.6" height="11.0" fill="#000"/>
<rect x="188.4" y="684.5" width="10.6" height="10.5" fill="#fb36fb"/>
<text x="203.2" y="682.3" font-size="15" fill="#111">1:00</text>
<text x="203.2" y="696.3" font-size="15" fill="#111">1:1000</text>
<text x="9.8" y="749.6" font-size="25" fill="#111">i</text>
<text x="35.5" y="744" font-size="15"><tspan fill="#4a72c2">PBP5</tspan><tspan fill="#111">:PenG:SP1</tspan></text>
<path d="M156.6 889.9v1.2M174.0 842.5v1.2M159.5 846.5v1.2M158.3 880.9v1.2M170.7 898.8v1.2M162.5 861.8v1.2M137.4 827.3v1.2M139.7 835.7v1.2M158.7 860.8v1.2M155.9 883.4v1.2M138.2 893.8v1.2M158.3 909.2v1.2M163.6 869.1v1.2M163.9 922.0v1.2M170.5 880.6v1.2M168.2 851.5v1.2M146.4 864.4v1.2M156.5 875.3v1.2M168.0 889.8v1.2M139.4 877.4v1.2M164.4 859.3v1.2M165.2 897.0v1.2M160.4 890.4v1.2M151.0 894.4v1.2M159.9 864.2v1.2M163.7 870.8v1.2M150.7 838.5v1.2M156.2 858.5v1.2M164.4 891.6v1.2M158.9 837.2v1.2M157.0 893.0v1.2M149.9 889.3v1.2M139.5 859.7v1.2M155.7 871.2v1.2M146.7 879.7v1.2M145.2 889.8v1.2M161.8 890.9v1.2M144.6 894.2v1.2M162.3 854.0v1.2M151.7 880.2v1.2M156.5 856.4v1.2M175.8 875.2v1.2M165.3 880.0v1.2M170.2 836.6v1.2M158.6 848.4v1.2M156.4 867.6v1.2M136.3 880.2v1.2M158.9 849.1v1.2M158.2 828.8v1.2M163.5 893.4v1.2M158.6 861.1v1.2M174.0 888.3v1.2M158.8 889.3v1.2M176.1 896.3v1.2M167.3 866.4v1.2M132.4 924.6v1.2M171.9 879.6v1.2M178.5 884.1v1.2M174.1 877.5v1.2M150.0 907.3v1.2M142.5 842.9v1.2M158.0 865.3v1.2M160.0 895.4v1.2M173.3 859.3v1.2M147.7 867.8v1.2M163.2 873.4v1.2M156.0 905.9v1.2M138.4 903.3v1.2M157.1 840.9v1.2M161.1 906.9v1.2M157.1 911.1v1.2M139.5 867.9v1.2M161.4 871.2v1.2M158.6 867.3v1.2M158.4 888.7v1.2M156.0 848.4v1.2M158.4 856.8v1.2M155.8 895.5v1.2M163.8 873.2v1.2M161.5 892.0v1.2M175.6 864.1v1.2M151.1 886.3v1.2M152.2 880.2v1.2M154.6 841.9v1.2M161.5 885.1v1.2M173.0 867.6v1.2M182.8 834.3v1.2M151.3 854.9v1.2M169.2 872.5v1.2M144.7 879.0v1.2M153.8 869.7v1.2M183.8 862.1v1.2M148.4 852.8v1.2M151.8 830.3v1.2M149.8 879.8v1.2M163.0 850.5v1.2M169.8 887.3v1.2M161.6 899.0v1.2M142.7 917.3v1.2M160.4 854.7v1.2M164.0 894.6v1.2M149.3 877.7v1.2M157.8 862.6v1.2M153.8 888.1v1.2M164.4 883.7v1.2M150.3 896.1v1.2M153.3 878.6v1.2M155.7 885.4v1.2M161.1 860.6v1.2M152.3 848.8v1.2M141.5 884.6v1.2M148.7 886.9v1.2M146.7 867.4v1.2M157.0 887.2v1.2M160.1 854.1v1.2M141.3 889.8v1.2M144.6 901.1v1.2M151.6 930.8v1.2M175.6 891.8v1.2M152.5 881.5v1.2M149.5 913.9v1.2M157.5 868.4v1.2M168.3 853.2v1.2M153.2 886.5v1.2M132.9 861.0v1.2M160.3 923.6v1.2M172.1 870.0v1.2M159.2 899.2v1.2M150.3 884.3v1.2M142.1 904.5v1.2M159.4 895.3v1.2M168.5 905.9v1.2M154.9 872.9v1.2M156.9 850.5v1.2M164.6 881.7v1.2M142.3 881.8v1.2M147.9 885.7v1.2M155.2 912.1v1.2M165.3 882.1v1.2M142.8 881.5v1.2M170.6 852.7v1.2M179.9 874.0v1.2M153.5 877.2v1.2M148.7 861.3v1.2M173.0 835.7v1.2M163.1 893.4v1.2M174.0 897.6v1.2M147.9 834.7v1.2M159.7 869.9v1.2M166.5 831.6v1.2M139.6 892.7v1.2M132.7 860.2v1.2M158.8 894.5v1.2M152.5 934.8v1.2M161.1 873.5v1.2M159.4 884.7v1.2M151.6 883.0v1.2M170.1 911.8v1.2M147.8 882.5v1.2M167.9 905.2v1.2M155.2 864.4v1.2M153.7 865.1v1.2M152.5 888.8v1.2M144.9 873.3v1.2M152.0 814.7v1.2M164.7 852.9v1.2M158.5 865.0v1.2M145.1 898.9v1.2M165.2 897.7v1.2M131.1 870.3v1.2M177.4 875.9v1.2M143.7 872.5v1.2M161.6 858.3v1.2M161.6 867.8v1.2M153.9 895.8v1.2M162.7 868.6v1.2M156.9 879.2v1.2M184.5 862.0v1.2M150.7 849.8v1.2M157.7 875.5v1.2M171.8 851.9v1.2M140.4 872.5v1.2M154.4 877.9v1.2M167.2 879.2v1.2M139.3 853.4v1.2M127.9 883.4v1.2M171.3 871.6v1.2M147.2 882.3v1.2M178.0 884.2v1.2M163.6 873.1v1.2M160.0 919.2v1.2M163.6 860.5v1.2M146.9 847.5v1.2M155.7 883.5v1.2M167.3 881.1v1.2M147.7 913.2v1.2M147.0 863.9v1.2M171.5 903.3v1.2M152.1 899.1v1.2M160.1 860.3v1.2M166.1 851.2v1.2M145.5 907.2v1.2M166.7 892.7v1.2M169.7 856.5v1.2M155.7 837.0v1.2M209.4 809.7v1.2M202.5 822.0v1.2M207.2 814.0v1.2M195.4 814.9v1.2M182.0 823.9v1.2M188.0 817.4v1.2M201.4 815.1v1.2M204.0 815.7v1.2M199.1 820.3v1.2M175.9 829.2v1.2M188.8 822.5v1.2M207.3 811.7v1.2M178.7 832.3v1.2M196.9 819.2v1.2M205.9 816.3v1.2M208.6 805.4v1.2M200.8 824.3v1.2M207.7 814.8v1.2M191.2 819.1v1.2M196.6 816.8v1.2M186.3 818.2v1.2M204.3 805.0v1.2M186.2 822.0v1.2M198.0 813.8v1.2M195.4 814.2v1.2M183.3 829.4v1.2M190.2 818.5v1.2M188.3 827.3v1.2M193.5 822.8v1.2M180.6 831.9v1.2M197.6 827.2v1.2M177.2 824.0v1.2M176.5 825.1v1.2M177.5 819.6v1.2M190.2 821.7v1.2M177.6 828.7v1.2M207.4 812.4v1.2M205.9 814.7v1.2M171.7 829.5v1.2M213.1 813.6v1.2M202.5 820.2v1.2M196.4 812.9v1.2M184.3 826.3v1.2M186.3 827.0v1.2M186.8 823.4v1.2M197.8 819.6v1.2M178.5 819.0v1.2M199.4 814.3v1.2M192.8 817.4v1.2M203.2 812.9v1.2M205.4 813.4v1.2M210.7 814.1v1.2M190.9 824.6v1.2M197.9 815.6v1.2M207.6 804.8v1.2M177.9 831.2v1.2M189.3 833.0v1.2M194.1 824.7v1.2M179.0 822.0v1.2M195.5 822.4v1.2M180.9 826.0v1.2M173.8 833.6v1.2M180.1 821.1v1.2M187.2 807.4v1.2M172.9 829.9v1.2M181.3 817.0v1.2M184.3 830.2v1.2M176.6 833.3v1.2M182.9 815.3v1.2M180.1 830.1v1.2M177.8 829.5v1.2M182.0 824.9v1.2M175.4 840.8v1.2M178.7 822.7v1.2M173.2 830.0v1.2M147.3 808.6v1.2M143.3 851.3v1.2M165.7 839.0v1.2M103.4 886.6v1.2M153.3 874.4v1.2M177.3 907.5v1.2M160.4 881.5v1.2M168.0 832.4v1.2M133.2 907.3v1.2M141.1 816.2v1.2M196.3 815.6v1.2M137.4 814.3v1.2M114.9 840.5v1.2M128.6 917.9v1.2M153.8 796.4v1.2M188.2 795.8v1.2M154.1 845.8v1.2M112.3 891.4v1.2M127.5 855.0v1.2M173.8 825.9v1.2M155.6 815.6v1.2M144.2 826.1v1.2M156.0 830.7v1.2M198.8 829.1v1.2M175.4 832.1v1.2M130.7 930.3v1.2M145.4 879.4v1.2M159.1 825.5v1.2M132.6 806.5v1.2M127.1 928.0v1.2M172.7 838.0v1.2M152.9 829.3v1.2M164.1 853.6v1.2M198.8 823.8v1.2M173.4 798.3v1.2M154.6 858.0v1.2M129.6 842.3v1.2M133.3 804.9v1.2M154.4 753.7v1.2M162.4 842.2v1.2M151.6 790.5v1.2M131.5 897.0v1.2M198.3 755.5v1.2M181.5 868.0v1.2M174.2 873.9v1.2M127.2 846.1v1.2M169.2 829.5v1.2M160.8 856.8v1.2M180.9 767.5v1.2M167.7 793.3v1.2M145.8 925.7v1.2M123.8 878.7v1.2M183.0 810.2v1.2M178.4 808.0v1.2M150.9 822.7v1.2M146.5 889.6v1.2M156.1 894.7v1.2M154.1 813.5v1.2M154.5 872.0v1.2M144.2 817.8v1.2M157.9 876.1v1.2M130.9 940.6v1.2M126.4 893.6v1.2M179.3 813.4v1.2M138.0 819.2v1.2M192.0 796.1v1.2M111.3 890.4v1.2M150.1 924.0v1.2M208.6 908.8v1.2M176.7 860.3v1.2M152.4 881.0v1.2M141.3 830.1v1.2M185.1 846.1v1.2M152.3 889.1v1.2M185.3 884.3v1.2M147.6 813.2v1.2M158.6 840.5v1.2M143.9 893.3v1.2M147.7 871.1v1.2M140.3 875.9v1.2M142.8 891.1v1.2M137.9 925.1v1.2M177.1 823.1v1.2M157.5 842.6v1.2M130.2 860.7v1.2M123.5 884.9v1.2M140.1 927.5v1.2M125.0 796.8v1.2M164.8 875.5v1.2M110.0 910.8v1.2M192.1 782.8v1.2M173.0 829.8v1.2M173.3 803.0v1.2M163.6 824.0v1.2M137.5 817.9v1.2M144.1 822.2v1.2M134.6 857.4v1.2M154.3 833.1v1.2M161.7 891.9v1.2M190.3 817.3v1.2M163.9 892.8v1.2M147.4 879.0v1.2M113.8 806.6v1.2M139.5 836.3v1.2M165.1 857.9v1.2M119.9 851.1v1.2M139.8 829.5v1.2M159.6 891.4v1.2M208.4 796.5v1.2M134.1 867.5v1.2M181.8 805.4v1.2M153.0 848.9v1.2M147.4 882.8v1.2M167.1 804.4v1.2M136.4 887.9v1.2M191.3 791.2v1.2M147.9 934.7v1.2M134.9 833.9v1.2M168.3 800.3v1.2M146.2 799.9v1.2M155.3 876.3v1.2M178.7 754.9v1.2M145.7 819.9v1.2M169.9 774.9v1.2M168.5 905.0v1.2M134.1 907.3v1.2M148.7 815.5v1.2M125.8 832.6v1.2M179.5 838.4v1.2M119.7 853.3v1.2M155.3 800.3v1.2M138.6 852.6v1.2M132.4 821.7v1.2M188.8 841.8v1.2M139.5 866.2v1.2M180.2 772.4v1.2M145.8 811.6v1.2M136.3 874.1v1.2M157.1 859.2v1.2M165.1 855.9v1.2M158.0 837.3v1.2M138.5 875.7v1.2M184.5 840.1v1.2M134.1 898.8v1.2M179.8 825.3v1.2M142.0 846.8v1.2M153.6 878.1v1.2M142.9 786.9v1.2M193.1 833.2v1.2M106.9 922.6v1.2M215.2 893.3v1.2M211.5 801.7v1.2M134.4 748.1v1.2" stroke="#000" stroke-width="3.2" stroke-linecap="round" fill="none"/>
<path d="M168.7 894.8v1.5M159.8 871.8v1.5M132.2 878.9v1.5M141.5 874.9v1.5M151.9 854.1v1.5M148.7 858.7v1.5M163.8 827.8v1.5M180.8 891.6v1.5M151.3 885.2v1.5M168.6 875.3v1.5M180.9 853.3v1.5M172.2 833.7v1.5M161.8 865.1v1.5M149.7 849.8v1.5M160.8 880.4v1.5M155.7 869.0v1.5M161.7 869.8v1.5M133.4 835.7v1.5M197.4 872.3v1.5M152.8 894.9v1.5M131.9 886.2v1.5M150.4 865.1v1.5M144.1 871.2v1.5M158.7 867.9v1.5M165.5 842.2v1.5M154.7 872.5v1.5M173.6 860.9v1.5M157.0 862.6v1.5M151.5 857.2v1.5M166.1 899.8v1.5M147.5 860.5v1.5M155.9 887.5v1.5M154.0 891.9v1.5M151.1 888.8v1.5M155.0 858.5v1.5M150.1 867.8v1.5M129.9 877.9v1.5M132.8 833.2v1.5M164.9 865.0v1.5M156.5 870.5v1.5M136.0 852.9v1.5M164.7 864.6v1.5M154.0 914.2v1.5M178.4 880.1v1.5M159.2 888.0v1.5M166.4 885.0v1.5M151.7 882.0v1.5M134.1 870.0v1.5M169.0 864.7v1.5M152.5 891.1v1.5M166.7 897.1v1.5M154.3 848.4v1.5M170.3 889.2v1.5M178.8 892.8v1.5M145.7 868.3v1.5M150.8 874.3v1.5M152.2 879.0v1.5M140.2 902.1v1.5M169.6 841.7v1.5M158.5 864.1v1.5M153.7 887.1v1.5M163.0 890.2v1.5M142.8 887.0v1.5M165.2 843.8v1.5M174.4 878.9v1.5M139.8 893.4v1.5M146.7 861.9v1.5M151.8 890.0v1.5M148.5 902.3v1.5M170.2 826.8v1.5M154.1 881.5v1.5M169.3 876.3v1.5M149.7 892.9v1.5M152.7 852.3v1.5M151.1 857.6v1.5M162.2 823.8v1.5M165.2 876.7v1.5M153.9 906.4v1.5M152.1 890.4v1.5M154.1 871.0v1.5M169.8 877.9v1.5M163.8 845.6v1.5M171.0 858.5v1.5M166.6 858.5v1.5M153.6 872.2v1.5M166.5 909.1v1.5M154.1 885.7v1.5M171.2 893.6v1.5M150.2 845.0v1.5M162.6 866.7v1.5M153.1 833.7v1.5M163.2 861.2v1.5M175.0 854.4v1.5M136.1 876.8v1.5M183.6 852.3v1.5M151.6 857.1v1.5M157.3 852.2v1.5M164.6 865.7v1.5M150.7 878.4v1.5M157.3 866.9v1.5M164.4 887.3v1.5M125.1 885.7v1.5M163.7 863.3v1.5M151.9 879.1v1.5M156.0 850.8v1.5M148.8 868.3v1.5M156.3 874.7v1.5M150.4 877.3v1.5M149.1 865.5v1.5M145.0 872.0v1.5M153.0 830.4v1.5M152.8 872.0v1.5M159.1 902.3v1.5M150.1 874.0v1.5M160.4 913.4v1.5M152.7 870.2v1.5M163.9 881.5v1.5M162.1 846.3v1.5M162.5 877.3v1.5M175.5 882.4v1.5M159.1 867.9v1.5M153.3 914.3v1.5M172.4 840.4v1.5M150.4 858.8v1.5M144.4 854.2v1.5M161.9 892.8v1.5M151.6 900.4v1.5M128.0 883.1v1.5M143.9 886.5v1.5M149.0 851.9v1.5M152.3 864.2v1.5M140.9 885.5v1.5M168.5 868.2v1.5M145.3 866.9v1.5M132.1 873.8v1.5M136.5 884.5v1.5M157.2 858.4v1.5M168.1 822.1v1.5M132.8 869.6v1.5M162.9 885.2v1.5M172.4 871.0v1.5M159.5 895.8v1.5M141.7 851.5v1.5M147.3 895.9v1.5M162.8 871.4v1.5M137.8 870.9v1.5M155.2 872.8v1.5M157.0 880.3v1.5M159.3 837.9v1.5M168.0 867.8v1.5M169.2 886.0v1.5M150.7 886.0v1.5M177.2 814.3v1.5M168.1 869.8v1.5M159.1 896.2v1.5M168.3 876.5v1.5M135.7 843.0v1.5M163.2 866.2v1.5M157.7 892.4v1.5M157.2 884.9v1.5M147.5 881.4v1.5M174.5 870.0v1.5M156.5 872.7v1.5M137.2 911.0v1.5M138.7 931.6v1.5M165.5 847.0v1.5M154.2 881.8v1.5M155.2 869.9v1.5M144.7 869.0v1.5M180.6 914.3v1.5M119.6 851.0v1.5M146.3 875.2v1.5M170.0 914.2v1.5M175.6 878.1v1.5M157.2 848.6v1.5M169.8 878.9v1.5M181.9 846.2v1.5M135.1 865.5v1.5M153.1 866.5v1.5M132.2 876.9v1.5M143.4 844.1v1.5M162.8 928.5v1.5M158.1 886.2v1.5M165.2 901.4v1.5M169.0 884.0v1.5M171.1 883.9v1.5M180.8 916.0v1.5M160.8 885.9v1.5M177.9 894.8v1.5M158.0 899.0v1.5M166.1 884.9v1.5M175.1 842.5v1.5M147.5 841.8v1.5M145.5 861.7v1.5M161.4 864.6v1.5M182.8 884.0v1.5M156.2 887.3v1.5M156.0 862.9v1.5M171.0 875.6v1.5M162.6 878.2v1.5M152.4 894.4v1.5M167.2 871.3v1.5M145.3 894.9v1.5M157.8 828.4v1.5M148.5 910.8v1.5M144.2 880.8v1.5M163.5 888.4v1.5M150.0 887.4v1.5M158.0 908.5v1.5M158.0 884.8v1.5M166.5 868.6v1.5M162.4 876.6v1.5M209.3 808.6v1.5M202.6 812.9v1.5M181.2 817.7v1.5M181.9 827.2v1.5M184.7 824.7v1.5M200.2 817.0v1.5M201.6 821.2v1.5M211.5 816.6v1.5M204.2 813.4v1.5M180.6 824.1v1.5M203.5 814.9v1.5M198.6 816.3v1.5M197.6 819.8v1.5M199.4 819.2v1.5M208.8 812.6v1.5M205.7 815.7v1.5M192.2 830.7v1.5M186.4 819.4v1.5M200.6 815.2v1.5M193.6 820.1v1.5M200.2 821.0v1.5M190.3 828.5v1.5M185.7 824.2v1.5M184.6 826.2v1.5M206.5 810.9v1.5M191.6 826.5v1.5M207.0 813.8v1.5M206.8 818.9v1.5M197.6 826.6v1.5M176.0 825.8v1.5M184.5 822.7v1.5M182.2 822.0v1.5M191.7 823.6v1.5M197.3 817.9v1.5M188.5 823.3v1.5M192.2 824.7v1.5M192.8 815.3v1.5M182.2 828.3v1.5M205.0 813.3v1.5M169.0 840.1v1.5M186.6 816.9v1.5M182.8 815.0v1.5M169.8 834.4v1.5M187.5 828.0v1.5M182.1 827.4v1.5M174.9 837.7v1.5M179.6 826.9v1.5M179.1 842.7v1.5M178.4 826.1v1.5M159.1 839.0v1.5M158.1 822.9v1.5M140.4 847.8v1.5M122.2 920.9v1.5M163.5 786.5v1.5M154.2 842.3v1.5M147.0 894.0v1.5M161.6 894.7v1.5M171.7 771.0v1.5M151.8 854.2v1.5M135.8 787.9v1.5M119.3 923.4v1.5M163.1 810.9v1.5M131.8 914.1v1.5M130.0 922.2v1.5M165.4 889.1v1.5M172.9 849.8v1.5M160.1 816.3v1.5M130.0 918.8v1.5M176.3 845.1v1.5M160.0 792.2v1.5M166.3 888.9v1.5M163.4 779.0v1.5M160.3 854.8v1.5M182.8 897.1v1.5M166.4 773.5v1.5M153.1 893.5v1.5M131.6 844.5v1.5M162.2 867.4v1.5M164.5 924.1v1.5M137.9 914.0v1.5M107.4 885.5v1.5M192.0 797.4v1.5M127.9 905.1v1.5M141.6 854.2v1.5M163.7 766.2v1.5M142.5 788.0v1.5M164.0 858.2v1.5M116.0 909.0v1.5M135.7 871.4v1.5M174.3 888.5v1.5M103.8 905.8v1.5M135.1 933.9v1.5M107.6 910.9v1.5M136.0 864.6v1.5M137.6 857.5v1.5M195.3 789.6v1.5M129.3 922.9v1.5M153.4 905.9v1.5M164.1 826.2v1.5M204.7 784.8v1.5M191.6 838.5v1.5M182.0 846.8v1.5M152.3 831.4v1.5M154.4 853.5v1.5M165.8 901.6v1.5M176.2 829.5v1.5M132.6 933.4v1.5M163.6 885.7v1.5M149.0 863.6v1.5M129.3 819.7v1.5M153.0 853.9v1.5M135.5 841.8v1.5M140.5 869.7v1.5M161.1 825.5v1.5M164.3 900.4v1.5M160.9 903.9v1.5M123.7 826.9v1.5M151.0 910.2v1.5M129.4 917.2v1.5M109.7 890.3v1.5M161.9 842.3v1.5M130.9 885.1v1.5M122.3 911.1v1.5M146.1 863.5v1.5M184.4 906.0v1.5M125.3 925.9v1.5M144.2 876.4v1.5M173.1 797.6v1.5M153.4 874.2v1.5M135.8 895.6v1.5M148.0 842.8v1.5M181.9 897.0v1.5M168.8 839.5v1.5M141.7 852.4v1.5M151.1 887.4v1.5M143.7 913.4v1.5M168.4 849.6v1.5M143.4 829.6v1.5M192.5 889.2v1.5M157.3 875.3v1.5M164.2 946.2v1.5M159.1 810.3v1.5M173.2 848.1v1.5M136.8 872.1v1.5M166.4 832.1v1.5M144.3 881.4v1.5M162.7 895.9v1.5M130.1 860.0v1.5M177.5 871.6v1.5M164.7 853.4v1.5M135.1 932.3v1.5M124.7 881.9v1.5M169.6 813.4v1.5M131.5 810.7v1.5M186.3 831.0v1.5M148.1 825.3v1.5M133.7 906.6v1.5M139.9 787.3v1.5M152.2 829.9v1.5M179.9 826.1v1.5M176.2 823.8v1.5M110.7 897.5v1.5M154.3 911.2v1.5M151.1 920.8v1.5M156.1 925.2v1.5M159.2 801.0v1.5M182.1 797.4v1.5M132.9 808.1v1.5M118.9 825.1v1.5M136.0 856.2v1.5M100.7 898.1v1.5M160.7 814.9v1.5M133.0 908.1v1.5M160.2 871.7v1.5M118.0 853.2v1.5M132.1 866.3v1.5M130.4 921.2v1.5M174.9 838.7v1.5M187.0 846.3v1.5M127.1 876.2v1.5M148.3 839.1v1.5M133.8 848.2v1.5M174.3 815.3v1.5M162.7 828.5v1.5M145.3 904.2v1.5M146.1 851.4v1.5M154.6 838.7v1.5M137.6 838.0v1.5M190.8 869.7v1.5M182.6 783.9v1.5M176.0 861.0v1.5M162.5 838.7v1.5M155.9 925.2v1.5M148.4 905.3v1.5M195.2 879.6v1.5M157.7 827.1v1.5M144.0 830.7v1.5M143.1 906.8v1.5M144.9 837.6v1.5M137.0 898.1v1.5M171.1 929.1v1.5M144.5 859.8v1.5M174.7 852.6v1.5M121.8 848.9v1.5M135.8 821.6v1.5M156.8 860.8v1.5M105.7 874.1v1.5M158.5 891.1v1.5M56.6 933.8v1.5M88.3 954.6v1.5M97.5 911.5v1.5M220.8 882.9v1.5M214.8 808.5v1.5M202.9 895.9v1.5" stroke="#000" stroke-width="3.8" stroke-linecap="round" fill="none"/>
<path d="M152.1 902.6v1.8M163.7 864.8v1.8M176.1 872.1v1.8M159.2 868.4v1.8M165.3 831.4v1.8M154.8 868.2v1.8M145.2 872.3v1.8M166.1 897.4v1.8M145.9 859.6v1.8M136.5 823.2v1.8M161.6 856.5v1.8M157.0 884.0v1.8M158.3 871.8v1.8M172.7 864.0v1.8M172.3 888.2v1.8M157.1 893.7v1.8M165.7 858.5v1.8M150.8 876.6v1.8M173.9 828.2v1.8M155.8 899.7v1.8M165.3 864.9v1.8M164.6 887.0v1.8M157.7 893.7v1.8M161.4 893.7v1.8M152.4 864.5v1.8M154.0 846.1v1.8M164.7 884.6v1.8M183.5 894.8v1.8M148.6 868.4v1.8M167.7 854.0v1.8M154.2 884.3v1.8M144.6 857.5v1.8M143.5 857.7v1.8M139.4 879.2v1.8M165.6 851.6v1.8M179.6 901.4v1.8M178.8 866.1v1.8M143.3 907.2v1.8M176.3 845.6v1.8M156.7 899.6v1.8M155.1 872.1v1.8M149.0 878.6v1.8M164.5 898.0v1.8M166.1 882.9v1.8M175.9 865.8v1.8M146.9 885.9v1.8M142.2 854.1v1.8M154.8 899.6v1.8M141.4 902.8v1.8M153.4 846.0v1.8M141.4 892.7v1.8M150.8 865.3v1.8M143.4 867.1v1.8M158.2 868.2v1.8M145.6 882.7v1.8M175.9 858.0v1.8M154.7 905.6v1.8M156.2 854.2v1.8M144.9 870.9v1.8M165.9 851.5v1.8M153.4 869.2v1.8M160.7 906.8v1.8M161.5 907.1v1.8M172.4 827.9v1.8M152.5 864.6v1.8M153.1 915.7v1.8M160.4 894.9v1.8M136.3 895.5v1.8M146.0 876.1v1.8M167.9 884.8v1.8M153.3 901.8v1.8M147.0 869.8v1.8M171.2 843.7v1.8M164.0 871.2v1.8M170.0 850.6v1.8M144.3 914.4v1.8M153.3 869.2v1.8M163.1 904.8v1.8M141.0 889.0v1.8M156.0 857.0v1.8M171.4 868.9v1.8M151.2 890.8v1.8M156.6 872.0v1.8M147.2 869.5v1.8M164.9 853.2v1.8M149.3 900.9v1.8M165.4 856.7v1.8M155.8 845.3v1.8M145.9 880.6v1.8M154.8 881.8v1.8M163.6 911.0v1.8M157.9 866.6v1.8M139.4 858.6v1.8M160.9 857.0v1.8M154.3 879.5v1.8M149.5 893.8v1.8M159.4 855.4v1.8M165.6 879.5v1.8M167.5 880.8v1.8M164.9 877.6v1.8M157.6 893.3v1.8M160.0 880.7v1.8M171.5 825.9v1.8M153.4 880.0v1.8M164.5 899.9v1.8M162.3 840.6v1.8M149.8 850.9v1.8M156.3 850.3v1.8M155.8 872.2v1.8M145.0 885.5v1.8M150.1 873.9v1.8M164.4 870.3v1.8M156.1 883.2v1.8M156.7 874.8v1.8M176.3 852.4v1.8M162.7 874.0v1.8M153.4 867.1v1.8M148.5 918.5v1.8M171.1 855.3v1.8M157.5 833.8v1.8M163.4 898.3v1.8M160.4 878.3v1.8M171.2 870.6v1.8M161.8 893.5v1.8M159.2 854.6v1.8M153.1 894.6v1.8M145.9 876.6v1.8M160.5 876.9v1.8M140.4 859.4v1.8M134.3 830.7v1.8M180.5 841.8v1.8M155.4 852.4v1.8M152.0 882.7v1.8M158.5 859.9v1.8M167.8 901.7v1.8M159.4 877.8v1.8M157.5 888.1v1.8M147.3 878.5v1.8M138.4 854.9v1.8M156.1 885.0v1.8M173.1 841.2v1.8M154.2 847.4v1.8M152.1 852.2v1.8M148.9 870.1v1.8M169.9 863.8v1.8M163.7 892.1v1.8M149.0 866.6v1.8M172.8 899.0v1.8M156.2 880.9v1.8M147.5 849.0v1.8M158.1 924.6v1.8M149.4 883.0v1.8M167.4 875.1v1.8M150.6 928.6v1.8M157.8 860.6v1.8M148.3 912.4v1.8M161.1 882.7v1.8M159.1 876.8v1.8M169.5 884.6v1.8M153.8 881.5v1.8M171.7 871.6v1.8M163.6 895.9v1.8M163.7 887.9v1.8M158.7 928.4v1.8M182.1 868.1v1.8M144.8 885.2v1.8M148.8 844.5v1.8M132.3 890.1v1.8M179.8 864.0v1.8M148.7 882.1v1.8M177.9 869.6v1.8M148.4 860.0v1.8M153.6 879.6v1.8M159.4 893.1v1.8M146.6 886.8v1.8M159.2 809.3v1.8M160.8 893.2v1.8M180.6 852.6v1.8M140.8 890.4v1.8M142.0 871.4v1.8M153.4 869.3v1.8M155.4 889.8v1.8M154.9 868.4v1.8M193.8 819.0v1.8M192.3 822.2v1.8M210.2 813.5v1.8M198.7 811.3v1.8M195.0 817.6v1.8M186.7 829.1v1.8M191.5 821.0v1.8M200.0 816.2v1.8M185.3 822.1v1.8M176.7 831.7v1.8M177.0 824.3v1.8M193.6 816.6v1.8M178.3 830.3v1.8M186.9 818.3v1.8M187.5 825.2v1.8M186.7 822.4v1.8M199.7 820.3v1.8M192.9 817.4v1.8M200.3 810.9v1.8M183.0 828.6v1.8M208.2 817.5v1.8M194.9 817.2v1.8M188.1 823.1v1.8M183.8 821.9v1.8M207.2 820.3v1.8M197.3 821.8v1.8M200.2 809.0v1.8M201.5 812.0v1.8M182.2 831.8v1.8M193.4 826.8v1.8M209.9 812.2v1.8M206.2 812.6v1.8M188.8 821.1v1.8M183.6 831.7v1.8M202.1 814.6v1.8M189.9 824.2v1.8M196.5 820.4v1.8M196.3 823.6v1.8M203.8 815.9v1.8M189.6 813.0v1.8M176.1 831.8v1.8M175.4 833.5v1.8M179.3 823.3v1.8M179.9 817.6v1.8M177.3 824.1v1.8M174.5 837.7v1.8M182.5 823.9v1.8M180.2 828.9v1.8M184.4 808.5v1.8M183.0 817.6v1.8M181.2 822.5v1.8M174.5 830.6v1.8M180.2 823.0v1.8M177.6 815.6v1.8M172.4 836.6v1.8M179.8 830.1v1.8M145.8 853.8v1.8M144.1 869.3v1.8M139.1 921.5v1.8M148.2 883.9v1.8M142.4 790.3v1.8M174.7 883.7v1.8M143.9 768.8v1.8M175.6 795.3v1.8M116.7 891.6v1.8M177.0 881.0v1.8M140.2 804.4v1.8M129.2 821.9v1.8M174.2 812.0v1.8M203.4 868.1v1.8M160.4 879.1v1.8M176.9 874.8v1.8M175.8 829.0v1.8M145.6 848.1v1.8M207.7 807.8v1.8M176.9 803.5v1.8M173.6 831.9v1.8M163.5 835.2v1.8M172.2 847.4v1.8M125.9 821.4v1.8M186.2 865.6v1.8M115.7 926.0v1.8M138.1 865.6v1.8M183.4 821.5v1.8M100.7 848.3v1.8M141.1 850.4v1.8M116.9 872.5v1.8M161.2 856.8v1.8M142.1 943.4v1.8M157.4 863.7v1.8M138.1 869.1v1.8M174.2 761.3v1.8M127.2 941.7v1.8M141.5 841.4v1.8M169.3 882.5v1.8M182.6 863.1v1.8M148.8 933.2v1.8M138.4 836.9v1.8M161.8 874.6v1.8M185.1 836.1v1.8M137.0 878.0v1.8M181.2 924.5v1.8M165.5 826.2v1.8M132.2 811.5v1.8M176.1 793.5v1.8M158.5 818.2v1.8M171.6 795.8v1.8M171.8 763.4v1.8M143.0 869.0v1.8M164.1 818.0v1.8M175.9 861.4v1.8M173.5 824.1v1.8M185.5 854.6v1.8M150.0 851.0v1.8M157.5 847.4v1.8M121.3 809.7v1.8M109.8 908.0v1.8M174.1 869.7v1.8M150.2 829.8v1.8M121.6 924.9v1.8M153.3 934.0v1.8M176.5 852.9v1.8M163.1 843.7v1.8M141.9 847.4v1.8M157.4 782.1v1.8M154.8 858.2v1.8M162.4 754.3v1.8M129.9 865.9v1.8M141.5 830.6v1.8M139.9 786.6v1.8M164.1 824.9v1.8M159.0 921.9v1.8M148.5 938.6v1.8M142.4 870.5v1.8M175.2 845.0v1.8M168.9 844.5v1.8M148.4 859.5v1.8M156.2 834.3v1.8M120.4 858.5v1.8M124.7 881.2v1.8M127.6 897.5v1.8M167.6 822.5v1.8M142.5 820.1v1.8M122.3 838.6v1.8M168.7 849.6v1.8M180.5 862.0v1.8M148.6 812.6v1.8M169.0 868.8v1.8M151.2 812.3v1.8M127.7 868.8v1.8M176.1 879.0v1.8M151.4 814.9v1.8M172.2 833.0v1.8M125.4 868.5v1.8M154.5 875.7v1.8M146.9 904.4v1.8M153.0 878.0v1.8M181.3 850.1v1.8M144.5 843.9v1.8M210.4 760.1v1.8M149.8 879.9v1.8M162.1 831.5v1.8M178.4 879.8v1.8M149.2 900.9v1.8M152.6 920.7v1.8M115.0 853.4v1.8M155.4 822.7v1.8M115.5 905.4v1.8M157.9 816.2v1.8M151.8 864.0v1.8M135.3 870.7v1.8M132.1 884.0v1.8M118.0 847.2v1.8M178.0 780.8v1.8M134.6 858.6v1.8M170.1 831.7v1.8M149.9 871.0v1.8M141.2 832.0v1.8M176.1 820.0v1.8M173.2 834.9v1.8M194.5 804.3v1.8M142.3 853.6v1.8M169.0 766.3v1.8M163.4 848.6v1.8M155.4 839.8v1.8M159.0 869.5v1.8M169.9 828.3v1.8M148.2 881.8v1.8M124.0 774.9v1.8M191.2 830.8v1.8M150.4 776.9v1.8M144.6 929.3v1.8M132.2 836.6v1.8M124.7 807.3v1.8M163.1 815.7v1.8M181.4 781.5v1.8M183.6 771.2v1.8M150.9 799.6v1.8M138.9 865.3v1.8M129.2 897.2v1.8M160.5 849.7v1.8M140.2 838.2v1.8M152.5 809.0v1.8M146.0 821.4v1.8M179.4 790.6v1.8M168.7 829.5v1.8M138.7 841.9v1.8M179.5 851.2v1.8M171.9 866.0v1.8M109.2 902.6v1.8M150.7 875.4v1.8M66.6 945.7v1.8M232.4 847.6v1.8M209.1 799.5v1.8M181.5 756.7v1.8" stroke="#000" stroke-width="4.4" stroke-linecap="round" fill="none"/>
<path d="M156.9 890.2v1.2M174.4 843.3v1.2M157.9 847.1v1.2M158.6 880.6v1.2M170.7 898.4v1.2M164.1 862.3v1.2M137.5 826.4v1.2M140.6 834.9v1.2M159.3 861.1v1.2M156.7 883.0v1.2M138.3 894.4v1.2M159.3 909.3v1.2M163.8 868.3v1.2M165.2 922.7v1.2M169.8 881.1v1.2M167.3 852.5v1.2M145.2 865.4v1.2M157.5 874.9v1.2M168.1 889.5v1.2M139.9 878.2v1.2M162.8 858.6v1.2M166.2 896.3v1.2M159.4 889.7v1.2M150.3 895.1v1.2M159.2 865.2v1.2M163.5 871.8v1.2M151.5 838.4v1.2M155.1 858.0v1.2M163.6 892.3v1.2M160.1 836.5v1.2M157.7 893.3v1.2M150.6 890.0v1.2M139.8 858.6v1.2M156.7 872.1v1.2M147.7 880.0v1.2M143.9 888.9v1.2M160.8 891.4v1.2M144.3 894.0v1.2M161.0 854.7v1.2M151.5 880.9v1.2M156.8 855.9v1.2M175.1 875.6v1.2M165.1 879.6v1.2M170.4 837.5v1.2M159.5 848.6v1.2M156.7 868.4v1.2M135.5 880.7v1.2M158.2 849.9v1.2M159.0 827.9v1.2M163.3 893.1v1.2M158.1 862.1v1.2M174.4 887.6v1.2M158.8 889.2v1.2M175.4 896.3v1.2M167.1 866.7v1.2M132.1 925.0v1.2M172.3 879.2v1.2M178.9 883.6v1.2M174.6 878.3v1.2M149.0 906.3v1.2M143.6 841.8v1.2M158.3 866.0v1.2M159.5 894.7v1.2M172.9 859.8v1.2M146.2 868.7v1.2M163.1 872.9v1.2M157.7 905.7v1.2M137.0 903.3v1.2M156.1 840.9v1.2M160.4 906.0v1.2M157.0 910.5v1.2M140.1 867.9v1.2M162.2 872.1v1.2M160.1 866.9v1.2M158.8 887.9v1.2M157.2 848.9v1.2M158.9 856.3v1.2M156.6 895.6v1.2M164.9 874.0v1.2M161.5 892.8v1.2M175.7 865.1v1.2M150.8 886.1v1.2M151.3 880.7v1.2M154.7 842.2v1.2M162.7 884.3v1.2M172.8 867.0v1.2M181.5 833.6v1.2M149.9 855.9v1.2M169.9 872.2v1.2M143.2 880.0v1.2M152.4 869.0v1.2M184.4 862.9v1.2M148.7 853.2v1.2M151.3 830.3v1.2M150.3 880.8v1.2M162.5 850.7v1.2M170.9 888.4v1.2M160.9 898.0v1.2M143.1 916.4v1.2M160.4 855.3v1.2M164.8 894.2v1.2M148.3 876.6v1.2M157.3 863.3v1.2M154.4 887.8v1.2M163.5 883.1v1.2M150.2 896.2v1.2M153.4 877.8v1.2M154.8 884.9v1.2M159.8 859.7v1.2M152.1 848.7v1.2M141.6 885.0v1.2M147.2 887.9v1.2M146.4 866.8v1.2M156.3 887.5v1.2M161.3 854.8v1.2M141.9 889.9v1.2M145.6 900.4v1.2M150.2 929.9v1.2M174.8 892.3v1.2M153.9 882.2v1.2M149.7 913.8v1.2M157.2 867.7v1.2M168.2 852.9v1.2M154.5 887.0v1.2M133.7 861.0v1.2M161.4 922.8v1.2M172.7 870.8v1.2M158.6 898.1v1.2M149.2 885.1v1.2M142.7 904.3v1.2M159.4 896.0v1.2M169.6 906.2v1.2M155.9 872.7v1.2M156.9 851.4v1.2M165.7 882.4v1.2M142.0 882.7v1.2M148.2 885.5v1.2M155.1 912.4v1.2M165.1 882.7v1.2M144.1 881.4v1.2M170.0 852.8v1.2M178.9 873.6v1.2M153.9 877.9v1.2M147.6 861.9v1.2M173.0 835.0v1.2M163.7 893.5v1.2M173.8 897.1v1.2M146.9 833.8v1.2M158.7 870.9v1.2M165.7 831.4v1.2M140.6 893.2v1.2M132.5 860.1v1.2M159.2 894.3v1.2M152.7 934.1v1.2M161.3 873.5v1.2M157.6 885.4v1.2M152.3 883.4v1.2M170.5 911.9v1.2M148.9 882.1v1.2M167.3 904.5v1.2M154.8 863.9v1.2M152.7 864.9v1.2M152.1 889.2v1.2M145.1 872.9v1.2M150.6 814.2v1.2M163.6 852.5v1.2M158.3 865.6v1.2M145.1 898.3v1.2M165.1 897.4v1.2M131.0 869.8v1.2M177.2 875.5v1.2M142.6 872.8v1.2M161.1 857.3v1.2M162.8 868.6v1.2M154.0 895.3v1.2M161.8 868.2v1.2M156.3 879.7v1.2M184.4 863.0v1.2M150.3 850.0v1.2M157.5 876.4v1.2M171.3 852.6v1.2M140.5 871.8v1.2M155.6 877.2v1.2M168.3 878.6v1.2M140.1 852.4v1.2M129.0 883.4v1.2M171.9 871.5v1.2M148.7 882.7v1.2M178.2 883.7v1.2M164.4 872.9v1.2M161.4 918.4v1.2M164.0 861.3v1.2M145.9 848.2v1.2M156.1 882.9v1.2M166.2 881.9v1.2M146.9 913.9v1.2M147.7 864.2v1.2M172.7 902.7v1.2M152.9 898.2v1.2M159.8 861.0v1.2M165.3 850.8v1.2M146.1 906.7v1.2M166.7 892.0v1.2M170.0 857.5v1.2M154.1 836.2v1.2M210.9 810.3v1.2M202.6 821.6v1.2M207.5 814.0v1.2M195.7 815.3v1.2M181.4 822.8v1.2M188.8 817.8v1.2M201.4 815.4v1.2M204.0 815.1v1.2M198.7 819.7v1.2M176.0 828.7v1.2M188.4 823.6v1.2M208.6 812.1v1.2M180.1 831.6v1.2M196.2 820.2v1.2M206.5 816.1v1.2M208.9 804.9v1.2M200.0 824.8v1.2M207.2 814.9v1.2M190.1 818.5v1.2M197.8 816.7v1.2M184.7 819.1v1.2M204.0 805.6v1.2M185.1 822.6v1.2M198.0 813.8v1.2M197.0 814.1v1.2M181.8 828.5v1.2M189.9 818.0v1.2M188.0 826.3v1.2M192.1 821.7v1.2M180.5 831.1v1.2M197.7 826.1v1.2M177.8 823.4v1.2M176.2 824.7v1.2M178.2 820.1v1.2M190.6 822.7v1.2M179.2 827.7v1.2M207.5 812.6v1.2M207.2 814.2v1.2M172.9 830.2v1.2M212.4 814.2v1.2M202.0 820.0v1.2M197.3 813.4v1.2M184.3 826.2v1.2M186.0 826.7v1.2M187.2 822.4v1.2M196.3 819.6v1.2M178.1 819.8v1.2M198.2 814.8v1.2M193.1 817.1v1.2M202.5 811.8v1.2M205.9 813.0v1.2M210.4 814.6v1.2M190.4 824.9v1.2M198.1 816.5v1.2M207.1 804.5v1.2M178.6 830.6v1.2M188.5 833.1v1.2M193.3 825.4v1.2M179.8 821.9v1.2M196.1 821.6v1.2M179.8 825.3v1.2M174.0 833.1v1.2M179.3 821.2v1.2M187.1 806.9v1.2M174.4 828.9v1.2M181.7 817.6v1.2M184.4 831.1v1.2M176.8 832.9v1.2M181.9 815.5v1.2M181.4 830.1v1.2M177.3 829.4v1.2M181.8 825.2v1.2M174.6 841.6v1.2M178.2 822.8v1.2M173.7 830.8v1.2M147.1 807.6v1.2M143.0 851.8v1.2M165.6 839.9v1.2M103.7 887.0v1.2M153.0 874.0v1.2M177.2 907.1v1.2M160.7 881.9v1.2M168.8 832.2v1.2M133.9 906.5v1.2M140.2 815.3v1.2M196.5 815.8v1.2M136.5 815.4v1.2M113.2 840.8v1.2M128.9 918.3v1.2M153.1 796.1v1.2M187.1 795.0v1.2M152.3 844.8v1.2M111.6 892.1v1.2M126.3 855.9v1.2M172.7 826.0v1.2M154.6 815.4v1.2M142.7 826.1v1.2M155.8 831.0v1.2M199.0 829.1v1.2M174.2 831.6v1.2M130.6 929.5v1.2M145.0 878.6v1.2M158.3 825.9v1.2M131.9 805.6v1.2M127.3 927.0v1.2M172.7 838.4v1.2M151.7 828.5v1.2M164.4 853.1v1.2M199.7 823.2v1.2M172.5 799.2v1.2M156.1 857.5v1.2M129.4 842.2v1.2M133.4 804.0v1.2M154.2 754.1v1.2M161.8 843.2v1.2M151.5 790.7v1.2M130.0 897.5v1.2M199.5 754.5v1.2M181.4 867.5v1.2M173.8 873.7v1.2M128.0 846.9v1.2M170.2 830.3v1.2M161.1 856.9v1.2M180.7 767.8v1.2M167.2 794.3v1.2M146.6 926.3v1.2M123.7 878.6v1.2M182.9 809.4v1.2M178.9 807.0v1.2M150.2 822.7v1.2M146.1 890.3v1.2M157.1 894.4v1.2M153.0 814.2v1.2M154.9 871.0v1.2M144.6 818.5v1.2M156.9 875.7v1.2M129.6 940.3v1.2M126.6 893.3v1.2M179.3 814.4v1.2M138.2 819.0v1.2M192.4 795.2v1.2M109.9 890.9v1.2M150.3 923.9v1.2M209.1 908.4v1.2M178.4 859.5v1.2M152.2 880.3v1.2M140.6 830.5v1.2M185.1 847.1v1.2M153.1 888.6v1.2M184.5 884.5v1.2M147.8 813.7v1.2M158.4 839.5v1.2M144.1 894.0v1.2M148.4 870.5v1.2M139.5 875.1v1.2M143.3 891.1v1.2M136.7 924.9v1.2M176.5 823.6v1.2M157.9 843.3v1.2M130.6 860.2v1.2M123.6 885.2v1.2M139.0 926.8v1.2M124.2 796.7v1.2M164.8 876.0v1.2M109.4 910.2v1.2M191.4 782.5v1.2M173.8 830.4v1.2M173.2 803.0v1.2M162.8 824.8v1.2M137.4 817.9v1.2M145.0 821.2v1.2M135.5 858.2v1.2M153.6 833.1v1.2M163.1 891.2v1.2M190.3 816.9v1.2M164.5 893.4v1.2M147.5 879.9v1.2M113.9 806.2v1.2M140.3 837.2v1.2M163.4 857.2v1.2M119.6 851.1v1.2M139.7 829.4v1.2M160.2 892.3v1.2M208.2 796.4v1.2M134.4 867.2v1.2M182.3 805.6v1.2M153.7 849.3v1.2M147.9 883.9v1.2M166.8 804.9v1.2M136.4 887.1v1.2M190.5 791.8v1.2M149.3 935.0v1.2M134.4 833.6v1.2M168.7 801.0v1.2M146.6 800.9v1.2M155.4 877.4v1.2M179.0 754.3v1.2M145.9 821.0v1.2M170.3 774.1v1.2M167.4 904.5v1.2M132.6 906.7v1.2M148.4 815.6v1.2M125.1 832.1v1.2M179.0 838.3v1.2M118.3 852.6v1.2M156.0 799.4v1.2M139.8 853.4v1.2M133.5 821.8v1.2M188.8 841.9v1.2M138.7 865.3v1.2M179.7 773.2v1.2M144.6 811.8v1.2M135.3 874.5v1.2M155.8 859.2v1.2M164.4 856.1v1.2M158.5 838.2v1.2M138.0 876.6v1.2M184.3 840.2v1.2M133.5 898.6v1.2M179.0 824.6v1.2M141.3 846.8v1.2M153.4 878.0v1.2M144.5 787.2v1.2M193.3 832.7v1.2M105.2 922.0v1.2M214.7 893.6v1.2M211.7 802.5v1.2M133.8 748.6v1.2" stroke="#33ee22" stroke-width="3.2" stroke-linecap="round" fill="none"/>
<path d="M167.1 895.2v1.5M160.6 870.8v1.5M133.9 878.7v1.5M142.4 874.7v1.5M152.2 854.6v1.5M148.8 858.2v1.5M164.7 828.7v1.5M180.6 891.6v1.5M151.3 885.6v1.5M168.0 874.8v1.5M180.2 852.9v1.5M172.1 832.8v1.5M161.6 864.7v1.5M149.8 850.7v1.5M160.9 880.9v1.5M154.8 869.8v1.5M160.6 870.4v1.5M134.3 835.6v1.5M198.6 872.5v1.5M151.6 895.1v1.5M132.2 886.2v1.5M149.0 864.0v1.5M142.7 871.4v1.5M159.5 868.8v1.5M164.3 842.3v1.5M156.3 871.4v1.5M174.3 860.9v1.5M156.6 861.7v1.5M150.9 856.5v1.5M164.9 900.3v1.5M147.1 860.3v1.5M155.8 886.5v1.5M153.8 891.2v1.5M150.6 888.3v1.5M155.7 858.9v1.5M150.0 868.6v1.5M129.1 877.3v1.5M133.2 833.3v1.5M165.6 865.6v1.5M155.4 869.9v1.5M136.2 853.9v1.5M165.3 863.7v1.5M154.0 915.3v1.5M178.0 880.2v1.5M159.9 887.1v1.5M167.6 885.5v1.5M153.0 881.3v1.5M134.8 869.4v1.5M167.4 864.9v1.5M152.2 891.7v1.5M166.4 896.2v1.5M153.5 848.0v1.5M171.7 889.8v1.5M177.5 893.6v1.5M146.0 867.8v1.5M151.2 874.9v1.5M152.0 879.7v1.5M139.9 902.4v1.5M170.1 841.0v1.5M158.9 864.8v1.5M154.6 887.7v1.5M163.3 890.4v1.5M142.7 887.2v1.5M166.0 843.3v1.5M174.3 878.5v1.5M139.2 894.0v1.5M146.8 862.3v1.5M151.5 890.1v1.5M149.9 901.8v1.5M169.7 827.1v1.5M154.3 880.5v1.5M168.6 877.0v1.5M149.5 892.7v1.5M152.9 851.9v1.5M151.3 858.2v1.5M162.2 823.3v1.5M165.3 877.5v1.5M153.0 907.2v1.5M152.2 890.2v1.5M154.0 870.6v1.5M169.3 876.9v1.5M163.8 845.1v1.5M169.7 859.3v1.5M166.7 857.7v1.5M154.2 871.5v1.5M167.6 908.1v1.5M153.7 886.6v1.5M172.3 892.9v1.5M150.7 844.3v1.5M162.3 867.8v1.5M152.8 833.8v1.5M161.7 860.1v1.5M173.9 854.8v1.5M135.6 876.2v1.5M184.4 853.2v1.5M150.2 857.7v1.5M156.7 851.7v1.5M164.5 866.2v1.5M150.8 877.6v1.5M157.5 867.8v1.5M164.5 887.2v1.5M126.5 884.9v1.5M164.1 862.6v1.5M153.1 879.5v1.5M155.5 851.7v1.5M147.9 868.2v1.5M156.4 874.4v1.5M151.4 877.1v1.5M150.5 866.3v1.5M144.3 871.6v1.5M152.1 831.0v1.5M153.5 872.6v1.5M160.1 902.0v1.5M151.4 873.1v1.5M160.2 913.7v1.5M151.1 869.9v1.5M163.1 882.1v1.5M161.2 846.9v1.5M162.6 876.7v1.5M176.1 882.4v1.5M159.4 867.3v1.5M152.4 914.6v1.5M173.0 841.2v1.5M149.5 858.8v1.5M143.8 854.5v1.5M161.7 892.6v1.5M151.3 900.8v1.5M127.2 883.2v1.5M144.0 886.8v1.5M150.4 851.6v1.5M152.6 863.2v1.5M142.6 886.0v1.5M168.1 869.3v1.5M145.0 867.3v1.5M131.4 874.1v1.5M136.5 884.2v1.5M157.3 858.3v1.5M169.4 821.6v1.5M132.6 869.7v1.5M161.5 884.6v1.5M171.9 871.0v1.5M159.5 896.8v1.5M141.3 851.1v1.5M147.3 894.9v1.5M163.7 871.9v1.5M137.5 870.7v1.5M154.3 873.6v1.5M155.9 879.3v1.5M158.0 838.3v1.5M166.9 868.8v1.5M168.7 887.0v1.5M151.1 886.4v1.5M176.6 815.3v1.5M168.4 869.4v1.5M160.1 897.2v1.5M167.3 876.5v1.5M134.6 843.1v1.5M162.6 865.3v1.5M157.9 891.3v1.5M157.3 885.4v1.5M148.9 881.8v1.5M175.0 869.8v1.5M156.3 873.0v1.5M137.7 910.8v1.5M138.1 932.6v1.5M165.6 847.8v1.5M154.3 881.2v1.5M155.0 870.2v1.5M143.2 869.0v1.5M181.0 914.3v1.5M120.4 850.0v1.5M146.6 874.2v1.5M171.0 914.8v1.5M175.1 878.2v1.5M156.9 848.7v1.5M170.2 879.9v1.5M181.9 847.2v1.5M135.5 865.8v1.5M152.7 867.2v1.5M132.9 877.8v1.5M144.4 844.7v1.5M162.2 929.5v1.5M157.7 885.9v1.5M164.9 900.8v1.5M168.6 883.0v1.5M171.8 884.7v1.5M180.7 915.0v1.5M160.6 885.9v1.5M177.7 893.7v1.5M159.0 898.7v1.5M165.1 886.0v1.5M174.0 841.6v1.5M148.4 841.1v1.5M145.4 862.6v1.5M161.1 865.1v1.5M181.6 883.0v1.5M157.4 887.8v1.5M155.6 863.3v1.5M170.8 874.6v1.5M162.3 878.5v1.5M151.5 894.6v1.5M166.3 871.2v1.5M145.4 894.5v1.5M156.6 829.2v1.5M148.7 911.8v1.5M144.3 880.8v1.5M164.2 887.7v1.5M151.6 888.4v1.5M157.4 907.7v1.5M158.9 884.2v1.5M165.7 868.8v1.5M162.2 877.1v1.5M207.5 809.1v1.5M201.8 813.1v1.5M181.8 817.7v1.5M182.3 826.2v1.5M185.5 824.7v1.5M200.8 817.5v1.5M201.2 820.2v1.5M211.4 816.7v1.5M205.3 813.1v1.5M179.3 823.6v1.5M204.1 815.1v1.5M198.5 817.4v1.5M197.4 820.2v1.5M199.7 818.6v1.5M207.7 813.2v1.5M206.2 814.7v1.5M193.2 829.8v1.5M187.4 820.3v1.5M201.2 814.5v1.5M193.4 819.1v1.5M199.5 821.0v1.5M190.3 828.4v1.5M185.5 825.0v1.5M185.6 825.7v1.5M207.8 810.9v1.5M190.5 825.5v1.5M206.1 814.5v1.5M207.4 819.5v1.5M196.2 826.6v1.5M175.5 824.9v1.5M184.0 823.2v1.5M181.4 822.6v1.5M193.0 822.6v1.5M197.6 818.8v1.5M187.6 824.3v1.5M192.2 824.3v1.5M193.0 815.3v1.5M182.2 827.6v1.5M205.2 812.8v1.5M170.4 840.0v1.5M186.1 817.4v1.5M183.0 815.4v1.5M170.0 834.6v1.5M186.3 828.0v1.5M182.6 827.7v1.5M175.8 836.6v1.5M179.7 826.4v1.5M177.8 841.6v1.5M178.7 827.1v1.5M160.1 839.9v1.5M158.8 822.0v1.5M139.5 847.4v1.5M122.3 921.9v1.5M164.6 786.4v1.5M153.2 842.1v1.5M146.2 893.9v1.5M160.3 893.9v1.5M170.6 771.9v1.5M153.3 853.2v1.5M136.5 787.6v1.5M119.9 923.0v1.5M162.0 810.1v1.5M132.0 913.7v1.5M130.2 922.7v1.5M165.4 890.1v1.5M172.2 849.2v1.5M159.6 816.9v1.5M131.3 919.4v1.5M175.9 845.7v1.5M159.3 793.1v1.5M165.2 888.2v1.5M165.1 779.2v1.5M159.9 854.2v1.5M183.3 896.2v1.5M167.5 772.5v1.5M153.2 892.9v1.5M131.8 845.1v1.5M162.4 867.8v1.5M164.2 924.7v1.5M137.6 914.3v1.5M107.8 885.3v1.5M192.6 797.0v1.5M128.3 905.7v1.5M142.2 855.0v1.5M163.0 765.7v1.5M142.0 787.7v1.5M164.1 858.0v1.5M115.9 908.4v1.5M136.2 872.3v1.5M174.4 888.0v1.5M102.8 905.5v1.5M134.7 933.2v1.5M107.4 910.2v1.5M136.3 865.5v1.5M136.5 858.0v1.5M195.4 789.8v1.5M129.1 921.8v1.5M153.6 905.0v1.5M164.6 825.4v1.5M205.1 784.3v1.5M191.3 839.5v1.5M181.5 846.4v1.5M153.0 830.8v1.5M153.4 852.4v1.5M166.2 901.4v1.5M176.0 829.0v1.5M132.0 934.1v1.5M163.0 886.5v1.5M148.6 863.9v1.5M128.2 819.8v1.5M152.2 854.9v1.5M135.2 841.6v1.5M139.8 869.4v1.5M161.7 826.1v1.5M164.9 899.8v1.5M160.8 903.5v1.5M123.4 827.4v1.5M150.9 910.2v1.5M129.7 917.7v1.5M111.5 891.2v1.5M162.0 843.4v1.5M131.5 885.4v1.5M121.4 911.7v1.5M145.5 862.8v1.5M184.9 906.6v1.5M124.0 926.8v1.5M143.7 877.1v1.5M173.8 798.7v1.5M154.7 873.8v1.5M135.2 895.2v1.5M148.7 842.3v1.5M181.4 896.1v1.5M169.0 838.6v1.5M143.1 852.2v1.5M150.0 887.4v1.5M143.7 913.0v1.5M169.5 850.4v1.5M142.9 829.6v1.5M193.3 890.1v1.5M157.0 876.2v1.5M163.4 945.2v1.5M159.5 811.2v1.5M172.6 847.1v1.5M135.8 871.2v1.5M165.5 832.0v1.5M145.5 881.6v1.5M163.9 896.4v1.5M129.3 859.7v1.5M177.5 870.7v1.5M165.1 852.7v1.5M135.7 932.8v1.5M123.5 882.6v1.5M168.6 814.1v1.5M131.9 810.8v1.5M187.4 830.6v1.5M148.4 824.4v1.5M135.1 905.9v1.5M141.2 787.5v1.5M152.9 830.6v1.5M179.8 825.0v1.5M177.1 823.6v1.5M110.3 896.7v1.5M153.1 910.1v1.5M151.4 920.7v1.5M155.4 925.9v1.5M158.3 801.6v1.5M183.2 797.3v1.5M133.3 808.3v1.5M120.2 825.6v1.5M136.3 855.8v1.5M101.3 898.5v1.5M160.7 815.3v1.5M132.7 908.9v1.5M160.0 871.6v1.5M119.2 852.9v1.5M133.4 866.6v1.5M131.2 920.8v1.5M174.6 839.2v1.5M186.7 847.0v1.5M125.4 876.3v1.5M147.8 840.0v1.5M133.8 847.9v1.5M174.0 815.3v1.5M162.6 828.6v1.5M144.6 903.9v1.5M145.9 850.7v1.5M154.8 839.8v1.5M139.1 837.2v1.5M191.7 869.0v1.5M183.2 782.9v1.5M175.9 861.6v1.5M163.5 838.0v1.5M155.8 925.6v1.5M147.3 904.7v1.5M195.2 880.7v1.5M157.9 826.1v1.5M144.3 830.8v1.5M141.8 905.9v1.5M145.2 837.4v1.5M137.4 897.9v1.5M172.1 929.0v1.5M143.8 860.8v1.5M174.7 851.7v1.5M122.0 849.2v1.5M135.9 822.3v1.5M156.3 861.6v1.5M105.3 875.0v1.5M159.0 890.8v1.5M56.0 933.2v1.5M89.5 954.6v1.5M97.1 912.1v1.5M221.6 882.7v1.5M215.2 807.4v1.5M201.6 894.9v1.5" stroke="#33ee22" stroke-width="3.8" stroke-linecap="round" fill="none"/>
<path d="M152.5 901.8v1.8M162.8 865.4v1.8M176.9 871.1v1.8M159.0 868.4v1.8M164.4 832.4v1.8M154.8 868.4v1.8M144.6 871.3v1.8M165.7 897.3v1.8M145.7 859.8v1.8M137.3 824.2v1.8M161.6 856.7v1.8M157.4 883.4v1.8M159.2 871.9v1.8M172.5 864.2v1.8M173.0 888.5v1.8M155.6 893.1v1.8M166.6 858.4v1.8M151.7 876.3v1.8M173.8 827.8v1.8M155.6 898.8v1.8M166.2 865.0v1.8M164.0 887.8v1.8M158.7 893.9v1.8M161.2 892.8v1.8M152.2 864.8v1.8M153.3 846.7v1.8M165.9 885.0v1.8M182.5 895.1v1.8M149.6 868.5v1.8M167.0 853.8v1.8M155.7 883.5v1.8M144.4 857.2v1.8M144.2 858.4v1.8M139.0 878.5v1.8M165.6 852.5v1.8M179.3 900.8v1.8M178.4 866.4v1.8M144.1 907.3v1.8M176.2 845.4v1.8M156.2 899.9v1.8M156.0 872.9v1.8M149.9 878.6v1.8M165.6 898.5v1.8M166.2 883.1v1.8M174.7 866.9v1.8M145.8 885.2v1.8M142.3 853.6v1.8M155.5 898.8v1.8M140.9 902.2v1.8M153.2 845.7v1.8M141.7 892.2v1.8M150.6 865.7v1.8M143.6 867.0v1.8M156.7 868.9v1.8M146.6 882.3v1.8M176.5 858.9v1.8M154.6 904.7v1.8M157.4 854.3v1.8M144.3 871.1v1.8M164.9 852.2v1.8M153.1 868.6v1.8M160.0 906.4v1.8M161.8 907.1v1.8M172.6 828.1v1.8M152.3 863.7v1.8M154.4 916.1v1.8M159.9 895.0v1.8M136.8 896.1v1.8M146.0 876.0v1.8M168.2 884.6v1.8M151.9 901.7v1.8M147.6 868.8v1.8M171.0 843.9v1.8M164.3 870.4v1.8M169.2 851.2v1.8M144.3 914.3v1.8M152.6 869.7v1.8M163.2 904.3v1.8M139.3 888.8v1.8M156.2 856.4v1.8M172.1 869.6v1.8M152.1 890.4v1.8M156.7 871.0v1.8M147.0 869.1v1.8M164.4 853.8v1.8M149.7 899.9v1.8M165.3 856.9v1.8M155.0 846.2v1.8M145.4 880.9v1.8M155.5 882.5v1.8M163.6 911.8v1.8M159.1 865.6v1.8M139.9 859.5v1.8M159.2 856.5v1.8M154.5 879.2v1.8M148.8 894.7v1.8M159.3 854.7v1.8M165.3 879.0v1.8M166.9 881.3v1.8M164.9 877.3v1.8M156.0 892.3v1.8M160.0 881.6v1.8M171.7 825.6v1.8M154.6 880.0v1.8M164.8 901.0v1.8M160.8 841.0v1.8M150.0 851.7v1.8M155.5 851.0v1.8M157.2 871.4v1.8M145.2 884.8v1.8M150.8 873.1v1.8M162.8 870.6v1.8M156.5 882.4v1.8M156.8 874.1v1.8M176.1 852.6v1.8M163.3 873.1v1.8M153.4 866.6v1.8M147.0 917.6v1.8M170.4 855.3v1.8M158.4 833.5v1.8M163.9 898.2v1.8M161.4 878.3v1.8M171.3 870.0v1.8M162.7 894.1v1.8M158.5 854.0v1.8M153.9 894.2v1.8M146.3 875.6v1.8M161.5 877.8v1.8M140.4 860.2v1.8M134.2 831.3v1.8M179.8 842.9v1.8M155.6 853.2v1.8M153.4 883.1v1.8M159.4 858.9v1.8M166.1 902.5v1.8M159.6 878.6v1.8M158.6 888.9v1.8M148.9 878.9v1.8M139.1 855.1v1.8M155.5 885.6v1.8M174.0 840.8v1.8M153.7 848.3v1.8M152.3 852.9v1.8M149.0 871.0v1.8M170.8 863.5v1.8M164.9 892.5v1.8M149.7 867.7v1.8M172.4 900.0v1.8M154.7 882.0v1.8M148.3 849.6v1.8M158.8 925.7v1.8M148.2 882.5v1.8M167.2 875.9v1.8M150.1 927.7v1.8M158.3 861.4v1.8M147.1 911.6v1.8M160.4 882.2v1.8M157.7 877.9v1.8M169.4 884.4v1.8M154.0 881.5v1.8M170.0 870.5v1.8M162.7 896.5v1.8M163.3 887.9v1.8M159.1 928.2v1.8M182.0 867.4v1.8M144.5 884.7v1.8M147.1 845.1v1.8M134.2 889.9v1.8M180.0 863.1v1.8M148.3 883.0v1.8M177.1 868.7v1.8M149.1 860.6v1.8M153.3 878.6v1.8M158.4 894.2v1.8M145.7 886.5v1.8M159.7 810.1v1.8M161.4 893.5v1.8M179.5 853.1v1.8M140.6 890.5v1.8M140.5 871.5v1.8M152.0 870.1v1.8M154.6 888.8v1.8M155.8 868.6v1.8M195.1 818.5v1.8M192.7 821.5v1.8M209.0 813.9v1.8M199.1 811.8v1.8M194.5 818.0v1.8M186.6 828.3v1.8M192.4 821.4v1.8M200.8 815.9v1.8M184.3 822.3v1.8M177.5 832.0v1.8M176.4 824.4v1.8M193.0 816.9v1.8M179.2 829.9v1.8M186.6 819.1v1.8M186.0 824.3v1.8M187.0 821.6v1.8M199.0 819.5v1.8M191.5 817.0v1.8M200.5 811.4v1.8M183.8 827.7v1.8M207.6 816.4v1.8M194.8 817.6v1.8M189.5 822.1v1.8M184.4 822.0v1.8M206.5 819.9v1.8M196.4 822.4v1.8M200.6 808.5v1.8M201.7 812.5v1.8M182.3 832.4v1.8M193.5 825.7v1.8M209.8 812.2v1.8M207.0 811.8v1.8M188.3 820.1v1.8M183.7 831.3v1.8M202.9 814.6v1.8M191.5 824.3v1.8M196.6 820.6v1.8M197.2 824.7v1.8M203.8 815.7v1.8M189.8 812.5v1.8M176.0 831.3v1.8M175.7 832.9v1.8M179.0 823.8v1.8M181.3 816.5v1.8M178.0 824.6v1.8M174.5 838.3v1.8M182.9 823.5v1.8M179.5 828.3v1.8M184.6 809.6v1.8M184.0 818.1v1.8M181.6 822.3v1.8M175.3 830.2v1.8M180.2 823.4v1.8M178.4 816.2v1.8M173.0 835.8v1.8M179.6 829.3v1.8M146.6 853.3v1.8M144.7 868.9v1.8M138.1 921.0v1.8M149.8 884.1v1.8M141.1 790.7v1.8M175.6 882.7v1.8M143.8 768.3v1.8M174.7 795.2v1.8M116.1 892.2v1.8M176.2 880.6v1.8M139.8 803.8v1.8M130.3 822.6v1.8M175.5 812.0v1.8M203.0 869.2v1.8M160.1 880.2v1.8M176.7 875.8v1.8M176.7 828.1v1.8M144.0 849.1v1.8M207.2 807.4v1.8M177.4 804.1v1.8M173.6 832.6v1.8M163.5 836.1v1.8M171.1 847.2v1.8M125.5 820.5v1.8M185.1 865.1v1.8M116.0 925.6v1.8M136.5 866.1v1.8M184.3 822.3v1.8M100.2 847.3v1.8M139.7 851.5v1.8M117.7 872.1v1.8M161.5 857.7v1.8M142.6 942.5v1.8M155.8 864.5v1.8M137.8 869.5v1.8M175.0 761.0v1.8M128.5 941.8v1.8M140.1 842.4v1.8M169.7 883.5v1.8M182.4 863.9v1.8M148.6 932.4v1.8M139.0 837.8v1.8M161.3 874.4v1.8M185.6 835.4v1.8M137.3 879.0v1.8M180.1 924.0v1.8M164.9 826.2v1.8M132.3 811.0v1.8M174.7 793.7v1.8M156.7 817.4v1.8M171.1 795.3v1.8M172.0 763.2v1.8M143.5 869.5v1.8M163.8 817.4v1.8M175.8 860.4v1.8M173.5 824.5v1.8M186.2 855.6v1.8M149.4 850.9v1.8M157.2 847.9v1.8M121.5 809.7v1.8M110.5 908.8v1.8M174.7 870.1v1.8M149.5 828.7v1.8M120.9 925.3v1.8M152.7 935.1v1.8M176.1 852.3v1.8M164.1 843.4v1.8M141.4 848.2v1.8M157.7 782.0v1.8M155.1 857.1v1.8M161.5 754.7v1.8M128.9 866.1v1.8M141.6 830.1v1.8M141.0 785.7v1.8M164.0 824.8v1.8M158.2 922.8v1.8M149.3 939.1v1.8M141.4 870.3v1.8M175.2 845.7v1.8M168.8 844.9v1.8M149.4 858.9v1.8M155.3 835.0v1.8M121.0 858.9v1.8M125.8 880.7v1.8M127.2 898.1v1.8M167.2 823.4v1.8M143.0 821.1v1.8M122.9 837.8v1.8M168.5 850.4v1.8M179.3 862.5v1.8M148.8 812.3v1.8M169.2 868.3v1.8M152.1 811.3v1.8M127.8 868.0v1.8M174.8 880.1v1.8M150.9 814.2v1.8M171.0 832.2v1.8M126.0 868.8v1.8M156.0 875.5v1.8M147.2 904.1v1.8M153.0 878.8v1.8M181.7 850.3v1.8M144.7 843.7v1.8M209.3 760.8v1.8M150.2 880.0v1.8M162.0 832.6v1.8M178.5 879.2v1.8M149.3 900.0v1.8M152.9 920.3v1.8M113.6 853.0v1.8M156.0 823.1v1.8M116.6 906.2v1.8M157.2 816.3v1.8M151.9 864.5v1.8M134.9 870.6v1.8M133.3 884.1v1.8M117.2 847.6v1.8M177.2 780.8v1.8M134.9 859.4v1.8M170.3 832.7v1.8M149.4 871.4v1.8M141.2 831.0v1.8M175.1 820.2v1.8M173.9 834.9v1.8M195.1 805.3v1.8M144.0 854.3v1.8M169.6 765.7v1.8M163.8 847.8v1.8M156.3 839.6v1.8M160.6 868.8v1.8M170.1 828.1v1.8M148.4 881.9v1.8M124.7 774.5v1.8M191.1 831.4v1.8M150.2 777.6v1.8M145.3 930.3v1.8M131.0 836.3v1.8M125.3 806.4v1.8M163.6 814.9v1.8M181.5 780.9v1.8M182.5 770.3v1.8M151.7 798.7v1.8M138.4 865.6v1.8M130.1 897.3v1.8M161.5 849.6v1.8M138.7 837.7v1.8M151.7 810.1v1.8M147.2 820.3v1.8M178.5 790.5v1.8M168.6 828.5v1.8M139.4 842.4v1.8M178.3 850.5v1.8M170.6 865.4v1.8M108.9 903.6v1.8M152.1 875.5v1.8M68.3 946.1v1.8M231.1 846.6v1.8M208.8 799.5v1.8M180.9 756.7v1.8" stroke="#33ee22" stroke-width="4.4" stroke-linecap="round" fill="none"/>
<path d="M156.4 890.4v1.2M174.5 844.1v1.2M157.8 847.7v1.2M157.5 880.2v1.2M172.1 898.1v1.2M164.6 862.8v1.2M137.6 825.4v1.2M139.9 834.2v1.2M159.5 861.4v1.2M157.3 882.6v1.2M137.7 894.9v1.2M160.2 909.4v1.2M162.6 867.6v1.2M165.5 923.4v1.2M170.3 881.5v1.2M168.0 853.4v1.2M144.4 866.3v1.2M158.6 874.4v1.2M169.3 889.2v1.2M140.5 878.9v1.2M162.6 857.9v1.2M166.4 895.7v1.2M159.1 889.0v1.2M150.8 895.8v1.2M159.2 866.2v1.2M164.5 872.8v1.2M151.3 838.3v1.2M154.2 857.4v1.2M159.9 835.9v1.2M158.3 893.7v1.2M151.2 890.7v1.2M139.2 857.6v1.2M156.3 873.0v1.2M147.6 880.4v1.2M144.2 887.9v1.2M159.9 891.8v1.2M145.0 893.8v1.2M160.5 855.5v1.2M150.0 881.6v1.2M155.7 855.5v1.2M175.1 876.1v1.2M165.2 879.1v1.2M172.0 838.4v1.2M160.0 848.8v1.2M156.7 869.1v1.2M134.2 881.2v1.2M156.8 850.7v1.2M160.0 827.0v1.2M163.0 892.7v1.2M157.7 863.1v1.2M173.7 886.9v1.2M159.4 889.1v1.2M175.3 896.4v1.2M165.4 867.0v1.2M172.4 878.9v1.2M178.2 883.1v1.2M175.3 879.2v1.2M147.9 905.2v1.2M143.1 840.8v1.2M158.0 866.6v1.2M158.5 894.1v1.2M173.2 860.3v1.2M145.9 869.6v1.2M157.7 905.6v1.2M136.4 903.4v1.2M156.2 840.8v1.2M160.0 905.1v1.2M156.6 909.8v1.2M140.2 867.9v1.2M162.6 873.0v1.2M160.8 866.5v1.2M158.0 849.4v1.2M158.8 855.8v1.2M156.7 895.6v1.2M165.7 874.9v1.2M161.7 893.6v1.2M177.0 866.1v1.2M149.1 886.0v1.2M151.8 881.2v1.2M155.5 842.5v1.2M162.5 883.4v1.2M172.1 866.4v1.2M181.1 833.0v1.2M149.4 857.0v1.2M170.0 871.9v1.2M143.0 880.9v1.2M152.3 868.3v1.2M183.9 863.8v1.2M148.2 853.5v1.2M150.1 830.3v1.2M149.5 881.8v1.2M162.9 850.9v1.2M171.0 889.4v1.2M159.9 897.1v1.2M143.7 915.5v1.2M160.2 855.9v1.2M165.7 893.7v1.2M148.8 875.6v1.2M156.2 864.0v1.2M154.3 887.6v1.2M162.3 882.5v1.2M148.8 896.2v1.2M154.4 876.9v1.2M155.3 884.4v1.2M159.2 858.9v1.2M152.0 848.5v1.2M140.1 885.3v1.2M147.2 888.9v1.2M147.5 866.2v1.2M156.9 887.8v1.2M141.1 889.9v1.2M145.6 899.7v1.2M149.6 929.0v1.2M173.7 892.8v1.2M154.3 882.9v1.2M150.7 913.7v1.2M158.0 867.1v1.2M167.8 852.6v1.2M154.7 887.5v1.2M133.7 861.0v1.2M161.1 921.9v1.2M173.7 871.7v1.2M157.5 897.1v1.2M148.3 885.9v1.2M143.7 904.1v1.2M160.5 896.7v1.2M156.4 872.6v1.2M156.6 852.3v1.2M166.1 883.1v1.2M142.3 883.6v1.2M147.8 885.3v1.2M154.2 912.6v1.2M164.3 883.2v1.2M144.5 881.3v1.2M170.5 853.0v1.2M179.1 873.1v1.2M155.6 878.7v1.2M146.7 862.4v1.2M173.1 834.3v1.2M163.5 893.6v1.2M175.1 896.6v1.2M146.7 833.0v1.2M159.3 872.0v1.2M166.1 831.2v1.2M141.7 893.8v1.2M131.0 859.9v1.2M160.5 894.2v1.2M153.3 933.3v1.2M160.5 873.5v1.2M157.4 886.1v1.2M152.6 883.8v1.2M170.2 912.1v1.2M149.7 881.6v1.2M166.1 903.7v1.2M153.7 863.3v1.2M153.2 864.7v1.2M151.4 889.5v1.2M145.1 872.4v1.2M164.0 852.1v1.2M156.9 866.2v1.2M145.8 897.6v1.2M165.5 897.1v1.2M129.8 869.4v1.2M176.0 875.1v1.2M142.6 873.2v1.2M160.7 856.3v1.2M162.9 869.4v1.2M153.5 894.9v1.2M162.2 867.8v1.2M157.1 880.3v1.2M183.3 864.0v1.2M151.3 850.3v1.2M157.6 877.4v1.2M170.1 853.3v1.2M139.2 871.2v1.2M155.3 876.5v1.2M168.9 878.0v1.2M141.0 851.4v1.2M129.2 883.4v1.2M172.3 871.3v1.2M149.0 883.0v1.2M179.1 883.3v1.2M164.8 872.8v1.2M161.8 917.7v1.2M165.7 862.0v1.2M155.2 882.3v1.2M165.7 882.6v1.2M146.2 914.7v1.2M147.4 864.5v1.2M172.3 902.2v1.2M153.1 897.3v1.2M160.3 861.6v1.2M166.1 850.4v1.2M146.1 906.2v1.2M167.4 891.2v1.2M171.4 858.5v1.2M154.0 835.4v1.2M211.5 810.9v1.2M203.4 821.1v1.2M209.0 813.9v1.2M195.1 815.6v1.2M180.3 821.8v1.2M188.3 818.2v1.2M201.6 815.6v1.2M203.0 814.5v1.2M199.1 819.0v1.2M177.3 828.2v1.2M188.4 824.6v1.2M208.7 812.5v1.2M180.2 830.8v1.2M195.3 821.2v1.2M206.5 816.0v1.2M207.6 804.5v1.2M198.7 825.2v1.2M206.6 815.0v1.2M190.3 817.9v1.2M184.1 820.0v1.2M204.7 806.1v1.2M185.2 823.2v1.2M199.3 813.8v1.2M197.2 814.0v1.2M181.7 827.6v1.2M188.7 817.5v1.2M186.3 825.3v1.2M191.6 820.6v1.2M179.7 830.3v1.2M196.3 825.0v1.2M178.5 822.9v1.2M176.7 824.4v1.2M179.6 820.7v1.2M190.2 823.6v1.2M179.4 826.7v1.2M207.8 812.7v1.2M207.1 813.8v1.2M173.1 830.9v1.2M211.9 814.8v1.2M201.3 819.8v1.2M197.5 813.9v1.2M185.8 826.5v1.2M187.8 821.5v1.2M196.1 819.6v1.2M179.0 820.5v1.2M198.4 815.4v1.2M193.8 816.7v1.2M201.8 810.7v1.2M207.2 812.6v1.2M209.2 815.0v1.2M189.0 825.2v1.2M198.1 817.3v1.2M207.2 804.3v1.2M179.9 830.0v1.2M188.0 833.2v1.2M193.1 826.2v1.2M180.8 821.7v1.2M196.4 820.9v1.2M179.8 824.6v1.2M174.4 832.6v1.2M179.0 821.2v1.2M187.0 806.4v1.2M174.7 828.0v1.2M182.3 818.2v1.2M183.3 832.1v1.2M181.0 815.8v1.2M181.3 830.1v1.2M178.4 829.2v1.2M182.5 825.4v1.2M173.8 842.5v1.2M177.2 822.9v1.2M174.5 831.7v1.2M146.6 806.6v1.2M142.0 852.2v1.2M166.2 840.8v1.2M102.5 887.4v1.2M152.7 873.5v1.2M176.0 906.6v1.2M160.5 882.3v1.2M168.9 832.0v1.2M133.3 905.7v1.2M140.7 814.3v1.2M195.6 816.0v1.2M135.6 816.4v1.2M112.9 841.1v1.2M128.1 918.7v1.2M151.9 795.9v1.2M186.0 794.3v1.2M152.0 843.9v1.2M111.8 892.7v1.2M125.8 856.8v1.2M171.7 826.0v1.2M153.5 815.2v1.2M142.1 826.1v1.2M156.4 831.3v1.2M197.8 829.1v1.2M174.1 831.1v1.2M131.9 928.7v1.2M144.3 877.8v1.2M132.4 804.8v1.2M128.5 926.1v1.2M151.7 827.6v1.2M165.4 852.6v1.2M199.5 822.6v1.2M172.8 800.1v1.2M156.6 856.9v1.2M128.8 842.1v1.2M135.1 803.0v1.2M152.3 754.4v1.2M161.4 844.1v1.2M151.8 790.8v1.2M129.4 898.0v1.2M199.4 753.6v1.2M173.8 873.6v1.2M128.9 847.6v1.2M170.2 831.1v1.2M161.6 857.0v1.2M181.0 768.1v1.2M167.5 795.3v1.2M146.8 926.8v1.2M123.1 878.6v1.2M182.6 808.7v1.2M179.4 806.1v1.2M149.3 822.7v1.2M145.1 890.9v1.2M157.5 894.2v1.2M152.4 814.9v1.2M154.6 870.0v1.2M144.6 819.1v1.2M155.8 875.3v1.2M128.9 939.9v1.2M127.0 893.0v1.2M178.9 815.4v1.2M139.1 818.8v1.2M193.0 794.3v1.2M109.3 891.5v1.2M150.4 923.9v1.2M210.4 908.0v1.2M178.8 858.7v1.2M152.5 879.7v1.2M141.0 830.8v1.2M185.4 848.2v1.2M152.8 888.1v1.2M147.8 814.2v1.2M158.5 838.5v1.2M143.4 894.7v1.2M138.8 874.2v1.2M144.3 891.2v1.2M136.5 924.7v1.2M177.3 824.1v1.2M156.9 844.0v1.2M129.9 859.7v1.2M124.3 885.4v1.2M139.2 926.1v1.2M123.6 796.7v1.2M164.0 876.6v1.2M109.1 909.6v1.2M191.6 782.2v1.2M174.3 830.9v1.2M173.6 803.0v1.2M163.6 825.7v1.2M136.7 817.9v1.2M144.5 820.2v1.2M136.4 859.1v1.2M152.6 833.1v1.2M163.4 890.6v1.2M164.9 894.0v1.2M146.5 880.7v1.2M114.7 805.8v1.2M141.7 838.2v1.2M163.1 856.5v1.2M119.4 851.1v1.2M139.3 829.2v1.2M160.7 893.3v1.2M206.8 796.4v1.2M136.0 866.9v1.2M183.6 805.8v1.2M153.4 849.8v1.2M149.4 885.0v1.2M166.8 805.3v1.2M135.5 886.3v1.2M189.6 792.4v1.2M150.0 935.4v1.2M133.7 833.2v1.2M167.9 801.6v1.2M146.1 801.8v1.2M157.1 878.4v1.2M179.0 753.7v1.2M144.6 822.1v1.2M171.1 773.3v1.2M167.4 904.0v1.2M132.2 906.1v1.2M147.4 815.8v1.2M124.6 831.5v1.2M179.7 838.3v1.2M118.0 851.8v1.2M155.3 798.5v1.2M139.7 854.2v1.2M133.9 821.9v1.2M187.9 842.0v1.2M139.1 864.4v1.2M179.9 774.1v1.2M144.5 812.0v1.2M135.5 875.0v1.2M155.6 859.2v1.2M164.1 856.4v1.2M158.1 839.1v1.2M136.9 877.4v1.2M184.5 840.4v1.2M132.5 898.4v1.2M179.0 823.9v1.2M140.3 846.7v1.2M153.0 877.9v1.2M144.8 787.5v1.2M192.8 832.2v1.2M105.0 921.4v1.2M215.7 894.0v1.2M213.2 803.2v1.2M134.4 749.1v1.2" stroke="#fb36fb" stroke-width="3.2" stroke-linecap="round" fill="none"/>
<path d="M166.5 895.7v1.5M160.2 869.7v1.5M134.3 878.4v1.5M143.6 874.5v1.5M151.2 855.0v1.5M149.1 857.6v1.5M165.6 829.7v1.5M181.7 891.7v1.5M150.8 886.1v1.5M168.5 874.2v1.5M180.2 852.5v1.5M170.8 831.8v1.5M160.9 864.3v1.5M150.8 851.6v1.5M162.1 881.5v1.5M154.7 870.7v1.5M159.8 871.0v1.5M135.1 835.6v1.5M199.4 872.6v1.5M151.7 895.2v1.5M133.3 886.1v1.5M148.5 863.0v1.5M142.9 871.7v1.5M160.0 869.8v1.5M156.8 870.4v1.5M175.1 860.9v1.5M154.9 860.7v1.5M151.7 855.9v1.5M164.1 900.8v1.5M148.1 860.2v1.5M155.3 885.5v1.5M152.0 890.5v1.5M149.4 887.7v1.5M151.2 869.4v1.5M128.6 876.6v1.5M134.2 833.4v1.5M165.6 866.2v1.5M155.9 869.3v1.5M135.9 854.9v1.5M165.8 862.9v1.5M154.7 916.3v1.5M176.9 880.3v1.5M160.8 886.2v1.5M168.0 886.1v1.5M153.4 880.7v1.5M134.4 868.7v1.5M167.0 865.0v1.5M152.0 892.4v1.5M166.8 895.3v1.5M153.4 847.7v1.5M171.8 890.4v1.5M177.3 894.3v1.5M146.8 867.4v1.5M150.3 875.5v1.5M152.0 880.3v1.5M138.7 902.7v1.5M169.4 840.2v1.5M158.7 865.6v1.5M155.7 888.2v1.5M163.9 890.6v1.5M144.1 887.3v1.5M166.0 842.8v1.5M173.5 878.2v1.5M139.5 894.6v1.5M145.3 862.7v1.5M152.3 890.2v1.5M150.3 901.3v1.5M170.4 827.3v1.5M156.1 879.5v1.5M168.1 877.8v1.5M150.6 892.5v1.5M151.8 851.4v1.5M150.5 858.8v1.5M163.2 822.8v1.5M165.0 878.2v1.5M153.0 907.9v1.5M152.6 890.0v1.5M152.7 870.1v1.5M167.8 875.9v1.5M162.3 844.6v1.5M170.0 860.0v1.5M165.8 856.8v1.5M154.7 870.8v1.5M168.6 907.2v1.5M153.1 887.5v1.5M172.6 892.2v1.5M151.0 843.6v1.5M162.8 868.8v1.5M151.3 834.0v1.5M161.7 859.1v1.5M173.3 855.3v1.5M136.6 875.7v1.5M185.4 854.1v1.5M149.8 858.2v1.5M157.7 851.3v1.5M164.3 866.8v1.5M151.1 876.9v1.5M158.3 868.7v1.5M165.8 887.0v1.5M126.2 884.1v1.5M165.5 861.9v1.5M155.1 852.6v1.5M148.2 868.0v1.5M157.8 874.2v1.5M151.7 876.9v1.5M151.0 867.0v1.5M143.9 871.3v1.5M150.9 831.5v1.5M154.1 873.2v1.5M160.6 901.8v1.5M152.3 872.2v1.5M160.6 914.0v1.5M150.6 869.6v1.5M163.7 882.8v1.5M161.5 847.4v1.5M163.6 876.1v1.5M175.8 882.4v1.5M159.7 866.8v1.5M152.6 914.9v1.5M174.0 842.0v1.5M148.9 858.9v1.5M142.9 854.9v1.5M161.5 892.4v1.5M152.4 901.3v1.5M126.0 883.3v1.5M144.8 887.1v1.5M150.3 851.3v1.5M154.5 862.2v1.5M142.7 886.6v1.5M169.1 870.4v1.5M144.4 867.7v1.5M130.4 874.4v1.5M137.5 883.8v1.5M158.1 858.1v1.5M170.1 821.2v1.5M133.3 869.8v1.5M161.2 884.0v1.5M171.6 871.0v1.5M158.3 897.7v1.5M142.2 850.6v1.5M145.9 893.9v1.5M163.9 872.4v1.5M136.7 870.4v1.5M153.8 874.4v1.5M155.9 878.3v1.5M158.0 838.7v1.5M166.2 869.8v1.5M168.3 888.0v1.5M152.6 886.7v1.5M175.3 816.2v1.5M168.8 869.0v1.5M161.1 898.3v1.5M166.3 876.5v1.5M135.1 843.1v1.5M162.3 864.5v1.5M159.7 890.2v1.5M157.4 885.9v1.5M148.9 882.3v1.5M176.3 869.6v1.5M156.5 873.2v1.5M138.9 910.6v1.5M137.0 933.7v1.5M166.2 848.6v1.5M154.0 880.6v1.5M154.5 870.5v1.5M143.1 868.9v1.5M181.2 914.3v1.5M121.4 849.0v1.5M148.2 873.2v1.5M172.0 915.4v1.5M174.9 878.2v1.5M155.4 848.8v1.5M170.7 880.9v1.5M181.2 848.3v1.5M135.5 866.1v1.5M153.3 867.8v1.5M133.0 878.8v1.5M144.2 845.2v1.5M160.8 930.4v1.5M156.9 885.7v1.5M164.5 900.2v1.5M169.3 882.0v1.5M171.4 885.5v1.5M179.2 914.1v1.5M161.7 885.9v1.5M177.2 892.6v1.5M159.8 898.5v1.5M165.3 887.0v1.5M172.9 840.7v1.5M148.4 840.4v1.5M146.7 863.6v1.5M159.9 865.6v1.5M180.9 881.9v1.5M157.8 888.2v1.5M153.9 863.7v1.5M169.4 873.5v1.5M161.5 878.8v1.5M152.1 894.9v1.5M166.4 871.0v1.5M146.0 894.1v1.5M156.6 830.0v1.5M149.9 912.8v1.5M143.1 880.9v1.5M165.6 887.1v1.5M152.0 889.3v1.5M156.4 906.9v1.5M159.4 883.6v1.5M165.3 869.0v1.5M160.4 877.7v1.5M207.2 809.6v1.5M200.5 813.3v1.5M181.6 817.7v1.5M184.0 825.3v1.5M186.1 824.7v1.5M201.3 818.0v1.5M200.9 819.2v1.5M211.3 816.8v1.5M205.5 812.8v1.5M179.5 823.0v1.5M203.5 815.2v1.5M196.8 818.5v1.5M196.9 820.5v1.5M199.1 817.9v1.5M207.8 813.7v1.5M206.5 813.7v1.5M186.9 821.3v1.5M201.5 813.9v1.5M194.8 818.0v1.5M198.5 821.1v1.5M188.9 828.3v1.5M184.6 825.7v1.5M186.0 825.2v1.5M208.6 811.0v1.5M190.3 824.4v1.5M205.8 815.2v1.5M206.5 820.0v1.5M195.7 826.5v1.5M175.2 823.9v1.5M184.2 823.7v1.5M181.4 823.2v1.5M196.5 819.8v1.5M187.1 825.3v1.5M192.0 823.9v1.5M192.4 815.4v1.5M181.8 826.9v1.5M204.4 812.4v1.5M170.6 839.9v1.5M186.1 817.8v1.5M181.7 815.9v1.5M170.9 834.8v1.5M186.1 828.0v1.5M183.3 828.0v1.5M176.4 835.5v1.5M181.0 825.8v1.5M177.1 840.5v1.5M179.8 828.1v1.5M160.7 840.8v1.5M159.8 821.1v1.5M138.3 847.1v1.5M123.1 922.8v1.5M165.2 786.4v1.5M152.1 841.9v1.5M146.7 893.9v1.5M160.3 893.0v1.5M170.3 772.7v1.5M153.3 852.1v1.5M137.1 787.3v1.5M119.1 922.5v1.5M161.1 809.2v1.5M130.2 923.3v1.5M164.6 891.0v1.5M171.1 848.7v1.5M159.7 817.4v1.5M131.9 920.0v1.5M174.5 846.3v1.5M157.8 794.0v1.5M165.1 887.5v1.5M165.4 779.4v1.5M160.4 853.6v1.5M154.4 892.4v1.5M132.1 845.7v1.5M162.8 868.1v1.5M163.7 925.3v1.5M138.0 914.7v1.5M107.8 885.0v1.5M192.8 796.5v1.5M128.5 906.3v1.5M142.8 855.9v1.5M162.9 765.2v1.5M142.4 787.4v1.5M162.5 857.8v1.5M115.7 907.7v1.5M137.6 873.3v1.5M176.1 887.5v1.5M102.0 905.2v1.5M133.7 932.4v1.5M108.2 909.4v1.5M135.9 866.4v1.5M135.5 858.5v1.5M194.0 789.9v1.5M129.6 920.8v1.5M154.4 904.1v1.5M164.6 824.6v1.5M205.2 783.8v1.5M190.1 840.5v1.5M181.9 846.0v1.5M153.6 830.1v1.5M152.3 851.3v1.5M165.9 901.2v1.5M175.9 828.6v1.5M131.7 934.7v1.5M163.8 887.4v1.5M148.6 864.3v1.5M127.3 819.9v1.5M151.5 855.9v1.5M139.7 869.1v1.5M162.7 826.7v1.5M161.0 903.1v1.5M123.6 827.9v1.5M152.3 910.3v1.5M130.5 918.3v1.5M111.9 892.1v1.5M161.9 844.4v1.5M132.7 885.8v1.5M120.9 912.3v1.5M144.7 862.0v1.5M185.1 907.1v1.5M124.0 927.6v1.5M144.3 877.8v1.5M174.8 799.8v1.5M155.3 873.3v1.5M134.9 894.9v1.5M148.7 841.8v1.5M179.8 895.3v1.5M170.8 837.8v1.5M143.5 852.1v1.5M149.6 887.3v1.5M145.2 912.5v1.5M170.2 851.2v1.5M142.1 829.7v1.5M194.7 891.0v1.5M156.5 877.1v1.5M163.0 944.2v1.5M160.9 812.2v1.5M171.7 846.0v1.5M135.2 870.2v1.5M164.6 831.9v1.5M146.4 881.7v1.5M164.8 896.8v1.5M128.1 859.5v1.5M178.1 869.9v1.5M166.7 852.1v1.5M136.3 933.4v1.5M123.5 883.3v1.5M167.5 814.7v1.5M131.4 810.9v1.5M187.3 830.1v1.5M148.5 823.4v1.5M135.7 905.1v1.5M141.0 787.7v1.5M153.9 831.3v1.5M178.1 824.0v1.5M109.8 895.8v1.5M152.4 909.0v1.5M150.7 920.6v1.5M154.9 926.6v1.5M158.1 802.1v1.5M183.4 797.3v1.5M135.1 808.5v1.5M120.3 826.2v1.5M136.3 855.3v1.5M101.3 899.0v1.5M161.5 815.7v1.5M133.7 909.8v1.5M159.9 871.5v1.5M120.0 852.6v1.5M133.6 866.9v1.5M130.6 920.5v1.5M174.3 839.8v1.5M185.1 847.6v1.5M125.0 876.5v1.5M148.1 840.8v1.5M134.5 847.5v1.5M173.8 815.3v1.5M162.0 828.8v1.5M145.0 903.5v1.5M145.0 850.0v1.5M153.7 840.9v1.5M139.6 836.3v1.5M191.6 868.2v1.5M182.5 781.9v1.5M175.7 862.1v1.5M162.9 837.4v1.5M156.7 926.0v1.5M196.6 881.7v1.5M158.5 825.1v1.5M145.1 831.0v1.5M141.3 904.9v1.5M144.6 837.3v1.5M136.7 897.8v1.5M172.7 928.9v1.5M143.7 861.8v1.5M175.8 850.9v1.5M136.6 823.0v1.5M155.7 862.4v1.5M105.7 875.9v1.5M159.1 890.6v1.5M54.8 932.6v1.5M89.4 954.7v1.5M98.0 912.6v1.5M220.9 882.5v1.5M215.7 806.4v1.5M201.8 893.9v1.5" stroke="#fb36fb" stroke-width="3.8" stroke-linecap="round" fill="none"/>
<path d="M154.1 900.9v1.8M161.7 865.9v1.8M176.3 870.1v1.8M159.3 868.4v1.8M153.4 868.5v1.8M144.8 870.2v1.8M164.7 897.1v1.8M145.2 859.9v1.8M138.3 825.2v1.8M160.1 856.8v1.8M158.1 882.7v1.8M159.4 871.9v1.8M172.7 864.5v1.8M173.0 888.9v1.8M155.0 892.5v1.8M167.1 858.4v1.8M152.7 876.0v1.8M173.4 827.4v1.8M155.5 897.9v1.8M166.1 865.0v1.8M162.7 888.5v1.8M159.2 894.2v1.8M160.4 891.8v1.8M153.1 865.1v1.8M152.6 847.2v1.8M166.8 885.3v1.8M182.0 895.3v1.8M149.8 868.5v1.8M165.6 853.6v1.8M155.7 882.7v1.8M145.4 859.0v1.8M137.3 877.8v1.8M165.7 853.4v1.8M179.1 900.3v1.8M178.5 866.8v1.8M145.0 907.3v1.8M174.9 845.2v1.8M157.0 900.2v1.8M156.8 873.8v1.8M150.9 878.7v1.8M165.4 899.0v1.8M166.7 883.3v1.8M175.0 867.9v1.8M145.1 884.5v1.8M141.5 853.1v1.8M156.4 898.1v1.8M139.8 901.5v1.8M154.1 845.4v1.8M143.3 891.7v1.8M152.0 866.1v1.8M142.6 867.0v1.8M156.2 869.6v1.8M146.8 881.9v1.8M178.1 859.8v1.8M155.1 903.7v1.8M157.9 854.3v1.8M145.1 871.4v1.8M164.8 852.8v1.8M151.9 867.9v1.8M160.1 906.0v1.8M163.7 907.1v1.8M173.2 828.4v1.8M152.3 862.8v1.8M155.0 916.4v1.8M160.4 895.0v1.8M136.9 896.6v1.8M146.2 875.8v1.8M168.8 884.3v1.8M146.7 867.8v1.8M170.8 844.1v1.8M164.0 869.7v1.8M168.4 851.8v1.8M143.8 914.3v1.8M151.2 870.3v1.8M164.3 903.8v1.8M139.0 888.7v1.8M156.7 855.8v1.8M172.2 870.4v1.8M153.3 890.0v1.8M156.6 870.0v1.8M146.3 868.6v1.8M165.3 854.5v1.8M150.3 898.9v1.8M165.7 857.2v1.8M154.3 847.1v1.8M145.9 881.1v1.8M155.8 883.3v1.8M165.1 912.5v1.8M159.7 864.6v1.8M141.0 860.5v1.8M158.7 856.1v1.8M153.9 878.9v1.8M148.2 895.6v1.8M157.6 854.1v1.8M164.2 878.4v1.8M167.8 881.8v1.8M163.7 877.0v1.8M155.8 891.3v1.8M159.3 882.6v1.8M172.7 825.2v1.8M155.0 880.0v1.8M164.1 902.0v1.8M160.2 841.4v1.8M150.6 852.4v1.8M155.8 851.7v1.8M157.7 870.7v1.8M145.6 884.2v1.8M151.7 872.3v1.8M162.3 870.8v1.8M158.5 873.4v1.8M174.7 852.8v1.8M164.4 872.1v1.8M154.8 866.0v1.8M146.5 916.6v1.8M170.7 855.3v1.8M157.7 833.2v1.8M164.5 898.2v1.8M162.0 878.4v1.8M169.9 869.4v1.8M163.3 894.6v1.8M159.3 853.4v1.8M153.2 893.8v1.8M146.3 874.5v1.8M161.1 878.7v1.8M140.5 861.0v1.8M135.1 831.9v1.8M179.5 844.0v1.8M156.4 854.1v1.8M154.2 883.5v1.8M159.6 858.0v1.8M166.0 903.2v1.8M160.6 879.4v1.8M158.5 889.8v1.8M149.0 879.4v1.8M139.8 855.3v1.8M156.1 886.2v1.8M174.6 840.5v1.8M152.2 849.1v1.8M154.0 853.5v1.8M150.4 872.0v1.8M170.8 863.2v1.8M165.5 893.0v1.8M150.7 868.8v1.8M171.6 901.0v1.8M154.9 883.0v1.8M149.6 850.2v1.8M159.7 926.7v1.8M148.0 881.9v1.8M151.0 926.9v1.8M157.2 862.1v1.8M146.5 910.8v1.8M160.6 881.6v1.8M157.5 879.0v1.8M169.9 884.1v1.8M155.3 881.5v1.8M169.5 869.4v1.8M161.7 897.1v1.8M163.3 887.9v1.8M159.8 928.0v1.8M180.9 866.7v1.8M145.0 884.2v1.8M147.0 845.6v1.8M134.4 889.8v1.8M180.9 862.1v1.8M176.1 867.8v1.8M149.3 861.2v1.8M154.3 877.5v1.8M157.4 895.3v1.8M145.2 886.2v1.8M160.0 810.9v1.8M161.7 893.8v1.8M179.4 853.6v1.8M141.6 890.7v1.8M151.6 871.0v1.8M154.3 887.9v1.8M195.6 817.9v1.8M192.9 820.8v1.8M208.9 814.2v1.8M195.2 818.4v1.8M187.7 827.6v1.8M193.1 821.7v1.8M202.0 815.6v1.8M184.2 822.5v1.8M176.7 832.4v1.8M177.0 824.6v1.8M193.2 817.2v1.8M179.6 829.6v1.8M187.4 819.8v1.8M186.1 823.3v1.8M187.2 820.8v1.8M200.0 818.7v1.8M191.0 816.6v1.8M199.7 811.8v1.8M184.1 826.9v1.8M207.9 815.3v1.8M193.9 818.0v1.8M189.3 821.1v1.8M185.9 822.1v1.8M205.2 819.6v1.8M195.8 822.9v1.8M199.8 807.9v1.8M200.9 813.0v1.8M180.8 833.0v1.8M209.0 812.3v1.8M208.3 811.1v1.8M189.0 819.1v1.8M183.0 830.8v1.8M203.8 814.6v1.8M191.7 824.4v1.8M197.1 820.7v1.8M196.6 825.8v1.8M203.0 815.5v1.8M191.3 811.9v1.8M176.5 832.4v1.8M177.7 824.4v1.8M181.6 815.5v1.8M178.2 825.1v1.8M173.6 838.8v1.8M182.4 823.0v1.8M179.9 827.7v1.8M185.8 810.6v1.8M184.1 818.5v1.8M181.0 822.2v1.8M176.6 829.9v1.8M180.1 823.9v1.8M179.4 816.7v1.8M174.0 834.9v1.8M180.4 828.5v1.8M147.5 852.8v1.8M136.9 920.5v1.8M141.2 791.2v1.8M176.4 881.6v1.8M144.8 767.8v1.8M174.4 795.2v1.8M116.7 892.7v1.8M175.6 880.1v1.8M138.8 803.2v1.8M130.5 823.3v1.8M176.0 812.0v1.8M202.1 870.3v1.8M158.3 881.2v1.8M175.7 876.9v1.8M177.8 827.2v1.8M143.8 850.0v1.8M207.9 807.1v1.8M178.3 804.6v1.8M172.8 833.4v1.8M164.4 837.0v1.8M170.3 847.0v1.8M126.0 819.6v1.8M185.1 864.7v1.8M116.6 925.1v1.8M136.1 866.6v1.8M185.0 823.1v1.8M99.2 846.4v1.8M139.6 852.6v1.8M118.4 871.6v1.8M160.4 858.6v1.8M142.4 941.6v1.8M155.5 865.3v1.8M136.4 869.9v1.8M175.0 760.7v1.8M128.4 941.8v1.8M139.4 843.4v1.8M170.4 884.4v1.8M182.4 864.8v1.8M147.2 931.6v1.8M139.3 838.7v1.8M160.7 874.3v1.8M185.0 834.7v1.8M138.7 880.0v1.8M179.3 923.5v1.8M164.4 826.2v1.8M131.0 810.5v1.8M174.0 793.9v1.8M156.4 816.5v1.8M172.0 794.8v1.8M173.6 763.0v1.8M165.0 816.9v1.8M176.8 859.4v1.8M174.4 824.9v1.8M187.1 856.5v1.8M148.2 850.7v1.8M156.0 848.4v1.8M122.9 809.7v1.8M110.9 909.6v1.8M174.4 870.5v1.8M148.5 827.6v1.8M120.0 925.7v1.8M153.7 936.1v1.8M174.4 851.7v1.8M164.3 843.1v1.8M142.1 849.0v1.8M158.8 781.9v1.8M155.1 856.0v1.8M161.9 755.1v1.8M128.6 866.4v1.8M142.9 829.7v1.8M142.0 784.8v1.8M162.7 824.8v1.8M150.2 939.5v1.8M141.6 870.1v1.8M174.2 846.5v1.8M169.0 845.2v1.8M149.6 858.4v1.8M154.4 835.6v1.8M121.5 859.3v1.8M126.0 880.3v1.8M126.5 898.8v1.8M167.9 824.3v1.8M143.7 822.0v1.8M122.0 836.9v1.8M169.6 851.2v1.8M179.4 862.9v1.8M148.9 812.0v1.8M168.9 867.9v1.8M151.7 810.3v1.8M129.5 867.3v1.8M174.7 881.1v1.8M151.8 813.6v1.8M170.9 831.5v1.8M126.3 869.1v1.8M156.5 875.3v1.8M148.2 903.8v1.8M154.1 879.5v1.8M181.8 850.6v1.8M145.0 843.6v1.8M209.7 761.5v1.8M149.9 880.1v1.8M160.3 833.7v1.8M179.5 878.6v1.8M154.3 919.9v1.8M113.1 852.6v1.8M157.0 823.6v1.8M117.5 906.9v1.8M152.3 865.0v1.8M133.1 884.2v1.8M176.8 780.8v1.8M134.2 860.1v1.8M171.3 833.7v1.8M149.3 871.7v1.8M142.7 830.0v1.8M175.2 834.9v1.8M196.3 806.4v1.8M144.1 855.0v1.8M169.5 765.1v1.8M164.5 846.9v1.8M156.0 839.5v1.8M161.1 868.0v1.8M171.3 827.9v1.8M149.2 882.1v1.8M125.4 774.1v1.8M192.5 831.9v1.8M151.4 778.4v1.8M146.3 931.3v1.8M130.8 836.0v1.8M124.3 805.5v1.8M163.5 814.1v1.8M182.3 780.3v1.8M182.7 769.4v1.8M152.9 797.7v1.8M138.3 865.8v1.8M130.0 897.5v1.8M161.9 849.5v1.8M138.2 837.3v1.8M151.2 811.1v1.8M148.0 819.3v1.8M178.1 790.3v1.8M169.9 827.5v1.8M139.0 842.9v1.8M170.1 864.7v1.8M107.4 904.6v1.8M152.5 875.6v1.8M68.6 946.5v1.8M231.2 845.6v1.8M209.8 799.5v1.8" stroke="#fb36fb" stroke-width="4.4" stroke-linecap="round" fill="none"/>
<line x1="255.5" y1="744.5" x2="255.5" y2="963.0" stroke="#777" stroke-width="1.0" />
<line x1="52.3" y1="963.0" x2="256.0" y2="963.0" stroke="#777" stroke-width="1.0" />
<line x1="255.5" y1="769.7" x2="259.5" y2="769.7" stroke="#777" stroke-width="1.0" />
<line x1="255.5" y1="803.1" x2="259.5" y2="803.1" stroke="#777" stroke-width="1.0" />
<line x1="255.5" y1="836.5" x2="259.5" y2="836.5" stroke="#777" stroke-width="1.0" />
<text x="260.0" y="841.7" font-size="14.5" fill="#111">115</text>
<line x1="255.5" y1="869.9" x2="259.5" y2="869.9" stroke="#777" stroke-width="1.0" />
<text x="260.0" y="875.1" font-size="14.5" fill="#111">120</text>
<line x1="255.5" y1="903.3" x2="259.5" y2="903.3" stroke="#777" stroke-width="1.0" />
<text x="260.0" y="908.5" font-size="14.5" fill="#111">125</text>
<line x1="255.5" y1="936.7" x2="259.5" y2="936.7" stroke="#777" stroke-width="1.0" />
<text x="260.0" y="941.9" font-size="14.5" fill="#111">130</text>
<line x1="61.7" y1="963.0" x2="61.7" y2="966.5" stroke="#777" stroke-width="1.0" />
<text x="63.5" y="979.8" font-size="14.5" fill="#111" text-anchor="middle">11</text>
<line x1="96.3" y1="963.0" x2="96.3" y2="966.5" stroke="#777" stroke-width="1.0" />
<text x="98.1" y="979.8" font-size="14.5" fill="#111" text-anchor="middle">10</text>
<line x1="130.9" y1="963.0" x2="130.9" y2="966.5" stroke="#777" stroke-width="1.0" />
<text x="132.7" y="979.8" font-size="14.5" fill="#111" text-anchor="middle">9</text>
<line x1="165.5" y1="963.0" x2="165.5" y2="966.5" stroke="#777" stroke-width="1.0" />
<text x="167.3" y="979.8" font-size="14.5" fill="#111" text-anchor="middle">8</text>
<line x1="200.1" y1="963.0" x2="200.1" y2="966.5" stroke="#777" stroke-width="1.0" />
<text x="201.9" y="979.8" font-size="14.5" fill="#111" text-anchor="middle">7</text>
<line x1="234.7" y1="963.0" x2="234.7" y2="966.5" stroke="#777" stroke-width="1.0" />
<text x="212" y="979.8" font-size="15.2" fill="#111"><tspan font-size="9.8" dy="-5">1</tspan><tspan dy="5">H(ppm)</tspan></text>
<text x="276.5" y="770" font-size="14.5" fill="#111" text-anchor="middle" transform="rotate(-90 276.5 770)"><tspan font-size="9.5" dy="-5">15</tspan><tspan dy="5">N(ppm)</tspan></text>
<rect x="31.7" y="756.1" width="11.0" height="11.0" fill="#000"/>
<rect x="31.7" y="769.9" width="11.0" height="10.5" fill="#33ee22"/>
<rect x="31.7" y="783.5" width="11.0" height="11.0" fill="#fb36fb"/>
<text x="47.0" y="768.2" font-size="15" fill="#111">1:00</text>
<text x="47.0" y="782.4" font-size="15" fill="#111">1:8 (PenG)</text>
<text x="47.0" y="796.6" font-size="15" fill="#111">1:8:80 (SP1)</text>
<text x="305.0" y="515.6" font-size="25" fill="#111">j</text>
<text x="357.4" y="511.8" font-size="15"><tspan fill="#4a72c2">PBP5</tspan><tspan fill="#111">:PenG </tspan><tspan fill="#111" font-style="italic">vs</tspan><tspan fill="#4a72c2"> PBP5</tspan><tspan fill="#111">:PenG:SP1</tspan></text>
<text x="364" y="534.6" font-size="14.8" fill="#4a72c2"><tspan font-size="9.8" dy="-5">15</tspan><tspan dy="5">N-</tspan><tspan font-size="9.5" dy="-5">1</tspan><tspan dy="5">H</tspan></text>
<path d="M356.2 609.8v-9.0M371.4 609.8v-7.9M375.3 609.8v-7.4M383.3 609.8v-5.3M390.4 609.8v-3.8M391.1 609.8v-7.7M402.3 609.8v-19.1M406.9 609.8v-2.4M418.2 609.8v-8.3M419.0 609.8v-4.4M424.9 609.8v-0.8M429.5 609.8v-8.2M454.4 609.8v-8.9M469.1 609.8v-18.3M469.5 609.8v-27.1M479.4 609.8v-0.5M499.1 609.8v-5.4M506.1 609.8v-2.3M506.8 609.8v-0.8M509.1 609.8v-17.8M511.3 609.8v-21.0M512.7 609.8v-3.6M514.3 609.8v-8.4M515.2 609.8v-8.3M527.1 609.8v-7.6M551.9 609.8v-13.6M558.2 609.8v-3.2M574.6 609.8v-3.0M579.3 609.8v-16.0M580.0 609.8v-11.2M583.1 609.8v-1.2M589.3 609.8v-26.1M607.8 609.8v-5.6M617.1 609.8v-4.8M620.7 609.8v-2.1M633.0 609.8v-2.3M636.1 609.8v-1.8" stroke="#9a9a9a" stroke-width="1.1" fill="none"/>
<path d="M352.7 609.8v-1.5M353.1 609.8v-2.8M353.8 609.8v-1.5M354.9 609.8v-5.0M355.6 609.8v-10.3M357.0 609.8v-13.8M357.7 609.8v-2.6M358.4 609.8v-3.8M359.3 609.8v-4.0M360.0 609.8v-1.8M360.7 609.8v-8.3M361.4 609.8v-5.9M362.5 609.8v-19.1M363.2 609.8v-4.8M363.7 609.8v-6.7M364.5 609.8v-1.7M365.5 609.8v-3.5M366.0 609.8v-5.8M366.8 609.8v-4.1M367.6 609.8v-10.6M368.3 609.8v-8.7M369.8 609.8v-12.3M370.5 609.8v-13.0M372.3 609.8v-17.1M372.8 609.8v-4.8M373.6 609.8v-5.9M374.3 609.8v-3.9M376.0 609.8v-6.3M376.6 609.8v-0.9M377.3 609.8v-14.8M378.0 609.8v-2.5M378.8 609.8v-10.0M379.8 609.8v-8.9M380.5 609.8v-4.5M381.1 609.8v-6.0M382.1 609.8v-6.2M382.9 609.8v-4.3M384.2 609.8v-14.1M385.0 609.8v-1.1M385.8 609.8v-5.8M386.5 609.8v-2.6M387.3 609.8v-10.3M389.4 609.8v-5.5M391.8 609.8v-2.2M392.7 609.8v-9.9M393.5 609.8v-3.7M394.9 609.8v-8.9M395.8 609.8v-11.8M396.2 609.8v-1.4M397.2 609.8v-7.6M400.2 609.8v-16.0M400.9 609.8v-2.2M401.6 609.8v-4.5M403.2 609.8v-6.1M403.9 609.8v-9.5M404.6 609.8v-9.7M405.6 609.8v-2.0M406.2 609.8v-1.7M407.7 609.8v-8.7M408.3 609.8v-14.8M409.0 609.8v-6.1M410.0 609.8v-5.2M410.9 609.8v-0.6M411.3 609.8v-14.5M412.4 609.8v-10.6M413.0 609.8v-7.8M413.8 609.8v-14.9M415.1 609.8v-7.1M416.1 609.8v-1.9M416.7 609.8v-1.6M417.7 609.8v-2.3M419.6 609.8v-1.9M420.4 609.8v-11.9M421.3 609.8v-14.6M422.2 609.8v-15.2M422.9 609.8v-14.4M423.6 609.8v-0.9M424.5 609.8v-6.2M426.0 609.8v-9.3M426.6 609.8v-2.6M428.1 609.8v-2.6M428.9 609.8v-4.1M430.3 609.8v-5.8M430.9 609.8v-1.6M431.7 609.8v-1.5M435.0 609.8v-11.7M435.6 609.8v-1.5M436.3 609.8v-4.3M437.3 609.8v-1.1M438.0 609.8v-1.6M439.3 609.8v-5.4M440.0 609.8v-22.8M440.9 609.8v-28.5M442.3 609.8v-12.2M443.2 609.8v-12.9M444.1 609.8v-12.4M444.9 609.8v-23.7M445.4 609.8v-13.3M446.1 609.8v-23.3M447.0 609.8v-4.3M447.8 609.8v-5.2M448.4 609.8v-6.4M449.4 609.8v-4.0M450.0 609.8v-14.6M450.9 609.8v-14.3M451.3 609.8v-2.9M453.0 609.8v-8.1M453.7 609.8v-8.0M456.1 609.8v-15.6M457.5 609.8v-16.2M458.2 609.8v-5.9M459.1 609.8v-22.1M460.0 609.8v-2.1M460.5 609.8v-28.5M461.4 609.8v-17.1M462.2 609.8v-4.5M462.8 609.8v-27.0M463.5 609.8v-7.8M464.2 609.8v-16.7M465.3 609.8v-17.0M466.5 609.8v-7.5M467.3 609.8v-9.6M468.3 609.8v-9.6M470.6 609.8v-10.3M471.2 609.8v-2.7M472.7 609.8v-6.7M473.4 609.8v-1.1M474.3 609.8v-9.3M474.9 609.8v-6.5M475.8 609.8v-4.6M476.4 609.8v-5.5M477.8 609.8v-1.3M478.8 609.8v-16.1M481.0 609.8v-14.1M481.6 609.8v-28.5M482.5 609.8v-9.3M483.3 609.8v-5.2M484.1 609.8v-7.0M485.0 609.8v-9.6M485.4 609.8v-17.5M486.5 609.8v-23.1M487.0 609.8v-14.6M487.8 609.8v-0.9M488.5 609.8v-3.0M489.4 609.8v-3.3M490.2 609.8v-0.4M491.0 609.8v-1.1M491.8 609.8v-2.0M492.4 609.8v-8.3M493.0 609.8v-2.4M493.7 609.8v-3.4M494.7 609.8v-19.6M495.3 609.8v-4.6M496.8 609.8v-2.4M497.7 609.8v-5.9M498.3 609.8v-4.3M499.9 609.8v-2.6M500.6 609.8v-1.2M501.6 609.8v-7.3M503.0 609.8v-2.4M503.6 609.8v-3.7M505.3 609.8v-2.0M507.6 609.8v-0.5M508.3 609.8v-2.6M509.6 609.8v-15.3M510.3 609.8v-9.3M512.0 609.8v-20.9M513.3 609.8v-15.0M515.6 609.8v-3.3M516.5 609.8v-4.4M518.2 609.8v-7.5M518.8 609.8v-3.8M519.6 609.8v-10.5M520.2 609.8v-7.1M520.9 609.8v-18.7M521.7 609.8v-2.0M522.6 609.8v-8.2M523.4 609.8v-7.3M524.3 609.8v-4.7M524.8 609.8v-13.0M525.7 609.8v-9.2M526.3 609.8v-10.3M527.7 609.8v-5.2M528.7 609.8v-11.3M529.3 609.8v-9.4M529.9 609.8v-5.4M531.0 609.8v-6.5M533.0 609.8v-6.6M534.1 609.8v-6.2M535.6 609.8v-5.8M536.3 609.8v-7.3M536.7 609.8v-9.0M538.6 609.8v-3.2M539.2 609.8v-12.8M540.2 609.8v-2.2M540.7 609.8v-3.2M541.3 609.8v-3.7M542.1 609.8v-0.7M543.0 609.8v-15.3M543.7 609.8v-8.9M544.5 609.8v-3.6M545.1 609.8v-4.0M545.8 609.8v-10.2M546.8 609.8v-28.5M547.3 609.8v-3.5M548.3 609.8v-3.7M549.1 609.8v-23.5M549.8 609.8v-11.0M550.6 609.8v-8.2M551.4 609.8v-2.1M553.7 609.8v-11.0M554.1 609.8v-13.0M555.9 609.8v-13.6M556.6 609.8v-1.5M557.2 609.8v-12.0M559.0 609.8v-6.5M559.4 609.8v-28.5M560.3 609.8v-11.5M561.0 609.8v-7.8M562.1 609.8v-2.1M562.6 609.8v-3.5M563.4 609.8v-3.0M564.1 609.8v-4.7M564.7 609.8v-6.4M565.8 609.8v-5.1M566.5 609.8v-2.1M567.0 609.8v-5.3M568.0 609.8v-2.7M569.4 609.8v-10.0M570.3 609.8v-3.4M571.1 609.8v-6.5M571.8 609.8v-0.8M573.2 609.8v-5.8M573.9 609.8v-3.6M575.4 609.8v-9.3M576.3 609.8v-28.5M577.1 609.8v-11.1M577.7 609.8v-8.3M578.5 609.8v-1.4M580.8 609.8v-14.4M581.5 609.8v-9.9M584.0 609.8v-19.8M584.5 609.8v-8.4M585.2 609.8v-2.7M586.1 609.8v-20.6M586.9 609.8v-22.5M587.6 609.8v-5.0M588.3 609.8v-14.3M590.8 609.8v-27.8M591.4 609.8v-10.2M592.8 609.8v-24.9M593.7 609.8v-2.2M594.5 609.8v-28.5M595.0 609.8v-28.5M596.7 609.8v-21.0M598.2 609.8v-8.9M598.8 609.8v-5.4M599.7 609.8v-16.4M600.6 609.8v-11.4M601.2 609.8v-4.2M602.0 609.8v-16.6M602.6 609.8v-10.7M603.3 609.8v-12.5M604.2 609.8v-0.5M604.8 609.8v-5.7M605.8 609.8v-0.6M606.7 609.8v-14.4M607.3 609.8v-19.7M608.9 609.8v-2.5M609.5 609.8v-4.3M611.2 609.8v-2.7M611.9 609.8v-7.7M612.7 609.8v-4.5M613.2 609.8v-7.9M613.9 609.8v-3.9M614.9 609.8v-5.7M615.7 609.8v-1.1M616.3 609.8v-6.2M617.8 609.8v-3.1M618.5 609.8v-6.5M619.9 609.8v-5.6M621.7 609.8v-2.2M622.3 609.8v-10.0M623.1 609.8v-11.1M624.1 609.8v-10.2M624.5 609.8v-18.4M625.4 609.8v-18.6M626.1 609.8v-2.9M627.0 609.8v-17.9M627.7 609.8v-8.8M628.5 609.8v-5.8M629.0 609.8v-2.3M630.6 609.8v-2.3M631.4 609.8v-9.6M633.9 609.8v-12.2M634.6 609.8v-0.8M635.3 609.8v-1.1M636.8 609.8v-2.8M637.3 609.8v-0.5M638.4 609.8v-4.9M639.1 609.8v-10.6" stroke="#000" stroke-width="0.9" fill="none"/>
<line x1="363.7" y1="609.8" x2="363.7" y2="573.0" stroke="#222" stroke-width="0.8" />
<line x1="381.9" y1="609.8" x2="381.9" y2="572.1" stroke="#888" stroke-width="1.2" />
<line x1="393.4" y1="609.8" x2="393.4" y2="574.4" stroke="#222" stroke-width="0.8" />
<line x1="418.8" y1="609.8" x2="418.8" y2="570.7" stroke="#222" stroke-width="0.8" />
<line x1="431.7" y1="609.8" x2="431.7" y2="517.8" stroke="#222" stroke-width="0.8" />
<line x1="445.4" y1="609.8" x2="445.4" y2="532.5" stroke="#222" stroke-width="0.8" />
<line x1="450.6" y1="609.8" x2="450.6" y2="517.8" stroke="#555" stroke-width="1.0" />
<line x1="453.9" y1="609.8" x2="453.9" y2="519.6" stroke="#222" stroke-width="0.8" />
<line x1="443.6" y1="609.8" x2="443.6" y2="570.7" stroke="#444" stroke-width="0.8" />
<line x1="458.5" y1="609.8" x2="458.5" y2="573.0" stroke="#333" stroke-width="0.8" />
<line x1="466.5" y1="609.8" x2="466.5" y2="577.6" stroke="#333" stroke-width="0.8" />
<line x1="470.0" y1="609.8" x2="470.0" y2="567.5" stroke="#888" stroke-width="1.1" />
<line x1="502.7" y1="609.8" x2="502.7" y2="517.8" stroke="#222" stroke-width="0.8" />
<line x1="509.0" y1="609.8" x2="509.0" y2="573.0" stroke="#777" stroke-width="1.0" />
<line x1="511.4" y1="609.8" x2="511.4" y2="571.6" stroke="#777" stroke-width="1.0" />
<line x1="554.6" y1="609.8" x2="554.6" y2="517.8" stroke="#222" stroke-width="0.8" />
<line x1="553.4" y1="609.8" x2="553.4" y2="573.0" stroke="#111" stroke-width="1.3" />
<line x1="549.9" y1="609.8" x2="549.9" y2="571.6" stroke="#888" stroke-width="1.0" />
<line x1="566.2" y1="609.8" x2="566.2" y2="570.7" stroke="#777" stroke-width="1.0" />
<line x1="597.3" y1="609.8" x2="597.3" y2="517.8" stroke="#222" stroke-width="0.8" />
<line x1="596.6" y1="609.8" x2="596.6" y2="562.4" stroke="#111" stroke-width="1.4" />
<line x1="593.1" y1="609.8" x2="593.1" y2="573.0" stroke="#555" stroke-width="1.0" />
<line x1="613.7" y1="609.8" x2="613.7" y2="573.0" stroke="#888" stroke-width="1.0" />
<line x1="627.0" y1="609.8" x2="627.0" y2="582.2" stroke="#333" stroke-width="0.8" />
<line x1="372.0" y1="609.8" x2="372.0" y2="584.5" stroke="#444" stroke-width="0.8" />
<line x1="388.0" y1="609.8" x2="388.0" y2="582.2" stroke="#999" stroke-width="1.0" />
<line x1="400.0" y1="609.8" x2="400.0" y2="586.8" stroke="#999" stroke-width="1.0" />
<line x1="426.0" y1="609.8" x2="426.0" y2="586.8" stroke="#555" stroke-width="0.8" />
<line x1="476.0" y1="609.8" x2="476.0" y2="582.2" stroke="#666" stroke-width="0.8" />
<line x1="485.0" y1="609.8" x2="485.0" y2="584.5" stroke="#444" stroke-width="0.8" />
<line x1="530.0" y1="609.8" x2="530.0" y2="582.2" stroke="#444" stroke-width="0.8" />
<line x1="538.0" y1="609.8" x2="538.0" y2="583.1" stroke="#555" stroke-width="0.8" />
<line x1="595.0" y1="609.8" x2="595.0" y2="579.9" stroke="#111" stroke-width="1.4" />
<line x1="598.5" y1="609.8" x2="598.5" y2="575.3" stroke="#222" stroke-width="1.2" />
<line x1="620.0" y1="609.8" x2="620.0" y2="582.2" stroke="#888" stroke-width="1.0" />
<line x1="631.0" y1="609.8" x2="631.0" y2="586.8" stroke="#333" stroke-width="0.8" />
<line x1="635.0" y1="609.8" x2="635.0" y2="587.7" stroke="#333" stroke-width="1.0" />
<line x1="351.5" y1="579.7" x2="640.0" y2="579.7" stroke="#ee2a24" stroke-width="2.0" />
<line x1="351.4" y1="610.6" x2="351.4" y2="517.5" stroke="#111" stroke-width="2.4" />
<line x1="347.2" y1="517.8" x2="351.4" y2="517.8" stroke="#111" stroke-width="1.2" />
<text transform="translate(340.5 522.2) scale(1.0 1)" font-size="12.2" fill="#222" text-anchor="end">0.2</text>
<line x1="347.2" y1="563.9" x2="351.4" y2="563.9" stroke="#111" stroke-width="1.2" />
<text transform="translate(340.5 568.3) scale(1.0 1)" font-size="12.2" fill="#222" text-anchor="end">0.1</text>
<line x1="347.2" y1="609.8" x2="351.4" y2="609.8" stroke="#111" stroke-width="1.2" />
<text transform="translate(340.5 614.2) scale(1.0 1)" font-size="12.2" fill="#222" text-anchor="end">0.0</text>
<line x1="350.7" y1="609.8" x2="640.0" y2="609.8" stroke="#111" stroke-width="2.2" />
<line x1="351.7" y1="609.8" x2="351.7" y2="612.8" stroke="#111" stroke-width="1.0" />
<text transform="translate(351.7 618.1) scale(1.0 1) rotate(-90)" x="0" y="3.98" font-size="11.2" fill="#222" text-anchor="end">349</text>
<line x1="394.9" y1="609.8" x2="394.9" y2="612.8" stroke="#111" stroke-width="1.0" />
<text transform="translate(394.9 618.1) scale(1.0 1) rotate(-90)" x="0" y="3.98" font-size="11.2" fill="#222" text-anchor="end">399</text>
<line x1="438.1" y1="609.8" x2="438.1" y2="612.8" stroke="#111" stroke-width="1.0" />
<text transform="translate(438.1 618.1) scale(1.0 1) rotate(-90)" x="0" y="3.98" font-size="11.2" fill="#222" text-anchor="end">449</text>
<line x1="481.5" y1="609.8" x2="481.5" y2="612.8" stroke="#111" stroke-width="1.0" />
<text transform="translate(481.5 618.1) scale(1.0 1) rotate(-90)" x="0" y="3.98" font-size="11.2" fill="#222" text-anchor="end">499</text>
<line x1="525.4" y1="609.8" x2="525.4" y2="612.8" stroke="#111" stroke-width="1.0" />
<text transform="translate(525.4 618.1) scale(1.0 1) rotate(-90)" x="0" y="3.98" font-size="11.2" fill="#222" text-anchor="end">549</text>
<line x1="569.3" y1="609.8" x2="569.3" y2="612.8" stroke="#111" stroke-width="1.0" />
<text transform="translate(569.3 618.1) scale(1.0 1) rotate(-90)" x="0" y="3.98" font-size="11.2" fill="#222" text-anchor="end">599</text>
<line x1="612.5" y1="609.8" x2="612.5" y2="612.8" stroke="#111" stroke-width="1.0" />
<text transform="translate(612.5 618.1) scale(1.0 1) rotate(-90)" x="0" y="3.98" font-size="11.2" fill="#222" text-anchor="end">649</text>
<text x="320.0" y="553.4" font-size="15.1" fill="#111" text-anchor="middle" transform="rotate(-90 320.0 553.4)">Δδ(ppm)</text>
<text x="430.4" y="647.5" font-size="15.3" fill="#111">Residue Number</text>
<text x="301.0" y="643.7" font-size="25" fill="#111">k</text>
<text x="363" y="662.5" font-size="15" fill="#4a72c2">[(IL)<tspan font-size="9.8" dy="3">δ</tspan><tspan dy="-3">V</tspan><tspan font-size="9.5" dy="3">γ</tspan><tspan dy="-3">] </tspan><tspan font-size="9.5" dy="-5">13</tspan><tspan dy="5">C-</tspan><tspan font-size="9.5" dy="-5">1</tspan><tspan dy="5">H</tspan></text>
<line x1="352.5" y1="738.3" x2="352.5" y2="732.2" stroke="#111" stroke-width="1.3" />
<line x1="355.5" y1="738.3" x2="355.5" y2="734.0" stroke="#111" stroke-width="1.3" />
<line x1="358.4" y1="738.3" x2="358.4" y2="734.8" stroke="#111" stroke-width="1.3" />
<line x1="361.4" y1="738.3" x2="361.4" y2="725.7" stroke="#111" stroke-width="1.3" />
<line x1="364.4" y1="738.3" x2="364.4" y2="729.8" stroke="#111" stroke-width="1.3" />
<line x1="367.4" y1="738.3" x2="367.4" y2="728.4" stroke="#111" stroke-width="1.3" />
<line x1="370.3" y1="738.3" x2="370.3" y2="730.1" stroke="#111" stroke-width="1.3" />
<line x1="373.3" y1="738.3" x2="373.3" y2="732.2" stroke="#111" stroke-width="1.3" />
<line x1="376.3" y1="738.3" x2="376.3" y2="727.9" stroke="#111" stroke-width="1.3" />
<line x1="379.2" y1="738.3" x2="379.2" y2="729.8" stroke="#111" stroke-width="1.3" />
<line x1="382.2" y1="738.3" x2="382.2" y2="727.3" stroke="#111" stroke-width="1.3" />
<line x1="385.2" y1="738.3" x2="385.2" y2="728.8" stroke="#111" stroke-width="1.3" />
<line x1="388.1" y1="738.3" x2="388.1" y2="726.6" stroke="#111" stroke-width="1.3" />
<line x1="391.1" y1="738.3" x2="391.1" y2="731.5" stroke="#111" stroke-width="1.3" />
<line x1="394.1" y1="738.3" x2="394.1" y2="734.9" stroke="#111" stroke-width="1.3" />
<line x1="397.1" y1="738.3" x2="397.1" y2="735.0" stroke="#111" stroke-width="1.3" />
<line x1="400.0" y1="738.3" x2="400.0" y2="728.0" stroke="#111" stroke-width="1.3" />
<line x1="403.0" y1="738.3" x2="403.0" y2="734.8" stroke="#111" stroke-width="1.3" />
<line x1="406.0" y1="738.3" x2="406.0" y2="728.8" stroke="#111" stroke-width="1.3" />
<line x1="408.9" y1="738.3" x2="408.9" y2="729.3" stroke="#111" stroke-width="1.3" />
<line x1="411.9" y1="738.3" x2="411.9" y2="711.9" stroke="#111" stroke-width="1.3" />
<line x1="414.9" y1="738.3" x2="414.9" y2="727.3" stroke="#111" stroke-width="1.3" />
<line x1="417.8" y1="738.3" x2="417.8" y2="736.4" stroke="#111" stroke-width="1.3" />
<line x1="420.8" y1="738.3" x2="420.8" y2="726.3" stroke="#111" stroke-width="1.3" />
<line x1="423.8" y1="738.3" x2="423.8" y2="726.6" stroke="#111" stroke-width="1.3" />
<line x1="426.8" y1="738.3" x2="426.8" y2="734.2" stroke="#111" stroke-width="1.3" />
<line x1="429.7" y1="738.3" x2="429.7" y2="728.0" stroke="#111" stroke-width="1.3" />
<line x1="432.7" y1="738.3" x2="432.7" y2="727.9" stroke="#111" stroke-width="1.3" />
<line x1="435.7" y1="738.3" x2="435.7" y2="735.3" stroke="#111" stroke-width="1.3" />
<line x1="438.6" y1="738.3" x2="438.6" y2="728.7" stroke="#111" stroke-width="1.3" />
<line x1="441.6" y1="738.3" x2="441.6" y2="735.3" stroke="#111" stroke-width="1.3" />
<line x1="444.6" y1="738.3" x2="444.6" y2="725.7" stroke="#111" stroke-width="1.3" />
<line x1="447.5" y1="738.3" x2="447.5" y2="728.4" stroke="#111" stroke-width="1.3" />
<line x1="450.5" y1="738.3" x2="450.5" y2="724.9" stroke="#111" stroke-width="1.3" />
<line x1="453.5" y1="738.3" x2="453.5" y2="736.2" stroke="#111" stroke-width="1.3" />
<line x1="456.4" y1="738.3" x2="456.4" y2="733.0" stroke="#111" stroke-width="1.3" />
<line x1="459.4" y1="738.3" x2="459.4" y2="729.3" stroke="#111" stroke-width="1.3" />
<line x1="462.4" y1="738.3" x2="462.4" y2="729.4" stroke="#111" stroke-width="1.3" />
<line x1="465.4" y1="738.3" x2="465.4" y2="734.6" stroke="#111" stroke-width="1.3" />
<line x1="468.3" y1="738.3" x2="468.3" y2="726.0" stroke="#111" stroke-width="1.3" />
<line x1="471.3" y1="738.3" x2="471.3" y2="726.5" stroke="#111" stroke-width="1.3" />
<line x1="474.3" y1="738.3" x2="474.3" y2="733.2" stroke="#111" stroke-width="1.3" />
<line x1="477.2" y1="738.3" x2="477.2" y2="735.1" stroke="#111" stroke-width="1.3" />
<line x1="480.2" y1="738.3" x2="480.2" y2="728.7" stroke="#111" stroke-width="1.3" />
<line x1="483.2" y1="738.3" x2="483.2" y2="731.9" stroke="#111" stroke-width="1.3" />
<line x1="486.1" y1="738.3" x2="486.1" y2="728.7" stroke="#111" stroke-width="1.3" />
<line x1="489.1" y1="738.3" x2="489.1" y2="715.4" stroke="#111" stroke-width="1.3" />
<line x1="492.1" y1="738.3" x2="492.1" y2="732.0" stroke="#111" stroke-width="1.3" />
<line x1="495.1" y1="738.3" x2="495.1" y2="736.6" stroke="#111" stroke-width="1.3" />
<line x1="498.0" y1="738.3" x2="498.0" y2="735.2" stroke="#111" stroke-width="1.3" />
<line x1="501.0" y1="738.3" x2="501.0" y2="731.2" stroke="#111" stroke-width="1.3" />
<line x1="504.0" y1="738.3" x2="504.0" y2="728.0" stroke="#111" stroke-width="1.3" />
<line x1="506.9" y1="738.3" x2="506.9" y2="731.6" stroke="#111" stroke-width="1.3" />
<line x1="509.9" y1="738.3" x2="509.9" y2="727.8" stroke="#111" stroke-width="1.3" />
<line x1="512.9" y1="738.3" x2="512.9" y2="700.2" stroke="#111" stroke-width="1.3" />
<line x1="515.9" y1="738.3" x2="515.9" y2="726.1" stroke="#111" stroke-width="1.3" />
<line x1="518.8" y1="738.3" x2="518.8" y2="728.8" stroke="#111" stroke-width="1.3" />
<line x1="521.8" y1="738.3" x2="521.8" y2="711.5" stroke="#111" stroke-width="1.3" />
<line x1="524.8" y1="738.3" x2="524.8" y2="735.1" stroke="#111" stroke-width="1.3" />
<line x1="527.7" y1="738.3" x2="527.7" y2="736.0" stroke="#111" stroke-width="1.3" />
<line x1="530.7" y1="738.3" x2="530.7" y2="736.4" stroke="#111" stroke-width="1.3" />
<line x1="533.7" y1="738.3" x2="533.7" y2="726.3" stroke="#111" stroke-width="1.3" />
<line x1="536.6" y1="738.3" x2="536.6" y2="726.2" stroke="#111" stroke-width="1.3" />
<line x1="539.6" y1="738.3" x2="539.6" y2="727.7" stroke="#111" stroke-width="1.3" />
<line x1="542.6" y1="738.3" x2="542.6" y2="735.5" stroke="#111" stroke-width="1.3" />
<line x1="545.5" y1="738.3" x2="545.5" y2="721.2" stroke="#111" stroke-width="1.3" />
<line x1="548.5" y1="738.3" x2="548.5" y2="735.3" stroke="#111" stroke-width="1.3" />
<line x1="551.5" y1="738.3" x2="551.5" y2="726.0" stroke="#111" stroke-width="1.3" />
<line x1="554.5" y1="738.3" x2="554.5" y2="718.8" stroke="#111" stroke-width="1.3" />
<line x1="557.4" y1="738.3" x2="557.4" y2="701.7" stroke="#111" stroke-width="1.3" />
<line x1="560.4" y1="738.3" x2="560.4" y2="729.4" stroke="#111" stroke-width="1.3" />
<line x1="563.4" y1="738.3" x2="563.4" y2="731.7" stroke="#111" stroke-width="1.3" />
<line x1="566.3" y1="738.3" x2="566.3" y2="718.8" stroke="#111" stroke-width="1.3" />
<line x1="569.3" y1="738.3" x2="569.3" y2="725.1" stroke="#111" stroke-width="1.3" />
<line x1="572.3" y1="738.3" x2="572.3" y2="733.9" stroke="#111" stroke-width="1.3" />
<line x1="575.2" y1="738.3" x2="575.2" y2="731.5" stroke="#111" stroke-width="1.3" />
<line x1="578.2" y1="738.3" x2="578.2" y2="727.9" stroke="#111" stroke-width="1.3" />
<line x1="581.2" y1="738.3" x2="581.2" y2="728.5" stroke="#111" stroke-width="1.3" />
<line x1="584.2" y1="738.3" x2="584.2" y2="731.8" stroke="#111" stroke-width="1.3" />
<line x1="587.1" y1="738.3" x2="587.1" y2="731.3" stroke="#111" stroke-width="1.3" />
<line x1="590.1" y1="738.3" x2="590.1" y2="721.7" stroke="#111" stroke-width="1.3" />
<line x1="593.1" y1="738.3" x2="593.1" y2="733.5" stroke="#111" stroke-width="1.3" />
<line x1="596.0" y1="738.3" x2="596.0" y2="722.2" stroke="#111" stroke-width="1.3" />
<line x1="599.0" y1="738.3" x2="599.0" y2="728.5" stroke="#111" stroke-width="1.3" />
<line x1="602.0" y1="738.3" x2="602.0" y2="733.5" stroke="#111" stroke-width="1.3" />
<line x1="605.0" y1="738.3" x2="605.0" y2="723.7" stroke="#111" stroke-width="1.3" />
<line x1="607.9" y1="738.3" x2="607.9" y2="723.7" stroke="#111" stroke-width="1.3" />
<line x1="610.9" y1="738.3" x2="610.9" y2="725.6" stroke="#111" stroke-width="1.3" />
<line x1="613.9" y1="738.3" x2="613.9" y2="732.2" stroke="#111" stroke-width="1.3" />
<line x1="616.8" y1="738.3" x2="616.8" y2="726.0" stroke="#111" stroke-width="1.3" />
<line x1="619.8" y1="738.3" x2="619.8" y2="727.7" stroke="#111" stroke-width="1.3" />
<line x1="622.8" y1="738.3" x2="622.8" y2="727.9" stroke="#111" stroke-width="1.3" />
<line x1="625.7" y1="738.3" x2="625.7" y2="724.6" stroke="#111" stroke-width="1.3" />
<line x1="628.7" y1="738.3" x2="628.7" y2="734.8" stroke="#111" stroke-width="1.3" />
<line x1="631.7" y1="738.3" x2="631.7" y2="736.5" stroke="#111" stroke-width="1.3" />
<line x1="634.7" y1="738.3" x2="634.7" y2="734.6" stroke="#111" stroke-width="1.3" />
<line x1="350.8" y1="721.4" x2="637.5" y2="721.4" stroke="#ee2a24" stroke-width="2.0" />
<line x1="350.8" y1="739.1" x2="350.8" y2="640.3" stroke="#111" stroke-width="2.4" />
<line x1="346.6" y1="640.5" x2="350.8" y2="640.5" stroke="#111" stroke-width="1.2" />
<text transform="translate(339.9 644.9) scale(1.0 1)" font-size="12.3" fill="#222" text-anchor="end">0.2</text>
<line x1="346.6" y1="689.8" x2="350.8" y2="689.8" stroke="#111" stroke-width="1.2" />
<text transform="translate(339.9 694.2) scale(1.0 1)" font-size="12.3" fill="#222" text-anchor="end">0.1</text>
<line x1="346.6" y1="738.3" x2="350.8" y2="738.3" stroke="#111" stroke-width="1.2" />
<text transform="translate(339.9 742.7) scale(1.0 1)" font-size="12.3" fill="#222" text-anchor="end">0</text>
<line x1="350.0" y1="738.3" x2="637.5" y2="738.3" stroke="#111" stroke-width="2.2" />
<line x1="352.6" y1="738.3" x2="352.6" y2="741.3" stroke="#111" stroke-width="1.0" />
<text transform="translate(352.6 747.2) scale(1.0 1) rotate(-90)" x="0" y="3.98" font-size="11.2" fill="#222" text-anchor="end">367</text>
<line x1="383.9" y1="738.3" x2="383.9" y2="741.3" stroke="#111" stroke-width="1.0" />
<text transform="translate(383.9 747.2) scale(1.0 1) rotate(-90)" x="0" y="3.98" font-size="11.2" fill="#222" text-anchor="end">427</text>
<line x1="412.8" y1="738.3" x2="412.8" y2="741.3" stroke="#111" stroke-width="1.0" />
<text transform="translate(412.8 747.2) scale(1.0 1) rotate(-90)" x="0" y="3.98" font-size="11.2" fill="#222" text-anchor="end">449</text>
<line x1="444.5" y1="738.3" x2="444.5" y2="741.3" stroke="#111" stroke-width="1.0" />
<text transform="translate(444.5 747.2) scale(1.0 1) rotate(-90)" x="0" y="3.98" font-size="11.2" fill="#222" text-anchor="end">477</text>
<line x1="473.1" y1="738.3" x2="473.1" y2="741.3" stroke="#111" stroke-width="1.0" />
<text transform="translate(473.1 747.2) scale(1.0 1) rotate(-90)" x="0" y="3.98" font-size="11.2" fill="#222" text-anchor="end">512</text>
<line x1="502.4" y1="738.3" x2="502.4" y2="741.3" stroke="#111" stroke-width="1.0" />
<text transform="translate(502.4 747.2) scale(1.0 1) rotate(-90)" x="0" y="3.98" font-size="11.2" fill="#222" text-anchor="end">544</text>
<line x1="530.5" y1="738.3" x2="530.5" y2="741.3" stroke="#111" stroke-width="1.0" />
<text transform="translate(530.5 747.2) scale(1.0 1) rotate(-90)" x="0" y="3.98" font-size="11.2" fill="#222" text-anchor="end">569</text>
<line x1="562.0" y1="738.3" x2="562.0" y2="741.3" stroke="#111" stroke-width="1.0" />
<text transform="translate(562.0 747.2) scale(1.0 1) rotate(-90)" x="0" y="3.98" font-size="11.2" fill="#222" text-anchor="end">593</text>
<line x1="595.1" y1="738.3" x2="595.1" y2="741.3" stroke="#111" stroke-width="1.0" />
<text transform="translate(595.1 747.2) scale(1.0 1) rotate(-90)" x="0" y="3.98" font-size="11.2" fill="#222" text-anchor="end">614</text>
<line x1="627.7" y1="738.3" x2="627.7" y2="741.3" stroke="#111" stroke-width="1.0" />
<text transform="translate(627.7 747.2) scale(1.0 1) rotate(-90)" x="0" y="3.98" font-size="11.2" fill="#222" text-anchor="end">669</text>
<text x="318.6" y="682.0" font-size="15.1" fill="#111" text-anchor="middle" transform="rotate(-90 318.6 682.0)">Δδ(ppm)</text>
<text x="428.2" y="776.6" font-size="15.3" fill="#111">Residue Number</text>
<text x="310.0" y="814.3" font-size="25" fill="#111">l</text>
<text x="316.8" y="842.5" font-size="16"><tspan fill="#4a72c2">PBP5</tspan><tspan fill="#111">:</tspan></text>
<text x="316.8" y="861.9" font-size="16" fill="#111">PenG:SP1</text>
<defs><clipPath id="cpl"><path d="M456.0,861.8 C455.7,860.5 453.8,861.8 452.6,861.5 C451.4,861.3 449.1,861.1 448.8,860.3 C448.5,859.5 450.4,858.3 450.8,856.8 C451.3,855.3 450.9,853.0 451.7,851.5 C452.5,850.0 454.6,849.4 455.8,848.0 C457.0,846.5 458.5,844.4 459.0,842.8 C459.5,841.2 458.5,839.8 458.8,838.3 C459.0,836.9 459.4,835.5 460.4,834.0 C461.4,832.5 463.7,830.9 464.9,829.2 C466.2,827.5 466.9,825.8 467.7,823.8 C468.5,821.8 469.5,819.1 470.0,817.2 C470.5,815.2 470.2,813.5 470.7,812.1 C471.2,810.7 472.1,809.7 472.8,808.7 C473.5,807.7 473.5,806.8 475.0,806.3 C476.5,805.8 479.5,805.9 481.7,805.7 C483.9,805.4 486.4,805.2 488.2,804.8 C490.0,804.4 490.6,803.8 492.3,803.5 C494.0,803.3 496.0,803.4 498.4,803.4 C500.8,803.4 503.8,803.7 506.7,803.5 C509.6,803.2 513.3,802.4 515.9,801.9 C518.5,801.4 520.3,800.7 522.3,800.5 C524.2,800.2 525.9,801.3 527.6,800.4 C529.3,799.5 531.1,796.8 532.6,795.3 C534.1,793.9 535.4,792.9 536.4,791.7 C537.4,790.5 538.1,789.2 538.8,788.3 C539.5,787.4 539.6,786.6 540.7,786.4 C541.8,786.2 543.6,786.9 545.6,786.8 C547.5,786.7 550.5,785.6 552.4,785.8 C554.3,786.0 555.2,787.2 556.9,788.2 C558.6,789.2 561.0,790.1 562.6,791.7 C564.2,793.3 565.5,795.8 566.5,797.5 C567.5,799.2 567.4,799.9 568.5,801.9 C569.6,803.9 571.5,807.2 573.2,809.4 C574.9,811.6 576.9,813.0 578.7,815.0 C580.5,817.0 582.2,819.3 583.9,821.2 C585.6,823.2 586.9,825.1 588.9,826.7 C590.9,828.3 593.2,829.5 595.6,830.5 C598.0,831.5 601.1,831.6 603.5,832.6 C605.9,833.6 607.8,835.5 609.7,836.4 C611.7,837.4 613.7,837.4 615.2,838.4 C616.7,839.4 617.9,840.9 618.9,842.4 C619.9,843.9 620.6,845.5 621.0,847.2 C621.4,848.9 621.2,850.4 621.5,852.3 C621.7,854.3 622.2,857.6 622.5,858.8 C622.8,860.0 622.6,858.8 623.0,859.3 C623.5,859.7 624.7,859.7 625.0,861.5 C625.3,863.3 624.9,867.2 625.1,870.0 C625.3,872.7 626.2,875.5 626.0,878.0 C625.8,880.5 624.3,882.9 624.0,885.2 C623.7,887.5 624.3,890.2 624.0,891.7 C623.7,893.2 622.7,893.3 622.2,894.2 C621.7,895.2 621.5,896.1 621.0,897.5 C620.5,898.9 620.2,900.9 619.4,902.6 C618.7,904.3 617.5,905.5 616.6,907.7 C615.7,909.9 614.8,913.0 614.1,915.7 C613.4,918.4 613.4,921.4 612.3,923.8 C611.2,926.2 609.3,927.8 607.6,930.2 C605.8,932.6 603.1,936.5 602.0,938.4 C600.9,940.3 601.5,940.4 600.8,941.8 C600.1,943.3 598.9,944.7 597.7,947.2 C596.5,949.7 595.3,953.7 593.8,956.6 C592.3,959.6 590.4,962.4 588.9,964.7 C587.4,967.0 586.0,968.7 585.0,970.4 C584.0,972.1 587.0,974.2 583.0,975.0 C579.0,975.8 568.4,975.3 561.2,975.4 C554.1,975.5 547.4,975.7 540.0,975.5 C532.6,975.3 524.2,974.4 516.8,974.3 C509.4,974.3 498.5,975.6 495.5,975.0 C492.5,974.4 497.3,972.5 498.5,970.8 C499.7,969.0 502.6,966.2 502.8,964.7 C503.0,963.2 500.7,962.8 500.0,961.6 C499.3,960.3 498.6,958.8 498.4,957.4 C498.2,956.0 498.8,954.9 498.5,953.2 C498.3,951.5 497.9,948.9 496.9,947.2 C495.9,945.5 493.7,944.5 492.2,943.3 C490.8,942.0 489.7,941.2 488.2,939.9 C486.7,938.6 484.8,937.0 483.1,935.3 C481.4,933.6 479.1,931.4 478.0,929.6 C476.9,927.8 476.7,926.2 476.5,924.3 C476.2,922.4 476.0,919.7 476.5,918.0 C477.0,916.3 478.6,915.8 479.3,914.3 C480.0,912.9 481.0,910.4 480.9,909.2 C480.8,908.0 479.0,908.2 478.5,907.2 C478.0,906.2 479.6,904.2 478.0,903.4 C476.4,902.6 471.8,902.6 469.1,902.3 C466.4,902.1 463.6,902.6 461.9,901.9 C460.2,901.2 460.2,899.8 459.2,898.3 C458.2,896.9 456.9,895.1 456.0,893.1 C455.1,891.1 454.5,888.9 453.9,886.4 C453.3,883.9 452.4,880.8 452.5,878.0 C452.6,875.2 453.8,872.2 454.3,869.5 C454.9,866.8 456.3,863.1 456.0,861.8 Z"/></clipPath><radialGradient id="bwl" cx="42%" cy="38%" r="62%"><stop offset="0" stop-color="#ffffff"/><stop offset="0.42" stop-color="#f2f2f2"/><stop offset="0.76" stop-color="#d9d9d9"/><stop offset="0.93" stop-color="#b4b4b4"/><stop offset="1" stop-color="#909090"/></radialGradient><radialGradient id="bol" cx="42%" cy="38%" r="62%"><stop offset="0" stop-color="#ffb640"/><stop offset="0.55" stop-color="#f28a14"/><stop offset="0.85" stop-color="#e07a0e"/><stop offset="1" stop-color="#b85e08"/></radialGradient><radialGradient id="bdl" cx="42%" cy="38%" r="62%"><stop offset="0" stop-color="#a8a8a8"/><stop offset="0.6" stop-color="#8e8e8e"/><stop offset="1" stop-color="#626262"/></radialGradient><filter id="edl" x="441" y="778" width="193" height="206" filterUnits="userSpaceOnUse"><feGaussianBlur stdDeviation="1.6"/></filter></defs>
<g clip-path="url(#cpl)">
<path d="M456.0,861.8 C455.7,860.5 453.8,861.8 452.6,861.5 C451.4,861.3 449.1,861.1 448.8,860.3 C448.5,859.5 450.4,858.3 450.8,856.8 C451.3,855.3 450.9,853.0 451.7,851.5 C452.5,850.0 454.6,849.4 455.8,848.0 C457.0,846.5 458.5,844.4 459.0,842.8 C459.5,841.2 458.5,839.8 458.8,838.3 C459.0,836.9 459.4,835.5 460.4,834.0 C461.4,832.5 463.7,830.9 464.9,829.2 C466.2,827.5 466.9,825.8 467.7,823.8 C468.5,821.8 469.5,819.1 470.0,817.2 C470.5,815.2 470.2,813.5 470.7,812.1 C471.2,810.7 472.1,809.7 472.8,808.7 C473.5,807.7 473.5,806.8 475.0,806.3 C476.5,805.8 479.5,805.9 481.7,805.7 C483.9,805.4 486.4,805.2 488.2,804.8 C490.0,804.4 490.6,803.8 492.3,803.5 C494.0,803.3 496.0,803.4 498.4,803.4 C500.8,803.4 503.8,803.7 506.7,803.5 C509.6,803.2 513.3,802.4 515.9,801.9 C518.5,801.4 520.3,800.7 522.3,800.5 C524.2,800.2 525.9,801.3 527.6,800.4 C529.3,799.5 531.1,796.8 532.6,795.3 C534.1,793.9 535.4,792.9 536.4,791.7 C537.4,790.5 538.1,789.2 538.8,788.3 C539.5,787.4 539.6,786.6 540.7,786.4 C541.8,786.2 543.6,786.9 545.6,786.8 C547.5,786.7 550.5,785.6 552.4,785.8 C554.3,786.0 555.2,787.2 556.9,788.2 C558.6,789.2 561.0,790.1 562.6,791.7 C564.2,793.3 565.5,795.8 566.5,797.5 C567.5,799.2 567.4,799.9 568.5,801.9 C569.6,803.9 571.5,807.2 573.2,809.4 C574.9,811.6 576.9,813.0 578.7,815.0 C580.5,817.0 582.2,819.3 583.9,821.2 C585.6,823.2 586.9,825.1 588.9,826.7 C590.9,828.3 593.2,829.5 595.6,830.5 C598.0,831.5 601.1,831.6 603.5,832.6 C605.9,833.6 607.8,835.5 609.7,836.4 C611.7,837.4 613.7,837.4 615.2,838.4 C616.7,839.4 617.9,840.9 618.9,842.4 C619.9,843.9 620.6,845.5 621.0,847.2 C621.4,848.9 621.2,850.4 621.5,852.3 C621.7,854.3 622.2,857.6 622.5,858.8 C622.8,860.0 622.6,858.8 623.0,859.3 C623.5,859.7 624.7,859.7 625.0,861.5 C625.3,863.3 624.9,867.2 625.1,870.0 C625.3,872.7 626.2,875.5 626.0,878.0 C625.8,880.5 624.3,882.9 624.0,885.2 C623.7,887.5 624.3,890.2 624.0,891.7 C623.7,893.2 622.7,893.3 622.2,894.2 C621.7,895.2 621.5,896.1 621.0,897.5 C620.5,898.9 620.2,900.9 619.4,902.6 C618.7,904.3 617.5,905.5 616.6,907.7 C615.7,909.9 614.8,913.0 614.1,915.7 C613.4,918.4 613.4,921.4 612.3,923.8 C611.2,926.2 609.3,927.8 607.6,930.2 C605.8,932.6 603.1,936.5 602.0,938.4 C600.9,940.3 601.5,940.4 600.8,941.8 C600.1,943.3 598.9,944.7 597.7,947.2 C596.5,949.7 595.3,953.7 593.8,956.6 C592.3,959.6 590.4,962.4 588.9,964.7 C587.4,967.0 586.0,968.7 585.0,970.4 C584.0,972.1 587.0,974.2 583.0,975.0 C579.0,975.8 568.4,975.3 561.2,975.4 C554.1,975.5 547.4,975.7 540.0,975.5 C532.6,975.3 524.2,974.4 516.8,974.3 C509.4,974.3 498.5,975.6 495.5,975.0 C492.5,974.4 497.3,972.5 498.5,970.8 C499.7,969.0 502.6,966.2 502.8,964.7 C503.0,963.2 500.7,962.8 500.0,961.6 C499.3,960.3 498.6,958.8 498.4,957.4 C498.2,956.0 498.8,954.9 498.5,953.2 C498.3,951.5 497.9,948.9 496.9,947.2 C495.9,945.5 493.7,944.5 492.2,943.3 C490.8,942.0 489.7,941.2 488.2,939.9 C486.7,938.6 484.8,937.0 483.1,935.3 C481.4,933.6 479.1,931.4 478.0,929.6 C476.9,927.8 476.7,926.2 476.5,924.3 C476.2,922.4 476.0,919.7 476.5,918.0 C477.0,916.3 478.6,915.8 479.3,914.3 C480.0,912.9 481.0,910.4 480.9,909.2 C480.8,908.0 479.0,908.2 478.5,907.2 C478.0,906.2 479.6,904.2 478.0,903.4 C476.4,902.6 471.8,902.6 469.1,902.3 C466.4,902.1 463.6,902.6 461.9,901.9 C460.2,901.2 460.2,899.8 459.2,898.3 C458.2,896.9 456.9,895.1 456.0,893.1 C455.1,891.1 454.5,888.9 453.9,886.4 C453.3,883.9 452.4,880.8 452.5,878.0 C452.6,875.2 453.8,872.2 454.3,869.5 C454.9,866.8 456.3,863.1 456.0,861.8 Z" fill="#8e8e8e"/>
<circle cx="546.1" cy="788.0" r="9.0" fill="url(#bwl)"/><circle cx="474.0" cy="810.6" r="7.8" fill="url(#bwl)"/><circle cx="483.0" cy="807.9" r="6.2" fill="url(#bwl)"/><circle cx="498.8" cy="805.2" r="10.6" fill="url(#bwl)"/><circle cx="484.8" cy="810.9" r="8.2" fill="url(#bwl)"/><circle cx="558.0" cy="789.4" r="6.1" fill="url(#bwl)"/><circle cx="509.1" cy="805.7" r="11.8" fill="url(#bwl)"/><circle cx="487.1" cy="814.6" r="11.1" fill="url(#bwl)"/><circle cx="486.2" cy="815.0" r="9.7" fill="url(#bwl)"/><circle cx="520.7" cy="804.7" r="9.6" fill="url(#bwl)"/><circle cx="561.3" cy="793.4" r="11.9" fill="url(#bwl)"/><circle cx="482.2" cy="819.7" r="11.7" fill="url(#bwl)"/><circle cx="521.7" cy="808.3" r="10.7" fill="url(#bwl)"/><circle cx="550.1" cy="800.7" r="11.2" fill="url(#bwl)"/><circle cx="480.3" cy="821.8" r="11.2" fill="url(#bwl)"/><circle cx="545.0" cy="802.5" r="10.9" fill="url(#bwl)"/><circle cx="496.2" cy="818.4" r="10.5" fill="url(#bwl)"/><circle cx="474.8" cy="825.6" r="5.7" fill="url(#bwl)"/><circle cx="493.1" cy="821.2" r="5.9" fill="url(#bwl)"/><circle cx="558.4" cy="801.8" r="8.3" fill="url(#bwl)"/><circle cx="484.7" cy="823.9" r="10.0" fill="url(#bwl)"/><circle cx="564.2" cy="800.8" r="11.5" fill="url(#bwl)"/><circle cx="543.9" cy="808.0" r="10.0" fill="url(#bwl)"/><circle cx="529.0" cy="812.6" r="11.3" fill="url(#bwl)"/><circle cx="496.3" cy="822.5" r="6.8" fill="url(#bwl)"/><circle cx="519.6" cy="815.9" r="8.7" fill="url(#bwl)"/><circle cx="523.7" cy="814.9" r="9.3" fill="url(#bwl)"/><circle cx="552.8" cy="806.4" r="11.8" fill="url(#bwl)"/><circle cx="485.5" cy="826.8" r="7.7" fill="url(#bwl)"/><circle cx="559.2" cy="806.3" r="7.5" fill="url(#bwl)"/><circle cx="481.8" cy="830.5" r="11.9" fill="url(#bwl)"/><circle cx="513.7" cy="823.1" r="6.7" fill="url(#bwl)"/><circle cx="559.0" cy="809.7" r="11.1" fill="url(#bwl)"/><circle cx="511.5" cy="824.0" r="10.4" fill="url(#bwl)"/><circle cx="492.5" cy="830.4" r="5.9" fill="url(#bwl)"/><circle cx="525.2" cy="820.8" r="6.4" fill="url(#bwl)"/><circle cx="518.4" cy="823.2" r="9.6" fill="url(#bwl)"/><circle cx="473.3" cy="836.9" r="6.9" fill="url(#bwl)"/><circle cx="479.5" cy="836.2" r="9.9" fill="url(#bwl)"/><circle cx="528.2" cy="822.4" r="6.0" fill="url(#bwl)"/><circle cx="481.0" cy="836.7" r="10.9" fill="url(#bwl)"/><circle cx="502.8" cy="830.7" r="11.8" fill="url(#bwl)"/><circle cx="489.2" cy="834.8" r="6.5" fill="url(#bwl)"/><circle cx="504.7" cy="830.3" r="7.3" fill="url(#bwl)"/><circle cx="477.1" cy="840.7" r="8.8" fill="url(#bwl)"/><circle cx="462.8" cy="846.0" r="7.5" fill="url(#bwl)"/><circle cx="543.3" cy="822.0" r="9.7" fill="url(#bwl)"/><circle cx="467.7" cy="844.7" r="5.9" fill="url(#bwl)"/><circle cx="460.2" cy="848.8" r="7.8" fill="url(#bwl)"/><circle cx="574.4" cy="814.7" r="8.7" fill="url(#bwl)"/><circle cx="461.6" cy="849.2" r="7.2" fill="url(#bwl)"/><circle cx="517.7" cy="832.9" r="7.9" fill="url(#bwl)"/><circle cx="466.6" cy="848.3" r="6.6" fill="url(#bwl)"/><circle cx="561.7" cy="820.3" r="7.7" fill="url(#bwl)"/><circle cx="492.3" cy="842.4" r="11.1" fill="url(#bwl)"/><circle cx="492.1" cy="842.8" r="10.9" fill="url(#bwl)"/><circle cx="579.2" cy="816.7" r="7.6" fill="url(#bwl)"/><circle cx="516.0" cy="838.0" r="10.2" fill="url(#bwl)"/><circle cx="501.0" cy="843.3" r="8.7" fill="url(#bwl)"/><circle cx="520.0" cy="838.3" r="7.3" fill="url(#bwl)"/><circle cx="507.1" cy="842.3" r="7.7" fill="url(#bwl)"/><circle cx="466.5" cy="854.5" r="10.7" fill="url(#bwl)"/><circle cx="568.0" cy="824.3" r="10.1" fill="url(#bwl)"/><circle cx="506.2" cy="843.3" r="5.7" fill="url(#bwl)"/><circle cx="482.5" cy="851.5" r="9.8" fill="url(#bwl)"/><circle cx="500.1" cy="846.5" r="9.3" fill="url(#bwl)"/><circle cx="491.7" cy="850.1" r="6.4" fill="url(#bwl)"/><circle cx="572.6" cy="826.6" r="6.4" fill="url(#bwl)"/><circle cx="496.7" cy="850.3" r="11.7" fill="url(#bwl)"/><circle cx="469.6" cy="858.9" r="10.8" fill="url(#bwl)"/><circle cx="475.8" cy="857.9" r="8.6" fill="url(#bwl)"/><circle cx="577.9" cy="827.5" r="6.0" fill="url(#bwl)"/><circle cx="578.0" cy="827.5" r="6.0" fill="url(#bwl)"/><circle cx="584.7" cy="825.7" r="8.8" fill="url(#bwl)"/><circle cx="506.7" cy="849.2" r="8.7" fill="url(#bwl)"/><circle cx="522.3" cy="844.8" r="11.4" fill="url(#bwl)"/><circle cx="546.0" cy="837.7" r="10.9" fill="url(#bwl)"/><circle cx="505.5" cy="850.1" r="8.1" fill="url(#bwl)"/><circle cx="527.1" cy="844.5" r="11.3" fill="url(#bwl)"/><circle cx="509.0" cy="850.0" r="7.3" fill="url(#bwl)"/><circle cx="476.3" cy="861.3" r="5.7" fill="url(#bwl)"/><circle cx="541.8" cy="842.3" r="7.2" fill="url(#bwl)"/><circle cx="566.6" cy="834.9" r="11.1" fill="url(#bwl)"/><circle cx="524.9" cy="848.1" r="6.7" fill="url(#bwl)"/><circle cx="524.9" cy="848.5" r="9.4" fill="url(#bwl)"/><circle cx="529.0" cy="847.4" r="8.8" fill="url(#bwl)"/><circle cx="560.4" cy="839.4" r="6.6" fill="url(#bwl)"/><circle cx="583.0" cy="833.3" r="11.9" fill="url(#bwl)"/><circle cx="477.9" cy="865.9" r="10.4" fill="url(#bwl)"/><circle cx="501.6" cy="859.9" r="6.7" fill="url(#bwl)"/><circle cx="458.8" cy="873.3" r="9.3" fill="url(#bwl)"/><circle cx="538.6" cy="850.6" r="8.6" fill="url(#bwl)"/><circle cx="504.3" cy="861.1" r="11.9" fill="url(#bwl)"/><circle cx="512.5" cy="859.2" r="8.2" fill="url(#bwl)"/><circle cx="565.4" cy="843.4" r="5.9" fill="url(#bwl)"/><circle cx="559.1" cy="846.8" r="6.3" fill="url(#bwl)"/><circle cx="460.4" cy="876.7" r="10.8" fill="url(#bwl)"/><circle cx="463.3" cy="876.3" r="9.4" fill="url(#bwl)"/><circle cx="481.5" cy="870.9" r="10.9" fill="url(#bwl)"/><circle cx="494.9" cy="867.6" r="8.3" fill="url(#bwl)"/><circle cx="491.6" cy="869.3" r="7.0" fill="url(#bwl)"/><circle cx="530.0" cy="857.9" r="8.1" fill="url(#bwl)"/><circle cx="534.0" cy="857.0" r="10.6" fill="url(#bwl)"/><circle cx="597.2" cy="839.1" r="11.4" fill="url(#bwl)"/><circle cx="608.5" cy="836.1" r="9.1" fill="url(#bwl)"/><circle cx="468.3" cy="878.7" r="8.9" fill="url(#bwl)"/><circle cx="521.5" cy="863.2" r="7.4" fill="url(#bwl)"/><circle cx="587.2" cy="844.1" r="7.2" fill="url(#bwl)"/><circle cx="543.1" cy="857.7" r="9.3" fill="url(#bwl)"/><circle cx="537.7" cy="859.3" r="6.8" fill="url(#bwl)"/><circle cx="477.7" cy="877.4" r="11.6" fill="url(#bwl)"/><circle cx="573.1" cy="848.8" r="6.2" fill="url(#bwl)"/><circle cx="591.4" cy="843.4" r="7.0" fill="url(#bwl)"/><circle cx="560.4" cy="853.4" r="10.8" fill="url(#bwl)"/><circle cx="536.7" cy="860.7" r="9.9" fill="url(#bwl)"/><circle cx="493.9" cy="873.9" r="11.4" fill="url(#bwl)"/><circle cx="559.7" cy="855.1" r="7.4" fill="url(#bwl)"/><circle cx="546.5" cy="861.1" r="9.6" fill="url(#bwl)"/><circle cx="569.9" cy="854.6" r="7.7" fill="url(#bwl)"/><circle cx="584.0" cy="850.7" r="11.6" fill="url(#bwl)"/><circle cx="572.0" cy="854.9" r="7.2" fill="url(#bwl)"/><circle cx="490.8" cy="879.3" r="11.7" fill="url(#bwl)"/><circle cx="597.0" cy="847.9" r="10.1" fill="url(#bwl)"/><circle cx="530.7" cy="868.1" r="6.5" fill="url(#bwl)"/><circle cx="478.8" cy="884.2" r="9.9" fill="url(#bwl)"/><circle cx="562.4" cy="860.2" r="9.2" fill="url(#bwl)"/><circle cx="461.0" cy="892.4" r="10.3" fill="url(#bwl)"/><circle cx="605.7" cy="849.4" r="8.0" fill="url(#bwl)"/><circle cx="529.0" cy="872.7" r="11.9" fill="url(#bwl)"/><circle cx="555.2" cy="864.9" r="6.6" fill="url(#bwl)"/><circle cx="526.3" cy="873.9" r="8.4" fill="url(#bwl)"/><circle cx="592.8" cy="854.3" r="10.9" fill="url(#bwl)"/><circle cx="565.0" cy="863.2" r="10.6" fill="url(#bwl)"/><circle cx="566.2" cy="863.4" r="6.6" fill="url(#bwl)"/><circle cx="540.7" cy="871.4" r="11.2" fill="url(#bwl)"/><circle cx="594.2" cy="855.7" r="7.5" fill="url(#bwl)"/><circle cx="597.4" cy="855.2" r="9.6" fill="url(#bwl)"/><circle cx="620.8" cy="848.7" r="7.1" fill="url(#bwl)"/><circle cx="484.1" cy="889.8" r="10.4" fill="url(#bwl)"/><circle cx="486.0" cy="889.4" r="5.5" fill="url(#bwl)"/><circle cx="516.9" cy="880.3" r="7.4" fill="url(#bwl)"/><circle cx="590.4" cy="858.3" r="11.2" fill="url(#bwl)"/><circle cx="610.2" cy="853.1" r="5.6" fill="url(#bwl)"/><circle cx="599.3" cy="856.4" r="11.5" fill="url(#bwl)"/><circle cx="616.8" cy="851.4" r="6.3" fill="url(#bwl)"/><circle cx="545.6" cy="872.8" r="9.7" fill="url(#bwl)"/><circle cx="524.6" cy="880.7" r="9.6" fill="url(#bwl)"/><circle cx="549.5" cy="874.0" r="9.2" fill="url(#bwl)"/><circle cx="523.1" cy="882.0" r="7.2" fill="url(#bwl)"/><circle cx="515.0" cy="884.7" r="5.5" fill="url(#bwl)"/><circle cx="594.0" cy="861.7" r="6.7" fill="url(#bwl)"/><circle cx="588.8" cy="863.5" r="10.0" fill="url(#bwl)"/><circle cx="525.1" cy="882.8" r="7.8" fill="url(#bwl)"/><circle cx="609.5" cy="857.5" r="5.8" fill="url(#bwl)"/><circle cx="580.6" cy="866.2" r="11.0" fill="url(#bwl)"/><circle cx="471.5" cy="898.9" r="10.9" fill="url(#bwl)"/><circle cx="511.4" cy="888.3" r="10.6" fill="url(#bwl)"/><circle cx="480.9" cy="897.8" r="10.0" fill="url(#bwl)"/><circle cx="565.6" cy="872.4" r="8.6" fill="url(#bwl)"/><circle cx="620.6" cy="856.0" r="11.4" fill="url(#bwl)"/><circle cx="536.2" cy="882.0" r="7.5" fill="url(#bwl)"/><circle cx="514.3" cy="889.5" r="8.4" fill="url(#bwl)"/><circle cx="570.7" cy="873.5" r="10.1" fill="url(#bwl)"/><circle cx="495.3" cy="897.0" r="9.2" fill="url(#bwl)"/><circle cx="490.5" cy="899.3" r="6.9" fill="url(#bwl)"/><circle cx="583.2" cy="871.7" r="9.3" fill="url(#bwl)"/><circle cx="598.1" cy="867.7" r="10.8" fill="url(#bwl)"/><circle cx="501.0" cy="896.9" r="8.9" fill="url(#bwl)"/><circle cx="537.9" cy="885.9" r="8.0" fill="url(#bwl)"/><circle cx="583.6" cy="872.2" r="11.7" fill="url(#bwl)"/><circle cx="592.6" cy="869.7" r="8.1" fill="url(#bwl)"/><circle cx="516.1" cy="892.8" r="7.9" fill="url(#bwl)"/><circle cx="490.8" cy="900.6" r="11.2" fill="url(#bwl)"/><circle cx="617.8" cy="863.7" r="11.5" fill="url(#bwl)"/><circle cx="583.9" cy="873.9" r="10.2" fill="url(#bwl)"/><circle cx="502.9" cy="898.6" r="5.9" fill="url(#bwl)"/><circle cx="602.7" cy="869.8" r="9.8" fill="url(#bwl)"/><circle cx="544.0" cy="887.8" r="10.9" fill="url(#bwl)"/><circle cx="482.5" cy="906.7" r="7.1" fill="url(#bwl)"/><circle cx="544.8" cy="889.2" r="7.3" fill="url(#bwl)"/><circle cx="549.1" cy="888.5" r="10.9" fill="url(#bwl)"/><circle cx="490.6" cy="906.1" r="11.6" fill="url(#bwl)"/><circle cx="532.0" cy="895.8" r="6.8" fill="url(#bwl)"/><circle cx="589.2" cy="879.3" r="6.0" fill="url(#bwl)"/><circle cx="564.0" cy="887.9" r="10.7" fill="url(#bwl)"/><circle cx="530.8" cy="898.2" r="8.5" fill="url(#bwl)"/><circle cx="498.7" cy="907.9" r="11.3" fill="url(#bwl)"/><circle cx="536.8" cy="897.0" r="7.7" fill="url(#bwl)"/><circle cx="509.0" cy="905.6" r="9.6" fill="url(#bwl)"/><circle cx="496.6" cy="910.4" r="11.3" fill="url(#bwl)"/><circle cx="539.5" cy="897.7" r="7.8" fill="url(#bwl)"/><circle cx="543.9" cy="897.0" r="7.6" fill="url(#bwl)"/><circle cx="488.8" cy="913.6" r="11.7" fill="url(#bwl)"/><circle cx="501.4" cy="910.3" r="8.7" fill="url(#bwl)"/><circle cx="553.5" cy="895.2" r="9.8" fill="url(#bwl)"/><circle cx="506.0" cy="910.0" r="7.8" fill="url(#bwl)"/><circle cx="480.5" cy="918.6" r="9.7" fill="url(#bwl)"/><circle cx="486.8" cy="916.8" r="6.0" fill="url(#bwl)"/><circle cx="550.8" cy="898.2" r="6.6" fill="url(#bwl)"/><circle cx="515.2" cy="910.4" r="9.7" fill="url(#bwl)"/><circle cx="498.2" cy="915.5" r="11.5" fill="url(#bwl)"/><circle cx="567.2" cy="895.1" r="9.5" fill="url(#bwl)"/><circle cx="522.0" cy="909.8" r="11.3" fill="url(#bwl)"/><circle cx="515.4" cy="912.1" r="5.7" fill="url(#bwl)"/><circle cx="540.6" cy="905.0" r="11.6" fill="url(#bwl)"/><circle cx="539.6" cy="906.7" r="6.7" fill="url(#bwl)"/><circle cx="590.0" cy="892.2" r="8.9" fill="url(#bwl)"/><circle cx="587.2" cy="895.1" r="12.0" fill="url(#bwl)"/><circle cx="550.3" cy="906.5" r="10.8" fill="url(#bwl)"/><circle cx="564.6" cy="902.4" r="10.1" fill="url(#bwl)"/><circle cx="583.3" cy="897.6" r="8.8" fill="url(#bwl)"/><circle cx="622.8" cy="886.2" r="8.4" fill="url(#bwl)"/><circle cx="565.2" cy="903.6" r="8.8" fill="url(#bwl)"/><circle cx="564.9" cy="904.4" r="10.9" fill="url(#bwl)"/><circle cx="589.5" cy="897.3" r="10.3" fill="url(#bwl)"/><circle cx="515.5" cy="920.3" r="10.8" fill="url(#bwl)"/><circle cx="579.1" cy="901.4" r="11.9" fill="url(#bwl)"/><circle cx="610.1" cy="893.0" r="7.8" fill="url(#bwl)"/><circle cx="615.8" cy="891.5" r="9.9" fill="url(#bwl)"/><circle cx="603.2" cy="895.3" r="8.6" fill="url(#bwl)"/><circle cx="576.2" cy="904.5" r="7.4" fill="url(#bwl)"/><circle cx="536.3" cy="917.4" r="7.8" fill="url(#bwl)"/><circle cx="483.5" cy="934.3" r="8.4" fill="url(#bwl)"/><circle cx="575.2" cy="908.1" r="10.5" fill="url(#bwl)"/><circle cx="493.4" cy="932.9" r="10.2" fill="url(#bwl)"/><circle cx="506.5" cy="930.8" r="10.9" fill="url(#bwl)"/><circle cx="521.8" cy="926.5" r="7.9" fill="url(#bwl)"/><circle cx="573.1" cy="911.4" r="7.9" fill="url(#bwl)"/><circle cx="489.3" cy="938.3" r="8.9" fill="url(#bwl)"/><circle cx="601.6" cy="905.1" r="10.2" fill="url(#bwl)"/><circle cx="528.6" cy="927.2" r="7.8" fill="url(#bwl)"/><circle cx="596.1" cy="909.2" r="11.7" fill="url(#bwl)"/><circle cx="581.1" cy="914.0" r="7.2" fill="url(#bwl)"/><circle cx="514.0" cy="934.5" r="6.1" fill="url(#bwl)"/><circle cx="517.4" cy="933.6" r="6.0" fill="url(#bwl)"/><circle cx="510.4" cy="936.6" r="11.6" fill="url(#bwl)"/><circle cx="592.4" cy="914.0" r="10.8" fill="url(#bwl)"/><circle cx="556.0" cy="925.6" r="8.5" fill="url(#bwl)"/><circle cx="519.8" cy="938.0" r="10.8" fill="url(#bwl)"/><circle cx="531.0" cy="934.9" r="8.4" fill="url(#bwl)"/><circle cx="501.4" cy="944.6" r="11.5" fill="url(#bwl)"/><circle cx="518.6" cy="940.0" r="7.6" fill="url(#bwl)"/><circle cx="535.7" cy="935.6" r="11.1" fill="url(#bwl)"/><circle cx="499.2" cy="947.3" r="9.8" fill="url(#bwl)"/><circle cx="519.2" cy="941.4" r="10.6" fill="url(#bwl)"/><circle cx="528.2" cy="938.7" r="10.7" fill="url(#bwl)"/><circle cx="591.5" cy="920.5" r="7.5" fill="url(#bwl)"/><circle cx="521.4" cy="941.7" r="7.6" fill="url(#bwl)"/><circle cx="608.0" cy="916.3" r="11.0" fill="url(#bwl)"/><circle cx="524.6" cy="941.8" r="7.3" fill="url(#bwl)"/><circle cx="560.0" cy="931.7" r="11.8" fill="url(#bwl)"/><circle cx="560.8" cy="931.5" r="10.4" fill="url(#bwl)"/><circle cx="574.6" cy="928.0" r="7.5" fill="url(#bwl)"/><circle cx="562.6" cy="932.8" r="9.6" fill="url(#bwl)"/><circle cx="612.5" cy="918.3" r="8.7" fill="url(#bwl)"/><circle cx="510.2" cy="951.0" r="6.2" fill="url(#bwl)"/><circle cx="556.4" cy="938.7" r="7.3" fill="url(#bwl)"/><circle cx="524.5" cy="949.0" r="7.3" fill="url(#bwl)"/><circle cx="548.2" cy="943.6" r="9.8" fill="url(#bwl)"/><circle cx="581.1" cy="934.2" r="8.0" fill="url(#bwl)"/><circle cx="568.4" cy="938.5" r="7.4" fill="url(#bwl)"/><circle cx="606.3" cy="927.7" r="8.0" fill="url(#bwl)"/><circle cx="546.9" cy="945.6" r="7.1" fill="url(#bwl)"/><circle cx="605.7" cy="929.1" r="9.1" fill="url(#bwl)"/><circle cx="529.4" cy="952.7" r="10.2" fill="url(#bwl)"/><circle cx="526.5" cy="953.8" r="10.6" fill="url(#bwl)"/><circle cx="588.8" cy="937.7" r="7.0" fill="url(#bwl)"/><circle cx="520.7" cy="958.3" r="11.7" fill="url(#bwl)"/><circle cx="569.7" cy="944.1" r="10.5" fill="url(#bwl)"/><circle cx="568.0" cy="944.8" r="10.7" fill="url(#bwl)"/><circle cx="576.8" cy="942.7" r="9.1" fill="url(#bwl)"/><circle cx="534.9" cy="955.5" r="10.1" fill="url(#bwl)"/><circle cx="562.5" cy="948.3" r="6.2" fill="url(#bwl)"/><circle cx="554.7" cy="952.4" r="11.9" fill="url(#bwl)"/><circle cx="527.6" cy="960.9" r="11.2" fill="url(#bwl)"/><circle cx="524.0" cy="962.3" r="11.3" fill="url(#bwl)"/><circle cx="557.0" cy="952.6" r="8.6" fill="url(#bwl)"/><circle cx="529.8" cy="962.0" r="7.0" fill="url(#bwl)"/><circle cx="570.5" cy="949.8" r="6.1" fill="url(#bwl)"/><circle cx="542.5" cy="958.5" r="11.4" fill="url(#bwl)"/><circle cx="584.1" cy="946.3" r="5.6" fill="url(#bwl)"/><circle cx="504.3" cy="970.8" r="5.6" fill="url(#bwl)"/><circle cx="523.7" cy="965.0" r="10.3" fill="url(#bwl)"/><circle cx="541.5" cy="959.7" r="11.5" fill="url(#bwl)"/><circle cx="525.6" cy="966.0" r="5.8" fill="url(#bwl)"/><circle cx="522.8" cy="967.5" r="8.6" fill="url(#bwl)"/><circle cx="574.7" cy="953.5" r="6.4" fill="url(#bwl)"/><circle cx="581.5" cy="952.5" r="11.8" fill="url(#bwl)"/><circle cx="529.9" cy="968.1" r="9.6" fill="url(#bwl)"/><circle cx="584.2" cy="954.0" r="9.3" fill="url(#bwl)"/><circle cx="589.5" cy="953.3" r="11.9" fill="url(#bwl)"/><circle cx="552.1" cy="964.7" r="7.4" fill="url(#bwl)"/><circle cx="571.3" cy="959.3" r="7.9" fill="url(#bwl)"/><circle cx="556.8" cy="964.2" r="9.3" fill="url(#bwl)"/><circle cx="549.6" cy="966.6" r="10.4" fill="url(#bwl)"/><circle cx="579.6" cy="960.4" r="9.6" fill="url(#bwl)"/><circle cx="579.5" cy="964.4" r="10.2" fill="url(#bwl)"/><circle cx="564.0" cy="970.0" r="7.7" fill="url(#bwl)"/><circle cx="582.3" cy="966.2" r="9.5" fill="url(#bwl)"/><circle cx="578.3" cy="971.7" r="7.5" fill="url(#bwl)"/><circle cx="576.3" cy="911.2" r="4.7" fill="url(#bdl)"/><circle cx="572.9" cy="912.9" r="5.2" fill="url(#bdl)"/><circle cx="581.2" cy="912.9" r="5.0" fill="url(#bdl)"/><circle cx="579.0" cy="913.8" r="5.8" fill="url(#bdl)"/><circle cx="578.8" cy="914.6" r="5.8" fill="url(#bdl)"/><circle cx="574.0" cy="916.5" r="6.2" fill="url(#bdl)"/><circle cx="580.2" cy="915.5" r="5.8" fill="url(#bdl)"/><circle cx="573.7" cy="917.8" r="5.4" fill="url(#bdl)"/><circle cx="573.5" cy="917.9" r="5.5" fill="url(#bdl)"/><circle cx="577.2" cy="917.2" r="5.3" fill="url(#bdl)"/><circle cx="580.2" cy="917.2" r="4.5" fill="url(#bdl)"/><circle cx="529.5" cy="962.3" r="7.3" fill="url(#bdl)"/><circle cx="531.4" cy="963.1" r="7.5" fill="url(#bdl)"/><circle cx="535.0" cy="963.4" r="8.5" fill="url(#bdl)"/><circle cx="534.8" cy="963.5" r="8.5" fill="url(#bdl)"/><circle cx="540.2" cy="962.3" r="8.5" fill="url(#bdl)"/><circle cx="537.5" cy="963.1" r="7.6" fill="url(#bdl)"/><circle cx="540.3" cy="962.6" r="7.8" fill="url(#bdl)"/><circle cx="540.7" cy="963.2" r="6.4" fill="url(#bdl)"/><circle cx="542.9" cy="962.6" r="7.7" fill="url(#bdl)"/><circle cx="530.5" cy="967.0" r="6.0" fill="url(#bdl)"/><circle cx="536.2" cy="965.4" r="7.6" fill="url(#bdl)"/><circle cx="536.8" cy="966.1" r="8.5" fill="url(#bdl)"/><circle cx="541.1" cy="964.9" r="6.5" fill="url(#bdl)"/><circle cx="542.6" cy="964.5" r="6.4" fill="url(#bdl)"/><circle cx="534.8" cy="967.0" r="7.5" fill="url(#bdl)"/><circle cx="546.3" cy="963.6" r="7.0" fill="url(#bdl)"/><circle cx="538.9" cy="965.9" r="7.2" fill="url(#bdl)"/><circle cx="532.3" cy="968.0" r="7.6" fill="url(#bdl)"/><circle cx="541.0" cy="966.1" r="6.2" fill="url(#bdl)"/><circle cx="540.1" cy="966.4" r="7.1" fill="url(#bdl)"/><circle cx="544.7" cy="965.7" r="6.6" fill="url(#bdl)"/><circle cx="544.4" cy="966.0" r="6.3" fill="url(#bdl)"/><circle cx="543.6" cy="967.0" r="7.5" fill="url(#bdl)"/><circle cx="540.0" cy="968.2" r="6.4" fill="url(#bdl)"/><circle cx="531.6" cy="970.9" r="7.6" fill="url(#bdl)"/><circle cx="542.6" cy="968.3" r="7.4" fill="url(#bdl)"/><circle cx="537.1" cy="970.7" r="6.6" fill="url(#bdl)"/><circle cx="545.0" cy="968.4" r="7.0" fill="url(#bdl)"/><circle cx="536.2" cy="971.1" r="7.7" fill="url(#bdl)"/><circle cx="535.3" cy="971.4" r="7.0" fill="url(#bdl)"/><circle cx="536.0" cy="971.3" r="7.0" fill="url(#bdl)"/><circle cx="539.0" cy="970.6" r="7.8" fill="url(#bdl)"/><circle cx="544.9" cy="969.3" r="8.5" fill="url(#bdl)"/><circle cx="542.9" cy="970.0" r="8.4" fill="url(#bdl)"/><circle cx="547.0" cy="968.9" r="6.4" fill="url(#bdl)"/><circle cx="542.7" cy="970.5" r="8.0" fill="url(#bdl)"/><circle cx="480.9" cy="813.4" r="6.2" fill="url(#bol)"/><circle cx="484.3" cy="813.8" r="5.8" fill="url(#bol)"/><circle cx="478.4" cy="816.5" r="7.9" fill="url(#bol)"/><circle cx="486.6" cy="814.6" r="6.4" fill="url(#bol)"/><circle cx="482.0" cy="816.8" r="6.6" fill="url(#bol)"/><circle cx="486.1" cy="815.8" r="6.8" fill="url(#bol)"/><circle cx="479.4" cy="819.1" r="5.8" fill="url(#bol)"/><circle cx="479.3" cy="819.6" r="6.0" fill="url(#bol)"/><circle cx="487.7" cy="817.2" r="5.8" fill="url(#bol)"/><circle cx="485.2" cy="818.8" r="5.5" fill="url(#bol)"/><circle cx="484.2" cy="820.4" r="7.8" fill="url(#bol)"/><circle cx="481.4" cy="821.6" r="7.1" fill="url(#bol)"/><circle cx="483.7" cy="821.7" r="6.9" fill="url(#bol)"/><circle cx="482.8" cy="822.8" r="5.9" fill="url(#bol)"/><circle cx="481.3" cy="823.6" r="6.7" fill="url(#bol)"/><circle cx="483.3" cy="824.6" r="5.5" fill="url(#bol)"/><circle cx="483.4" cy="825.7" r="5.9" fill="url(#bol)"/><circle cx="486.0" cy="825.1" r="7.8" fill="url(#bol)"/><circle cx="485.0" cy="825.5" r="6.9" fill="url(#bol)"/><circle cx="485.5" cy="825.6" r="6.7" fill="url(#bol)"/><circle cx="484.2" cy="826.1" r="8.1" fill="url(#bol)"/><circle cx="568.2" cy="816.3" r="7.7" fill="url(#bol)"/><circle cx="564.6" cy="818.0" r="8.4" fill="url(#bol)"/><circle cx="569.2" cy="816.6" r="6.0" fill="url(#bol)"/><circle cx="567.8" cy="817.2" r="8.0" fill="url(#bol)"/><circle cx="473.3" cy="846.9" r="3.8" fill="url(#bol)"/><circle cx="568.4" cy="818.4" r="6.4" fill="url(#bol)"/><circle cx="570.8" cy="818.3" r="7.1" fill="url(#bol)"/><circle cx="565.2" cy="820.1" r="7.7" fill="url(#bol)"/><circle cx="473.2" cy="848.5" r="2.9" fill="url(#bol)"/><circle cx="474.0" cy="848.4" r="4.0" fill="url(#bol)"/><circle cx="568.3" cy="820.1" r="6.1" fill="url(#bol)"/><circle cx="563.7" cy="823.3" r="8.4" fill="url(#bol)"/><circle cx="563.3" cy="823.4" r="6.7" fill="url(#bol)"/><circle cx="568.4" cy="823.4" r="7.1" fill="url(#bol)"/><circle cx="571.0" cy="823.3" r="7.9" fill="url(#bol)"/><circle cx="567.6" cy="824.7" r="6.2" fill="url(#bol)"/><circle cx="569.8" cy="824.5" r="8.4" fill="url(#bol)"/><circle cx="572.0" cy="824.1" r="7.9" fill="url(#bol)"/><circle cx="565.1" cy="826.7" r="6.8" fill="url(#bol)"/><circle cx="568.8" cy="825.7" r="7.3" fill="url(#bol)"/><circle cx="565.2" cy="827.2" r="6.8" fill="url(#bol)"/><circle cx="554.9" cy="834.2" r="6.9" fill="url(#bol)"/><circle cx="553.2" cy="835.4" r="7.2" fill="url(#bol)"/><circle cx="553.6" cy="835.4" r="6.6" fill="url(#bol)"/><circle cx="550.3" cy="838.0" r="7.0" fill="url(#bol)"/><circle cx="557.7" cy="836.3" r="5.8" fill="url(#bol)"/><circle cx="556.0" cy="836.8" r="7.0" fill="url(#bol)"/><circle cx="552.0" cy="838.7" r="5.6" fill="url(#bol)"/><circle cx="551.4" cy="839.5" r="5.7" fill="url(#bol)"/><circle cx="553.4" cy="840.2" r="5.7" fill="url(#bol)"/><circle cx="552.4" cy="840.9" r="5.5" fill="url(#bol)"/><circle cx="554.2" cy="840.4" r="6.2" fill="url(#bol)"/><circle cx="553.5" cy="841.0" r="5.9" fill="url(#bol)"/><circle cx="558.4" cy="840.1" r="6.4" fill="url(#bol)"/><circle cx="560.0" cy="840.6" r="6.3" fill="url(#bol)"/><circle cx="542.4" cy="848.4" r="4.7" fill="url(#bol)"/><circle cx="539.6" cy="851.4" r="5.2" fill="url(#bol)"/><circle cx="546.4" cy="849.6" r="4.4" fill="url(#bol)"/><circle cx="541.0" cy="852.0" r="4.8" fill="url(#bol)"/><circle cx="541.5" cy="852.5" r="6.0" fill="url(#bol)"/><circle cx="547.1" cy="852.5" r="5.3" fill="url(#bol)"/><circle cx="542.3" cy="855.1" r="6.2" fill="url(#bol)"/><circle cx="542.7" cy="855.3" r="5.4" fill="url(#bol)"/><circle cx="545.3" cy="855.2" r="5.4" fill="url(#bol)"/><circle cx="472.5" cy="898.2" r="4.1" fill="url(#bol)"/><circle cx="475.5" cy="898.5" r="4.6" fill="url(#bol)"/><circle cx="473.0" cy="899.6" r="3.6" fill="url(#bol)"/><circle cx="477.0" cy="899.7" r="4.1" fill="url(#bol)"/><circle cx="477.8" cy="900.4" r="3.8" fill="url(#bol)"/><circle cx="474.0" cy="901.8" r="4.0" fill="url(#bol)"/><circle cx="474.4" cy="902.2" r="4.1" fill="url(#bol)"/><circle cx="474.8" cy="903.2" r="4.1" fill="url(#bol)"/><circle cx="474.7" cy="903.9" r="3.4" fill="url(#bol)"/><circle cx="527.0" cy="907.7" r="8.4" fill="url(#bol)"/><circle cx="528.5" cy="907.9" r="8.1" fill="url(#bol)"/><circle cx="529.4" cy="909.1" r="6.7" fill="url(#bol)"/><circle cx="535.9" cy="907.5" r="6.7" fill="url(#bol)"/><circle cx="532.9" cy="908.6" r="8.5" fill="url(#bol)"/><circle cx="536.1" cy="909.0" r="8.2" fill="url(#bol)"/><circle cx="537.4" cy="908.7" r="6.1" fill="url(#bol)"/><circle cx="526.0" cy="912.2" r="8.0" fill="url(#bol)"/><circle cx="489.8" cy="923.5" r="8.5" fill="url(#bol)"/><circle cx="496.6" cy="922.0" r="8.5" fill="url(#bol)"/><circle cx="488.6" cy="924.5" r="8.5" fill="url(#bol)"/><circle cx="492.2" cy="923.5" r="8.5" fill="url(#bol)"/><circle cx="487.6" cy="925.0" r="8.5" fill="url(#bol)"/><circle cx="489.9" cy="924.4" r="8.5" fill="url(#bol)"/><circle cx="537.7" cy="910.2" r="8.2" fill="url(#bol)"/><circle cx="498.9" cy="922.1" r="8.5" fill="url(#bol)"/><circle cx="487.2" cy="925.9" r="8.5" fill="url(#bol)"/><circle cx="501.0" cy="921.8" r="8.5" fill="url(#bol)"/><circle cx="486.4" cy="926.2" r="8.5" fill="url(#bol)"/><circle cx="497.3" cy="923.3" r="8.5" fill="url(#bol)"/><circle cx="491.9" cy="925.1" r="8.5" fill="url(#bol)"/><circle cx="530.2" cy="913.7" r="6.5" fill="url(#bol)"/><circle cx="501.4" cy="922.3" r="8.5" fill="url(#bol)"/><circle cx="498.1" cy="923.3" r="8.5" fill="url(#bol)"/><circle cx="493.2" cy="924.9" r="8.5" fill="url(#bol)"/><circle cx="530.9" cy="913.7" r="6.0" fill="url(#bol)"/><circle cx="532.0" cy="913.4" r="8.5" fill="url(#bol)"/><circle cx="530.1" cy="914.1" r="8.1" fill="url(#bol)"/><circle cx="498.2" cy="923.7" r="8.5" fill="url(#bol)"/><circle cx="538.0" cy="911.9" r="6.9" fill="url(#bol)"/><circle cx="538.3" cy="912.0" r="6.6" fill="url(#bol)"/><circle cx="496.5" cy="924.6" r="8.5" fill="url(#bol)"/><circle cx="528.1" cy="915.2" r="5.9" fill="url(#bol)"/><circle cx="530.4" cy="914.5" r="7.9" fill="url(#bol)"/><circle cx="532.3" cy="914.0" r="7.8" fill="url(#bol)"/><circle cx="500.0" cy="923.9" r="8.5" fill="url(#bol)"/><circle cx="537.0" cy="913.2" r="5.8" fill="url(#bol)"/><circle cx="501.6" cy="923.9" r="8.5" fill="url(#bol)"/><circle cx="531.8" cy="915.3" r="7.6" fill="url(#bol)"/><circle cx="488.6" cy="928.9" r="8.5" fill="url(#bol)"/><circle cx="487.6" cy="929.3" r="8.5" fill="url(#bol)"/><circle cx="502.9" cy="925.4" r="8.5" fill="url(#bol)"/><circle cx="490.4" cy="929.4" r="8.5" fill="url(#bol)"/><circle cx="495.6" cy="928.0" r="8.5" fill="url(#bol)"/><circle cx="501.1" cy="926.7" r="8.5" fill="url(#bol)"/><circle cx="495.4" cy="928.8" r="8.5" fill="url(#bol)"/><circle cx="499.4" cy="927.6" r="8.5" fill="url(#bol)"/><circle cx="498.2" cy="928.4" r="8.5" fill="url(#bol)"/><circle cx="608.2" cy="895.6" r="4.1" fill="url(#bol)"/><circle cx="491.4" cy="930.9" r="8.5" fill="url(#bol)"/><circle cx="493.2" cy="930.4" r="8.5" fill="url(#bol)"/><circle cx="610.3" cy="895.4" r="3.6" fill="url(#bol)"/><circle cx="609.6" cy="895.9" r="4.5" fill="url(#bol)"/><circle cx="494.5" cy="930.7" r="8.5" fill="url(#bol)"/><circle cx="495.7" cy="930.8" r="8.5" fill="url(#bol)"/><circle cx="490.8" cy="932.4" r="8.5" fill="url(#bol)"/><circle cx="494.0" cy="932.5" r="8.5" fill="url(#bol)"/><circle cx="609.3" cy="898.7" r="5.2" fill="url(#bol)"/><circle cx="493.0" cy="933.6" r="8.5" fill="url(#bol)"/><circle cx="495.6" cy="933.1" r="8.5" fill="url(#bol)"/><circle cx="607.3" cy="900.2" r="5.3" fill="url(#bol)"/><circle cx="495.2" cy="934.0" r="8.5" fill="url(#bol)"/><circle cx="499.5" cy="932.7" r="8.5" fill="url(#bol)"/><circle cx="499.6" cy="932.9" r="8.5" fill="url(#bol)"/><circle cx="611.3" cy="899.7" r="5.1" fill="url(#bol)"/><circle cx="610.4" cy="900.3" r="4.7" fill="url(#bol)"/><circle cx="551.6" cy="936.7" r="6.3" fill="url(#bol)"/><circle cx="548.1" cy="938.4" r="6.9" fill="url(#bol)"/><circle cx="550.9" cy="938.4" r="5.1" fill="url(#bol)"/><circle cx="549.8" cy="939.1" r="5.3" fill="url(#bol)"/><circle cx="553.4" cy="938.3" r="6.1" fill="url(#bol)"/><circle cx="555.0" cy="938.2" r="5.6" fill="url(#bol)"/><circle cx="549.1" cy="940.7" r="6.3" fill="url(#bol)"/><circle cx="548.5" cy="941.9" r="5.9" fill="url(#bol)"/><circle cx="553.3" cy="940.6" r="7.1" fill="url(#bol)"/><circle cx="552.8" cy="940.9" r="5.9" fill="url(#bol)"/><circle cx="551.9" cy="941.3" r="6.8" fill="url(#bol)"/><circle cx="549.1" cy="942.7" r="4.8" fill="url(#bol)"/><circle cx="557.9" cy="940.9" r="5.4" fill="url(#bol)"/><circle cx="553.9" cy="942.8" r="6.9" fill="url(#bol)"/><circle cx="562.9" cy="969.6" r="2.8" fill="url(#bol)"/><circle cx="559.8" cy="970.8" r="3.5" fill="url(#bol)"/><circle cx="559.8" cy="971.6" r="3.6" fill="url(#bol)"/>
<path d="M456.0,861.8 C455.7,860.5 453.8,861.8 452.6,861.5 C451.4,861.3 449.1,861.1 448.8,860.3 C448.5,859.5 450.4,858.3 450.8,856.8 C451.3,855.3 450.9,853.0 451.7,851.5 C452.5,850.0 454.6,849.4 455.8,848.0 C457.0,846.5 458.5,844.4 459.0,842.8 C459.5,841.2 458.5,839.8 458.8,838.3 C459.0,836.9 459.4,835.5 460.4,834.0 C461.4,832.5 463.7,830.9 464.9,829.2 C466.2,827.5 466.9,825.8 467.7,823.8 C468.5,821.8 469.5,819.1 470.0,817.2 C470.5,815.2 470.2,813.5 470.7,812.1 C471.2,810.7 472.1,809.7 472.8,808.7 C473.5,807.7 473.5,806.8 475.0,806.3 C476.5,805.8 479.5,805.9 481.7,805.7 C483.9,805.4 486.4,805.2 488.2,804.8 C490.0,804.4 490.6,803.8 492.3,803.5 C494.0,803.3 496.0,803.4 498.4,803.4 C500.8,803.4 503.8,803.7 506.7,803.5 C509.6,803.2 513.3,802.4 515.9,801.9 C518.5,801.4 520.3,800.7 522.3,800.5 C524.2,800.2 525.9,801.3 527.6,800.4 C529.3,799.5 531.1,796.8 532.6,795.3 C534.1,793.9 535.4,792.9 536.4,791.7 C537.4,790.5 538.1,789.2 538.8,788.3 C539.5,787.4 539.6,786.6 540.7,786.4 C541.8,786.2 543.6,786.9 545.6,786.8 C547.5,786.7 550.5,785.6 552.4,785.8 C554.3,786.0 555.2,787.2 556.9,788.2 C558.6,789.2 561.0,790.1 562.6,791.7 C564.2,793.3 565.5,795.8 566.5,797.5 C567.5,799.2 567.4,799.9 568.5,801.9 C569.6,803.9 571.5,807.2 573.2,809.4 C574.9,811.6 576.9,813.0 578.7,815.0 C580.5,817.0 582.2,819.3 583.9,821.2 C585.6,823.2 586.9,825.1 588.9,826.7 C590.9,828.3 593.2,829.5 595.6,830.5 C598.0,831.5 601.1,831.6 603.5,832.6 C605.9,833.6 607.8,835.5 609.7,836.4 C611.7,837.4 613.7,837.4 615.2,838.4 C616.7,839.4 617.9,840.9 618.9,842.4 C619.9,843.9 620.6,845.5 621.0,847.2 C621.4,848.9 621.2,850.4 621.5,852.3 C621.7,854.3 622.2,857.6 622.5,858.8 C622.8,860.0 622.6,858.8 623.0,859.3 C623.5,859.7 624.7,859.7 625.0,861.5 C625.3,863.3 624.9,867.2 625.1,870.0 C625.3,872.7 626.2,875.5 626.0,878.0 C625.8,880.5 624.3,882.9 624.0,885.2 C623.7,887.5 624.3,890.2 624.0,891.7 C623.7,893.2 622.7,893.3 622.2,894.2 C621.7,895.2 621.5,896.1 621.0,897.5 C620.5,898.9 620.2,900.9 619.4,902.6 C618.7,904.3 617.5,905.5 616.6,907.7 C615.7,909.9 614.8,913.0 614.1,915.7 C613.4,918.4 613.4,921.4 612.3,923.8 C611.2,926.2 609.3,927.8 607.6,930.2 C605.8,932.6 603.1,936.5 602.0,938.4 C600.9,940.3 601.5,940.4 600.8,941.8 C600.1,943.3 598.9,944.7 597.7,947.2 C596.5,949.7 595.3,953.7 593.8,956.6 C592.3,959.6 590.4,962.4 588.9,964.7 C587.4,967.0 586.0,968.7 585.0,970.4 C584.0,972.1 587.0,974.2 583.0,975.0 C579.0,975.8 568.4,975.3 561.2,975.4 C554.1,975.5 547.4,975.7 540.0,975.5 C532.6,975.3 524.2,974.4 516.8,974.3 C509.4,974.3 498.5,975.6 495.5,975.0 C492.5,974.4 497.3,972.5 498.5,970.8 C499.7,969.0 502.6,966.2 502.8,964.7 C503.0,963.2 500.7,962.8 500.0,961.6 C499.3,960.3 498.6,958.8 498.4,957.4 C498.2,956.0 498.8,954.9 498.5,953.2 C498.3,951.5 497.9,948.9 496.9,947.2 C495.9,945.5 493.7,944.5 492.2,943.3 C490.8,942.0 489.7,941.2 488.2,939.9 C486.7,938.6 484.8,937.0 483.1,935.3 C481.4,933.6 479.1,931.4 478.0,929.6 C476.9,927.8 476.7,926.2 476.5,924.3 C476.2,922.4 476.0,919.7 476.5,918.0 C477.0,916.3 478.6,915.8 479.3,914.3 C480.0,912.9 481.0,910.4 480.9,909.2 C480.8,908.0 479.0,908.2 478.5,907.2 C478.0,906.2 479.6,904.2 478.0,903.4 C476.4,902.6 471.8,902.6 469.1,902.3 C466.4,902.1 463.6,902.6 461.9,901.9 C460.2,901.2 460.2,899.8 459.2,898.3 C458.2,896.9 456.9,895.1 456.0,893.1 C455.1,891.1 454.5,888.9 453.9,886.4 C453.3,883.9 452.4,880.8 452.5,878.0 C452.6,875.2 453.8,872.2 454.3,869.5 C454.9,866.8 456.3,863.1 456.0,861.8 Z" fill="none" stroke="#8a8a8a" stroke-width="2.5" filter="url(#edl)" stroke-opacity="0.7"/>
</g>
<rect x="456.1" y="861.2" width="169.4" height="35.0" fill="#ade3ef" rx="6" fill-opacity="0.75"/>
<rect x="456.1" y="861.2" width="169.4" height="35.0" fill="none" rx="6" stroke="#1d2f66" stroke-width="0.9" stroke-dasharray="1.2,1.6"/>
<ellipse cx="462" cy="878.7" rx="5.5" ry="17.5" fill="none" stroke="#1d2f66" stroke-width="0.7" stroke-dasharray="1.2,1.6"/>
<ellipse cx="620" cy="878.7" rx="5.5" ry="17.5" fill="none" stroke="#1d2f66" stroke-width="0.7" stroke-dasharray="1.2,1.6"/>
<ellipse cx="482" cy="876" rx="12" ry="11" fill="#b78a3a" fill-opacity="0.75"/>
<path d="M538,870 L544,865 L549,870 L555,866 L561,870 L565,876 M541,877 L547,871 L553,877 L559,874 L564,879 M544,866 L546,880 M552,865 L556,879 M539,874 L560,868" fill="none" stroke="#d3213f" stroke-width="2.0" stroke-linejoin="round" stroke-linecap="round"/>
<circle cx="548.0" cy="871.0" r="1.6" fill="#3548c8"/>
<circle cx="556.0" cy="869.0" r="1.4" fill="#d8d840"/>
<text x="426.5" y="815.8" font-size="16" fill="#111">S455</text>
<text x="489.6" y="800.5" font-size="16" fill="#111">T463</text>
<text x="577.1" y="804.2" font-size="16" fill="#111">D467</text>
<text x="586.4" y="820.2" font-size="16" fill="#111">L449</text>
<line x1="586.4" y1="823.9" x2="622.9" y2="823.9" stroke="#111" stroke-width="1.0" />
<text x="414.6" y="850.7" font-size="16" fill="#111">D530</text>
<text x="411.6" y="880.5" font-size="16" fill="#111">L532</text>
<line x1="411.6" y1="884.0" x2="447.0" y2="884.0" stroke="#111" stroke-width="1.0" />
<text x="437.4" y="921.3" font-size="16" fill="#111">N523</text>
<text x="396.2" y="947.3" font-size="16" fill="#111">K626-D628</text>
<text x="465.4" y="968.0" font-size="16" fill="#111">K630</text>
<text x="605.0" y="958.0" font-size="16" fill="#111">G631</text>
<text x="616.2" y="937.1" font-size="16" fill="#111">L610</text>
<line x1="616.2" y1="940.8" x2="652.6" y2="940.8" stroke="#111" stroke-width="1.0" />
<line x1="518.0" y1="802.0" x2="543.0" y2="848.0" stroke="#111" stroke-width="0.8" />
<line x1="604.0" y1="808.0" x2="597.0" y2="826.0" stroke="#111" stroke-width="0.8" />
<line x1="608.0" y1="822.0" x2="590.0" y2="841.0" stroke="#111" stroke-width="0.8" />
<line x1="464.0" y1="811.0" x2="472.0" y2="812.0" stroke="#111" stroke-width="0.8" />
<line x1="453.0" y1="847.0" x2="469.0" y2="847.0" stroke="#111" stroke-width="0.8" />
<line x1="448.0" y1="876.0" x2="470.0" y2="876.0" stroke="#111" stroke-width="0.8" />
<line x1="467.0" y1="911.0" x2="472.0" y2="903.0" stroke="#111" stroke-width="0.8" />
<line x1="478.0" y1="940.0" x2="486.0" y2="935.0" stroke="#111" stroke-width="0.8" />
<line x1="500.0" y1="960.0" x2="532.0" y2="913.0" stroke="#111" stroke-width="0.8" />
<line x1="599.0" y1="948.0" x2="548.0" y2="910.0" stroke="#111" stroke-width="0.8" />
<line x1="620.0" y1="925.0" x2="610.0" y2="903.0" stroke="#111" stroke-width="0.8" />
</svg>
</body></html>
